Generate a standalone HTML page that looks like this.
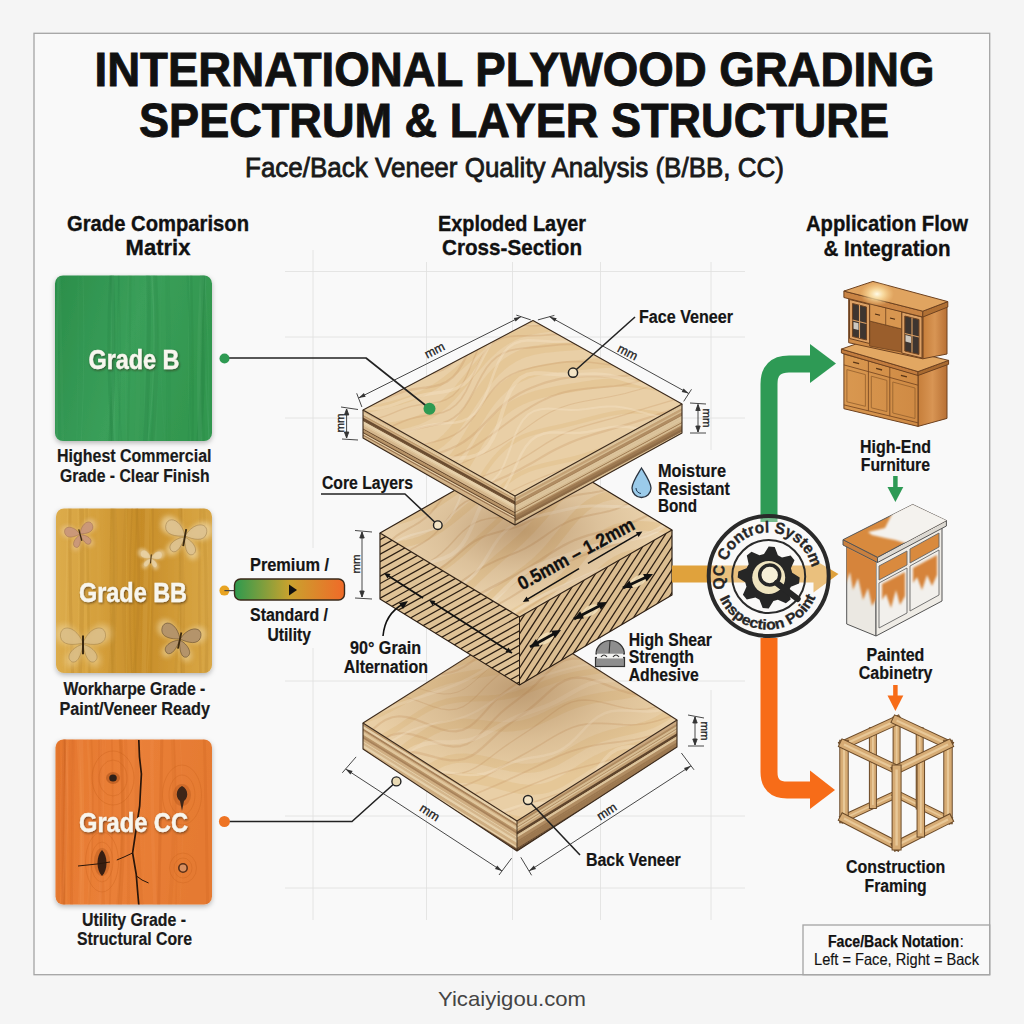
<!DOCTYPE html>
<html><head><meta charset="utf-8">
<style>
html,body{margin:0;padding:0;width:1024px;height:1024px;overflow:hidden;background:#f5f5f5;}
svg{position:absolute;left:0;top:0;}
text{font-family:"Liberation Sans",sans-serif;}
</style></head>
<body>
<svg width="1024" height="1024" viewBox="0 0 1024 1024">
<defs>
  <linearGradient id="gB" x1="0" y1="0" x2="1" y2="0.3">
    <stop offset="0" stop-color="#2b8e4a"/><stop offset="0.55" stop-color="#3a9f5a"/><stop offset="1" stop-color="#33974f"/>
  </linearGradient>
  <linearGradient id="gBB" x1="0" y1="0" x2="1" y2="0">
    <stop offset="0" stop-color="#dcac4c"/><stop offset="0.3" stop-color="#d49e3a"/><stop offset="0.55" stop-color="#c68c28"/><stop offset="0.78" stop-color="#d29c38"/><stop offset="1" stop-color="#d9a848"/>
  </linearGradient>
  <filter id="blur1" x="-20%" y="-20%" width="140%" height="140%"><feGaussianBlur stdDeviation="1"/></filter>
  <filter id="blur2"><feGaussianBlur stdDeviation="2"/></filter>
  <linearGradient id="gCC" x1="0" y1="0" x2="1" y2="0.2">
    <stop offset="0" stop-color="#e5772e"/><stop offset="0.5" stop-color="#ea8038"/><stop offset="1" stop-color="#e57a32"/>
  </linearGradient>
  <linearGradient id="gBar" x1="0" y1="0" x2="1" y2="0">
    <stop offset="0" stop-color="#2e9a4e"/><stop offset="0.5" stop-color="#c9a22e"/><stop offset="1" stop-color="#f06a28"/>
  </linearGradient>
  <radialGradient id="shadowB" gradientUnits="userSpaceOnUse" cx="520" cy="690" r="120" gradientTransform="translate(520 690) scale(1.3 0.75) translate(-520 -690)">
    <stop offset="0" stop-color="#8a5e34" stop-opacity="0.45"/><stop offset="0.55" stop-color="#8a5e34" stop-opacity="0.15"/><stop offset="1" stop-color="#8a5e34" stop-opacity="0"/>
  </radialGradient>
  <radialGradient id="shadowM" gradientUnits="userSpaceOnUse" cx="520" cy="530" r="110" gradientTransform="translate(520 530) scale(1.3 0.7) translate(-520 -530)">
    <stop offset="0" stop-color="#8a5e34" stop-opacity="0.45"/><stop offset="0.55" stop-color="#8a5e34" stop-opacity="0.15"/><stop offset="1" stop-color="#8a5e34" stop-opacity="0"/>
  </radialGradient>
  <filter id="sh" x="-20%" y="-20%" width="140%" height="140%"><feDropShadow dx="0" dy="2" stdDeviation="2.5" flood-color="#000" flood-opacity="0.28"/></filter>
  <filter id="tsh" x="-10%" y="-30%" width="120%" height="160%"><feDropShadow dx="0.8" dy="1.2" stdDeviation="1.2" flood-color="#2a1a0a" flood-opacity="0.6"/></filter>
</defs>
<!-- frame -->
<rect x="34" y="33.3" width="955.7" height="941.4" fill="#f9f9f9" stroke="#a4a4a4" stroke-width="1.3"/>

<rect x="55" y="275.5" width="157" height="165.5" rx="8" fill="url(#gB)" filter="url(#sh)"/>
<rect x="56" y="508.5" width="156" height="164.5" rx="8" fill="url(#gBB)" filter="url(#sh)"/>
<rect x="55.5" y="739.5" width="156.5" height="165" rx="8" fill="url(#gCC)" filter="url(#sh)"/>
<g stroke="#e0e0de" stroke-width="0.8" fill="none">
<line x1="313" y1="250" x2="313" y2="548"/><line x1="313" y1="648" x2="313" y2="920"/>
<line x1="711" y1="262" x2="711" y2="450"/><line x1="711" y1="690" x2="711" y2="920"/>
<line x1="426.5" y1="262" x2="426.5" y2="920"/>
<line x1="512.5" y1="262" x2="512.5" y2="920"/>
<line x1="600.5" y1="262" x2="600.5" y2="920"/>
<line x1="285" y1="271.5" x2="745" y2="271.5"/>
<line x1="285" y1="337" x2="745" y2="337"/>
<line x1="285" y1="418" x2="745" y2="418"/>
<line x1="285" y1="681" x2="745" y2="681"/>
<line x1="285" y1="816" x2="745" y2="816"/>
<line x1="285" y1="888" x2="745" y2="888"/>
</g>
<clipPath id="bbt"><polygon points="523.0,622.0 677.0,720.0 517.0,821.0 363.0,723.0"/></clipPath>
<clipPath id="bbl"><polygon points="363.0,723.0 517.0,821.0 517.0,851.0 363.0,749.0"/></clipPath>
<clipPath id="bbr"><polygon points="517.0,821.0 677.0,720.0 677.0,747.0 517.0,851.0"/></clipPath>
<polygon points="363.0,723.0 517.0,821.0 517.0,851.0 363.0,749.0" fill="#c9a87c"/>
<g clip-path="url(#bbl)" fill="none">
<path d="M361.0,723.9 Q440.0,772.8 519.0,821.9" stroke="#b89468" stroke-width="1.80"/>
<path d="M361.0,726.1 Q440.0,774.8 519.0,824.1" stroke="#e6d0aa" stroke-width="2.68"/>
<path d="M361.0,728.4 Q440.0,777.0 519.0,826.4" stroke="#a8825a" stroke-width="1.93"/>
<path d="M361.0,730.1 Q440.0,779.2 519.0,828.1" stroke="#cfae82" stroke-width="1.47"/>
<path d="M361.0,732.2 Q440.0,781.4 519.0,830.2" stroke="#e0c69c" stroke-width="2.76"/>
<path d="M361.0,734.5 Q440.0,783.6 519.0,832.5" stroke="#b89468" stroke-width="1.67"/>
<path d="M361.0,736.4 Q440.0,785.5 519.0,834.4" stroke="#a8825a" stroke-width="2.15"/>
<path d="M361.0,738.8 Q440.0,787.2 519.0,836.8" stroke="#cfae82" stroke-width="2.63"/>
<path d="M361.0,740.7 Q440.0,789.8 519.0,838.7" stroke="#e6d0aa" stroke-width="1.22"/>
<path d="M361.0,742.6 Q440.0,791.5 519.0,840.6" stroke="#d4b68c" stroke-width="2.51"/>
<path d="M361.0,745.1 Q440.0,794.3 519.0,843.1" stroke="#e6d0aa" stroke-width="2.65"/>
<path d="M361.0,747.4 Q440.0,796.4 519.0,845.4" stroke="#cfae82" stroke-width="1.90"/>
<path d="M361.0,749.1 Q440.0,798.3 519.0,847.1" stroke="#cfae82" stroke-width="1.41"/>
<path d="M361.0,750.5 Q440.0,799.5 519.0,848.5" stroke="#e6d0aa" stroke-width="1.49"/>
<path d="M361.0,751.7 Q440.0,800.6 519.0,849.7" stroke="#cfae82" stroke-width="0.87"/>
<path d="M361.0,753.5 Q440.0,801.9 519.0,851.5" stroke="#6a4c30" stroke-width="2.66"/>
<path d="M361.0,755.2 Q440.0,803.9 519.0,853.2" stroke="#e0c69c" stroke-width="0.84"/>
</g>
<polygon points="517.0,821.0 677.0,720.0 677.0,747.0 517.0,851.0" fill="#c2a074"/>
<g clip-path="url(#bbr)" fill="none">
<path d="M515.0,821.9 Q597.0,771.0 679.0,720.9" stroke="#caa880" stroke-width="1.84"/>
<path d="M515.0,823.3 Q597.0,772.7 679.0,722.3" stroke="#caa880" stroke-width="0.82"/>
<path d="M515.0,824.8 Q597.0,774.5 679.0,723.8" stroke="#b08c62" stroke-width="2.22"/>
<path d="M515.0,826.9 Q597.0,776.6 679.0,725.9" stroke="#d6bc92" stroke-width="2.12"/>
<path d="M515.0,828.6 Q597.0,777.9 679.0,727.6" stroke="#b08c62" stroke-width="1.12"/>
<path d="M515.0,829.9 Q597.0,778.9 679.0,728.9" stroke="#dcc49c" stroke-width="1.55"/>
<path d="M515.0,832.0 Q597.0,781.5 679.0,731.0" stroke="#c4a276" stroke-width="2.60"/>
<path d="M515.0,834.6 Q597.0,784.4 679.0,733.6" stroke="#5e442c" stroke-width="2.60"/>
<path d="M515.0,836.4 Q597.0,786.3 679.0,735.4" stroke="#d6bc92" stroke-width="0.99"/>
<path d="M515.0,838.0 Q597.0,787.0 679.0,737.0" stroke="#dcc49c" stroke-width="2.26"/>
<path d="M515.0,840.6 Q597.0,789.6 679.0,739.6" stroke="#b08c62" stroke-width="2.97"/>
<path d="M515.0,843.0 Q597.0,792.5 679.0,742.0" stroke="#9c7850" stroke-width="1.73"/>
<path d="M515.0,845.2 Q597.0,795.3 679.0,744.2" stroke="#9c7850" stroke-width="2.74"/>
<path d="M515.0,847.9 Q597.0,797.5 679.0,746.9" stroke="#9c7850" stroke-width="2.75"/>
<path d="M515.0,849.8 Q597.0,799.5 679.0,748.8" stroke="#5e442c" stroke-width="0.98"/>
<path d="M515.0,851.2 Q597.0,800.8 679.0,750.2" stroke="#5e442c" stroke-width="1.83"/>
<path d="M515.0,853.2 Q597.0,803.3 679.0,752.2" stroke="#c4a276" stroke-width="2.21"/>
</g>
<polygon points="523.0,622.0 677.0,720.0 517.0,821.0 363.0,723.0" fill="#e9cfa6"/>
<g clip-path="url(#bbt)" fill="none" stroke="#e2c392" stroke-opacity="0.7" stroke-linecap="round" stroke-linejoin="round">
<path d="M277.0,634.0 L283.7,632.1 L290.4,630.1 L297.2,628.2 L303.9,626.2 L310.6,624.2 L317.3,622.1 L323.9,620.0 L330.6,617.9 L337.3,615.8 L343.9,613.6 L350.6,611.5 L357.3,609.4 L364.0,607.4 L370.7,605.4 L377.4,603.4 L384.2,601.5 L390.9,599.6 L397.7,597.7 L404.4,595.8 L411.1,593.8 L417.8,591.8 L424.5,589.7 L431.1,587.5 L437.7,585.2 L444.3,582.8 L450.9,580.3 L457.4,577.8 L463.9,575.2 L470.4,572.5 L476.9,569.9 L483.5,567.3 L490.0,564.7 L496.5,562.2 L503.1,559.8 L509.7,557.5 L516.3,555.3 L523.0,553.1 L529.7,551.0 L536.4,549.0 L543.1,547.0 L549.8,545.0 L556.5,543.0 L563.2,541.0 L569.9,539.0 L576.6,536.9 L583.3,534.8 L590.0,532.6 L596.6,530.5 L603.3,528.3 L609.9,526.1 L616.6,524.0 L623.3,521.9 L630.0,519.9 L636.7,517.9 L643.4,515.9 L650.2,514.1 L656.9,512.2 L663.7,510.4" stroke-width="10.41"/>
<path d="M284.8,658.0 L291.5,656.0 L298.2,654.0 L304.9,651.9 L311.6,649.9 L318.2,647.8 L324.9,645.6 L331.6,643.5 L338.2,641.4 L344.9,639.2 L351.6,637.1 L358.2,635.0 L364.9,632.9 L371.6,630.8 L378.3,628.8 L385.0,626.7 L391.7,624.7 L398.4,622.7 L405.1,620.7 L411.8,618.6 L418.5,616.5 L425.2,614.4 L431.8,612.2 L438.4,609.9 L445.0,607.6 L451.6,605.1 L458.1,602.6 L464.7,600.1 L471.2,597.5 L477.7,594.9 L484.2,592.4 L490.8,589.8 L497.3,587.4 L503.9,585.0 L510.5,582.7 L517.2,580.5 L523.9,578.4 L530.6,576.3 L537.3,574.3 L544.0,572.4 L550.7,570.5 L557.5,568.5 L564.2,566.6 L570.9,564.6 L577.6,562.6 L584.3,560.5 L591.0,558.5 L597.7,556.3 L604.3,554.2 L611.0,552.1 L617.7,549.9 L624.3,547.8 L631.0,545.7 L637.7,543.6 L644.4,541.6 L651.1,539.6 L657.8,537.7 L664.6,535.7 L671.3,533.8" stroke-width="9.74"/>
<path d="M296.1,692.9 L302.7,690.5 L309.3,688.2 L315.9,685.9 L322.5,683.6 L329.2,681.4 L335.8,679.2 L342.4,677.0 L349.1,674.8 L355.7,672.6 L362.4,670.4 L369.0,668.1 L375.6,665.8 L382.2,663.5 L388.8,661.2 L395.4,658.8 L402.0,656.4 L408.6,654.0 L415.2,651.6 L421.8,649.2 L428.3,646.8 L434.9,644.5 L441.5,642.2 L448.2,639.9 L454.8,637.6 L461.4,635.2 L468.0,632.9 L474.6,630.6 L481.2,628.2 L487.8,625.8 L494.3,623.5 L501.0,621.1 L507.6,618.9 L514.2,616.7 L520.9,614.6 L527.6,612.6 L534.4,610.7 L541.1,608.9 L547.9,607.1 L554.7,605.4 L561.5,603.7 L568.3,602.0 L575.1,600.2 L581.9,598.4 L588.7,596.6 L595.4,594.7 L602.2,592.8 L608.9,590.9 L615.6,588.8 L622.3,586.7 L628.9,584.6 L635.6,582.4 L642.2,580.2 L648.8,577.8 L655.4,575.5 L662.0,573.0 L668.5,570.6 L675.1,568.1 L681.6,565.6" stroke-width="9.60"/>
<path d="M306.0,723.4 L312.4,720.5 L318.9,717.7 L325.4,715.1 L331.9,712.6 L338.5,710.2 L345.1,707.9 L351.8,705.7 L358.4,703.4 L365.0,701.1 L371.6,698.7 L378.1,696.2 L384.6,693.5 L391.1,690.7 L397.5,687.8 L403.9,684.9 L410.3,681.9 L416.7,679.0 L423.1,676.1 L429.6,673.4 L436.1,670.8 L442.7,668.4 L449.3,666.1 L456.0,664.0 L462.7,662.0 L469.4,660.0 L476.1,658.1 L482.9,656.0 L489.5,654.0 L496.2,651.8 L502.9,649.6 L509.5,647.4 L516.1,645.2 L522.8,643.1 L529.5,641.1 L536.3,639.2 L543.1,637.5 L549.9,635.9 L556.8,634.4 L563.7,633.0 L570.6,631.7 L577.6,630.4 L584.5,629.0 L591.4,627.6 L598.3,626.2 L605.1,624.7 L612.0,623.0 L618.8,621.3 L625.5,619.4 L632.2,617.4 L638.8,615.1 L645.4,612.7 L651.9,610.0 L658.3,607.1 L664.7,604.1 L671.0,600.9 L677.3,597.6 L683.6,594.3 L689.9,591.1" stroke-width="5.71"/>
<path d="M311.7,740.8 L317.9,737.4 L324.2,734.2 L330.7,731.3 L337.2,728.7 L343.7,726.3 L350.3,723.9 L356.9,721.6 L363.5,719.2 L370.1,716.7 L376.5,714.0 L382.9,711.0 L389.3,707.8 L395.5,704.4 L401.8,700.9 L407.9,697.3 L414.2,693.8 L420.4,690.4 L426.8,687.3 L433.2,684.4 L439.8,682.0 L446.4,679.9 L453.2,678.2 L460.1,676.7 L467.1,675.5 L474.1,674.4 L481.1,673.3 L488.1,672.1 L495.0,670.7 L501.8,669.1 L508.6,667.2 L515.3,665.2 L521.9,663.1 L528.6,660.9 L535.3,658.8 L541.9,656.7 L548.7,654.8 L555.5,653.0 L562.3,651.4 L569.2,650.0 L576.1,648.7 L583.1,647.5 L590.1,646.3 L597.1,645.2 L604.1,644.0 L611.0,642.7 L617.9,641.2 L624.7,639.6 L631.5,637.7 L638.1,635.5 L644.6,632.9 L651.0,630.0 L657.3,626.7 L663.5,623.0 L669.6,619.1 L675.6,614.9 L681.6,610.7 L687.6,606.5 L693.6,602.5" stroke-width="8.66"/>
<path d="M319.5,764.8 L325.6,761.0 L331.9,757.7 L338.3,754.7 L344.8,752.1 L351.3,749.6 L357.9,747.2 L364.5,744.8 L371.0,742.3 L377.5,739.4 L383.8,736.3 L390.0,732.8 L396.2,729.1 L402.2,725.1 L408.3,721.0 L414.3,716.9 L420.4,713.0 L426.6,709.4 L432.9,706.3 L439.5,703.7 L446.2,701.7 L453.1,700.3 L460.1,699.4 L467.3,698.9 L474.6,698.6 L481.9,698.4 L489.2,698.2 L496.4,697.7 L503.5,696.8 L510.4,695.5 L517.2,693.8 L523.9,691.6 L530.4,689.3 L537.0,686.7 L543.5,684.1 L550.1,681.7 L556.7,679.4 L563.4,677.3 L570.2,675.6 L577.0,674.1 L584.0,672.9 L591.0,671.8 L598.1,670.9 L605.2,670.0 L612.2,669.1 L619.2,668.0 L626.2,666.7 L633.0,665.1 L639.7,663.1 L646.2,660.5 L652.6,657.5 L658.8,653.9 L664.8,649.8 L670.7,645.2 L676.5,640.4 L682.2,635.3 L687.9,630.2 L693.7,625.4 L699.6,620.9" stroke-width="5.86"/>
<path d="M327.0,788.0 L333.1,784.2 L339.4,780.9 L345.8,778.0 L352.4,775.4 L358.9,773.0 L365.5,770.6 L372.0,768.0 L378.5,765.2 L384.8,762.1 L391.0,758.5 L397.1,754.6 L403.1,750.3 L409.0,745.9 L414.9,741.5 L420.9,737.2 L427.0,733.3 L433.2,729.8 L439.7,727.1 L446.4,725.1 L453.4,723.9 L460.6,723.4 L468.0,723.6 L475.6,724.2 L483.2,725.1 L490.9,726.0 L498.4,726.6 L505.9,726.9 L513.1,726.6 L520.2,725.6 L527.0,724.0 L533.7,721.8 L540.2,719.2 L546.6,716.2 L552.9,713.1 L559.3,710.0 L565.7,707.1 L572.2,704.5 L578.8,702.3 L585.6,700.4 L592.4,698.9 L599.4,697.6 L606.4,696.6 L613.5,695.6 L620.5,694.7 L627.5,693.5 L634.4,692.1 L641.2,690.2 L647.7,687.8 L654.1,684.8 L660.3,681.1 L666.2,676.8 L672.0,671.9 L677.7,666.6 L683.2,661.0 L688.7,655.4 L694.3,649.9 L700.0,644.7 L705.9,640.2" stroke-width="9.60"/>
<path d="M337.3,819.7 L343.5,816.1 L349.8,813.0 L356.3,810.3 L362.9,807.8 L369.5,805.4 L376.0,802.9 L382.5,800.2 L388.9,797.2 L395.1,793.7 L401.2,789.9 L407.2,785.6 L413.1,781.2 L419.0,776.6 L424.9,772.2 L430.9,768.1 L437.1,764.5 L443.5,761.6 L450.2,759.5 L457.2,758.3 L464.5,758.0 L472.0,758.6 L479.8,759.8 L487.7,761.5 L495.7,763.5 L503.6,765.3 L511.5,766.9 L519.2,768.0 L526.7,768.4 L533.9,767.9 L540.9,766.7 L547.6,764.6 L554.0,761.9 L560.3,758.6 L566.5,755.1 L572.7,751.4 L578.9,747.7 L585.1,744.3 L591.5,741.2 L598.0,738.5 L604.6,736.2 L611.3,734.3 L618.1,732.6 L625.0,731.1 L631.9,729.6 L638.7,727.9 L645.4,726.0 L652.0,723.6 L658.4,720.6 L664.6,717.0 L670.6,712.8 L676.3,707.9 L682.0,702.5 L687.5,696.8 L692.9,690.9 L698.4,685.1 L704.0,679.6 L709.7,674.7 L715.7,670.6" stroke-width="9.22"/>
<path d="M342.4,835.3 L348.7,832.1 L355.1,829.2 L361.7,826.7 L368.3,824.3 L374.8,822.0 L381.4,819.4 L387.8,816.6 L394.1,813.3 L400.3,809.7 L406.4,805.7 L412.4,801.5 L418.3,797.1 L424.2,792.8 L430.3,788.7 L436.4,785.0 L442.8,782.0 L449.4,779.7 L456.3,778.3 L463.5,777.8 L471.0,778.2 L478.7,779.3 L486.7,781.0 L494.7,783.0 L502.7,785.2 L510.7,787.1 L518.6,788.7 L526.3,789.6 L533.7,789.8 L540.8,789.1 L547.7,787.5 L554.2,785.1 L560.6,782.1 L566.8,778.5 L572.9,774.6 L579.0,770.7 L585.1,766.7 L591.2,763.1 L597.5,759.7 L603.9,756.8 L610.5,754.3 L617.1,752.1 L623.9,750.2 L630.7,748.5 L637.4,746.7 L644.1,744.7 L650.7,742.4 L657.2,739.6 L663.5,736.2 L669.5,732.2 L675.4,727.7 L681.1,722.6 L686.7,717.1 L692.2,711.5 L697.7,705.8 L703.3,700.4 L709.1,695.4 L715.1,691.1 L721.3,687.7" stroke-width="10.03"/>
<path d="M351.5,863.4 L357.9,860.6 L364.5,858.0 L371.1,855.7 L377.7,853.4 L384.3,851.0 L390.8,848.4 L397.2,845.5 L403.5,842.2 L409.7,838.7 L415.8,834.8 L421.9,830.9 L428.0,826.9 L434.1,823.0 L440.3,819.5 L446.6,816.4 L453.2,814.0 L460.0,812.3 L467.1,811.4 L474.4,811.3 L482.0,811.9 L489.7,813.0 L497.6,814.6 L505.5,816.3 L513.4,818.1 L521.3,819.6 L529.0,820.7 L536.5,821.1 L543.8,820.8 L550.8,819.8 L557.5,818.0 L564.1,815.4 L570.4,812.3 L576.6,808.7 L582.7,804.8 L588.8,800.8 L594.9,796.9 L601.0,793.2 L607.3,789.8 L613.7,786.8 L620.1,784.1 L626.7,781.7 L633.4,779.5 L640.0,777.4 L646.7,775.2 L653.3,772.8 L659.8,770.2 L666.1,767.1 L672.3,763.5 L678.4,759.4 L684.3,754.9 L690.0,750.1 L695.7,745.0 L701.4,739.8 L707.2,734.8 L713.0,730.1 L719.0,726.0 L725.3,722.5 L731.8,719.9" stroke-width="5.66"/>
<path d="M359.5,888.1 L366.1,885.6 L372.7,883.3 L379.3,881.0 L385.9,878.7 L392.5,876.3 L399.0,873.7 L405.5,870.9 L411.8,867.8 L418.1,864.5 L424.3,861.0 L430.6,857.6 L436.8,854.1 L443.1,850.9 L449.5,848.0 L456.1,845.5 L462.8,843.5 L469.7,842.2 L476.8,841.4 L484.1,841.1 L491.5,841.3 L499.1,841.9 L506.7,842.7 L514.3,843.5 L521.9,844.3 L529.4,844.7 L536.8,844.8 L544.0,844.3 L551.1,843.3 L557.9,841.7 L564.5,839.4 L571.0,836.7 L577.3,833.6 L583.6,830.2 L589.8,826.6 L596.0,823.0 L602.2,819.5 L608.5,816.2 L614.9,813.1 L621.3,810.3 L627.8,807.7 L634.4,805.4 L641.0,803.1 L647.7,800.9 L654.3,798.6 L660.8,796.0 L667.3,793.3 L673.6,790.2 L679.9,786.7 L686.0,782.9 L692.0,778.9 L698.0,774.6 L704.0,770.2 L709.9,765.9 L716.0,761.8 L722.1,758.1 L728.4,754.8 L734.9,752.1 L741.6,750.1" stroke-width="6.85"/>
<path d="M366.5,909.5 L373.1,907.2 L379.7,905.0 L386.4,902.7 L393.0,900.5 L399.6,898.1 L406.1,895.6 L412.6,893.0 L419.1,890.2 L425.5,887.3 L431.9,884.4 L438.3,881.4 L444.8,878.6 L451.3,875.9 L457.8,873.5 L464.5,871.4 L471.3,869.6 L478.2,868.2 L485.2,867.1 L492.3,866.3 L499.5,865.7 L506.7,865.3 L513.9,865.0 L521.2,864.6 L528.4,864.1 L535.5,863.4 L542.6,862.4 L549.5,861.1 L556.3,859.4 L563.0,857.3 L569.5,854.9 L576.0,852.2 L582.5,849.3 L588.8,846.3 L595.2,843.2 L601.6,840.2 L608.0,837.2 L614.4,834.4 L620.9,831.7 L627.5,829.2 L634.0,826.9 L640.7,824.6 L647.3,822.4 L653.9,820.1 L660.5,817.8 L667.1,815.3 L673.6,812.6 L680.0,809.8 L686.4,806.7 L692.7,803.4 L698.9,800.1 L705.2,796.6 L711.4,793.1 L717.7,789.8 L724.0,786.6 L730.4,783.7 L736.9,781.1 L743.6,778.9 L750.3,777.1" stroke-width="7.76"/>
</g>
<g clip-path="url(#bbt)" fill="none" stroke="#c49462" stroke-opacity="0.28" stroke-linecap="round" stroke-linejoin="round">
<path d="M278.6,639.0 L285.3,637.0 L292.0,635.0 L298.7,632.9 L305.4,630.8 L312.1,628.7 L318.7,626.6 L325.4,624.4 L332.0,622.3 L338.7,620.2 L345.4,618.1 L352.1,616.1 L358.8,614.1 L365.5,612.1 L372.2,610.1 L378.9,608.0 L385.6,605.8 L392.2,603.6 L398.8,601.3 L405.4,598.9 L412.0,596.5 L418.6,594.0 L425.1,591.6 L431.7,589.3 L438.3,587.0 L445.0,584.7 L451.6,582.5 L458.3,580.4 L464.9,578.2 L471.6,576.1 L478.3,573.9 L484.9,571.7 L491.5,569.5 L498.2,567.3 L504.8,565.2 L511.5,563.0 L518.2,561.0 L524.9,559.0 L531.6,557.0 L538.4,555.1 L545.1,553.2 L551.9,551.3 L558.6,549.3 L565.3,547.3 L572.0,545.2 L578.6,543.0 L585.2,540.7 L591.8,538.4 L598.4,536.0 L605.0,533.7 L611.6,531.4 L618.2,529.1 L624.9,526.8 L631.5,524.6 L638.2,522.5 L644.8,520.3 L651.5,518.1 L658.1,515.9 L664.8,513.7" stroke-width="1.23"/>
<path d="M281.8,649.0 L288.6,647.2 L295.4,645.3 L302.1,643.3 L308.8,641.3 L315.5,639.2 L322.1,637.1 L328.8,634.9 L335.5,632.9 L342.2,630.9 L348.9,628.9 L355.7,627.1 L362.4,625.2 L369.2,623.3 L375.9,621.4 L382.6,619.3 L389.2,617.1 L395.8,614.7 L402.4,612.2 L408.9,609.5 L415.3,606.8 L421.8,604.2 L428.3,601.5 L434.9,599.0 L441.5,596.7 L448.1,594.4 L454.8,592.2 L461.4,590.1 L468.1,588.0 L474.8,585.9 L481.4,583.7 L488.1,581.5 L494.7,579.3 L501.3,577.0 L508.0,574.9 L514.7,572.8 L521.4,570.9 L528.2,569.1 L535.0,567.4 L541.8,565.7 L548.7,564.1 L555.5,562.4 L562.2,560.6 L569.0,558.6 L575.6,556.5 L582.2,554.2 L588.8,551.7 L595.3,549.2 L601.9,546.6 L608.4,544.0 L614.9,541.6 L621.5,539.2 L628.1,536.9 L634.8,534.7 L641.5,532.5 L648.1,530.4 L654.8,528.2 L661.4,526.0 L668.0,523.7" stroke-width="1.17"/>
<path d="M287.0,664.9 L293.7,662.8 L300.4,660.7 L307.0,658.6 L313.7,656.5 L320.4,654.3 L327.0,652.2 L333.7,650.0 L340.4,647.9 L347.0,645.8 L353.7,643.7 L360.4,641.7 L367.1,639.6 L373.8,637.5 L380.5,635.4 L387.1,633.2 L393.8,631.0 L400.4,628.7 L407.0,626.4 L413.6,624.1 L420.2,621.7 L426.8,619.4 L433.4,617.0 L440.0,614.7 L446.6,612.4 L453.2,610.1 L459.8,607.8 L466.4,605.5 L473.0,603.2 L479.6,600.9 L486.2,598.5 L492.9,596.2 L499.5,593.9 L506.1,591.7 L512.8,589.5 L519.4,587.4 L526.1,585.4 L532.9,583.5 L539.6,581.6 L546.4,579.8 L553.2,578.0 L559.9,576.1 L566.7,574.2 L573.4,572.2 L580.1,570.1 L586.7,568.0 L593.4,565.8 L600.0,563.5 L606.6,561.3 L613.3,559.0 L619.9,556.8 L626.5,554.6 L633.2,552.4 L639.9,550.3 L646.5,548.1 L653.2,546.0 L659.8,543.8 L666.5,541.6 L673.1,539.4" stroke-width="2.02"/>
<path d="M292.1,680.6 L298.6,678.0 L305.2,675.5 L311.8,673.2 L318.4,670.9 L325.0,668.7 L331.7,666.4 L338.3,664.2 L344.9,661.8 L351.4,659.3 L358.0,656.8 L364.5,654.2 L371.0,651.6 L377.6,649.1 L384.2,646.8 L390.9,644.8 L397.6,642.9 L404.4,641.2 L411.3,639.7 L418.2,638.2 L425.1,636.7 L431.9,635.1 L438.6,633.2 L445.3,631.1 L451.9,628.8 L458.5,626.3 L464.9,623.6 L471.4,620.8 L477.9,618.1 L484.4,615.4 L490.9,612.8 L497.4,610.3 L504.0,608.0 L510.6,605.7 L517.3,603.4 L523.9,601.0 L530.4,598.6 L537.0,596.2 L543.6,593.8 L550.2,591.4 L556.8,589.0 L563.4,586.8 L570.1,584.8 L576.9,583.0 L583.7,581.4 L590.6,579.9 L597.5,578.5 L604.4,577.1 L611.3,575.6 L618.1,574.0 L624.9,572.2 L631.6,570.3 L638.3,568.2 L645.0,566.0 L651.6,563.8 L658.3,561.6 L664.9,559.5 L671.6,557.5 L678.4,555.5" stroke-width="1.73"/>
<path d="M297.6,697.5 L303.9,694.3 L310.3,691.4 L316.8,688.8 L323.4,686.4 L330.0,684.1 L336.6,681.7 L343.2,679.2 L349.6,676.4 L356.0,673.3 L362.3,670.0 L368.6,666.7 L374.9,663.6 L381.4,660.8 L388.0,658.5 L394.8,656.9 L401.8,655.8 L409.0,655.2 L416.3,655.0 L423.5,654.7 L430.8,654.3 L437.8,653.4 L444.7,652.0 L451.4,649.9 L457.9,647.3 L464.3,644.2 L470.5,640.8 L476.8,637.3 L483.0,634.0 L489.4,630.8 L495.8,627.9 L502.3,625.2 L508.8,622.7 L515.3,620.1 L521.8,617.5 L528.3,614.6 L534.6,611.6 L541.0,608.3 L547.3,605.1 L553.6,602.0 L560.1,599.1 L566.7,596.8 L573.4,595.0 L580.4,593.9 L587.6,593.2 L594.8,592.9 L602.1,592.8 L609.4,592.5 L616.6,592.1 L623.7,591.2 L630.6,589.8 L637.4,588.0 L644.1,585.9 L650.7,583.7 L657.3,581.4 L664.0,579.3 L670.7,577.3 L677.5,575.6 L684.4,574.0" stroke-width="1.38"/>
<path d="M303.2,714.8 L309.4,711.0 L315.7,707.8 L322.1,705.1 L328.7,702.6 L335.3,700.2 L341.8,697.6 L348.2,694.7 L354.4,691.2 L360.6,687.4 L366.6,683.4 L372.7,679.4 L378.9,675.9 L385.3,673.1 L392.1,671.2 L399.2,670.4 L406.6,670.5 L414.2,671.4 L422.0,672.5 L429.6,673.5 L437.2,674.0 L444.4,673.7 L451.3,672.3 L457.9,669.9 L464.2,666.6 L470.3,662.7 L476.3,658.4 L482.2,654.1 L488.3,650.1 L494.4,646.4 L500.7,643.1 L507.1,640.1 L513.5,637.2 L519.9,634.2 L526.2,630.9 L532.4,627.3 L538.5,623.4 L544.5,619.3 L550.6,615.2 L556.7,611.6 L563.2,608.7 L569.9,606.7 L576.9,605.7 L584.3,605.7 L591.9,606.5 L599.6,607.7 L607.4,609.0 L615.1,610.0 L622.6,610.4 L629.9,610.1 L636.9,609.0 L643.6,607.2 L650.3,605.0 L656.8,602.6 L663.5,600.2 L670.2,598.2 L677.0,596.5 L683.9,595.2 L690.8,593.8" stroke-width="2.17"/>
<path d="M308.5,730.9 L314.5,726.9 L320.8,723.5 L327.2,720.8 L333.8,718.3 L340.3,715.8 L346.8,712.9 L353.0,709.4 L359.0,705.3 L364.9,700.8 L370.8,696.1 L376.7,691.8 L382.9,688.2 L389.5,685.8 L396.5,684.7 L404.0,685.0 L411.8,686.5 L419.9,688.7 L428.0,691.0 L436.0,693.0 L443.7,694.0 L450.9,693.7 L457.8,692.0 L464.1,689.0 L470.1,684.8 L475.9,679.9 L481.6,674.8 L487.3,669.7 L493.1,665.1 L499.2,660.9 L505.3,657.2 L511.6,653.8 L517.8,650.4 L524.0,646.7 L530.0,642.7 L535.9,638.2 L541.8,633.4 L547.5,628.6 L553.5,624.2 L559.6,620.5 L566.2,618.0 L573.1,616.8 L580.6,617.0 L588.4,618.5 L596.5,620.8 L604.8,623.5 L613.0,626.1 L621.0,628.1 L628.7,629.1 L636.0,629.0 L643.0,627.8 L649.7,625.9 L656.3,623.4 L662.8,620.9 L669.4,618.6 L676.2,616.8 L683.1,615.4 L690.1,614.3 L697.1,613.2" stroke-width="0.98"/>
<path d="M312.2,742.5 L318.3,738.5 L324.6,735.3 L331.1,732.6 L337.6,730.1 L344.1,727.4 L350.4,724.1 L356.5,720.2 L362.3,715.6 L368.1,710.6 L373.8,705.6 L379.8,701.3 L386.1,698.1 L392.9,696.4 L400.3,696.3 L408.1,697.8 L416.3,700.4 L424.7,703.5 L433.0,706.6 L441.1,708.9 L448.8,709.8 L456.0,709.2 L462.6,706.9 L468.7,703.0 L474.4,698.1 L480.0,692.5 L485.5,686.7 L491.1,681.3 L496.8,676.3 L502.7,671.9 L508.8,667.9 L514.9,664.1 L521.0,660.2 L527.0,655.8 L532.7,651.0 L538.4,645.8 L544.0,640.4 L549.7,635.2 L555.6,630.7 L561.9,627.4 L568.6,625.6 L576.0,625.5 L583.8,627.0 L592.1,629.8 L600.6,633.4 L609.2,637.2 L617.7,640.5 L625.8,642.9 L633.5,643.9 L640.8,643.7 L647.7,642.2 L654.3,640.0 L660.8,637.3 L667.3,634.8 L674.0,632.6 L680.8,631.0 L687.8,629.9 L694.8,628.9 L701.8,627.7" stroke-width="1.17"/>
<path d="M318.2,760.9 L324.3,757.1 L330.7,754.1 L337.3,751.6 L343.8,749.1 L350.2,746.2 L356.4,742.6 L362.4,738.3 L368.2,733.4 L373.9,728.4 L379.7,723.6 L385.8,719.7 L392.3,717.2 L399.4,716.3 L407.0,717.1 L415.1,719.3 L423.5,722.5 L432.0,726.0 L440.3,729.0 L448.3,731.0 L455.8,731.4 L462.7,730.0 L469.1,726.8 L474.9,722.3 L480.5,716.7 L485.9,710.7 L491.3,704.7 L496.8,699.0 L502.5,693.9 L508.4,689.3 L514.3,685.0 L520.3,680.7 L526.2,676.2 L532.0,671.2 L537.6,665.9 L543.1,660.2 L548.6,654.6 L554.4,649.6 L560.5,645.7 L567.0,643.2 L574.2,642.6 L581.9,643.7 L590.1,646.4 L598.7,650.3 L607.5,654.6 L616.2,658.8 L624.7,662.2 L632.8,664.4 L640.4,665.1 L647.5,664.4 L654.3,662.6 L660.8,660.1 L667.3,657.3 L673.8,654.8 L680.5,652.8 L687.4,651.4 L694.5,650.4 L701.5,649.3 L708.4,647.9" stroke-width="2.13"/>
<path d="M322.6,774.4 L328.9,771.1 L335.3,768.4 L341.9,765.9 L348.4,763.3 L354.8,760.3 L361.0,756.6 L366.9,752.2 L372.7,747.5 L378.5,742.7 L384.5,738.5 L390.9,735.3 L397.6,733.6 L404.9,733.3 L412.7,734.6 L420.9,737.1 L429.2,740.1 L437.6,743.1 L445.7,745.5 L453.4,746.6 L460.6,746.1 L467.2,743.9 L473.4,740.1 L479.1,735.2 L484.7,729.6 L490.1,723.7 L495.6,717.9 L501.2,712.5 L507.0,707.6 L512.9,703.1 L518.8,698.7 L524.7,694.2 L530.5,689.3 L536.1,684.1 L541.7,678.6 L547.2,672.9 L552.9,667.7 L558.8,663.3 L565.1,660.1 L572.0,658.6 L579.4,658.8 L587.4,660.7 L595.8,663.9 L604.5,667.9 L613.2,672.1 L621.8,675.9 L630.0,678.6 L637.9,680.1 L645.2,680.1 L652.2,678.9 L658.8,676.7 L665.3,674.0 L671.8,671.3 L678.4,669.0 L685.2,667.1 L692.1,665.7 L699.1,664.6 L706.0,663.4 L712.8,661.5" stroke-width="2.15"/>
<path d="M327.1,788.4 L333.6,785.6 L340.1,783.1 L346.7,780.7 L353.2,778.1 L359.6,775.0 L365.8,771.4 L371.8,767.3 L377.8,763.0 L383.8,758.9 L390.0,755.5 L396.6,753.0 L403.5,751.7 L410.9,751.8 L418.7,753.0 L426.7,755.0 L434.8,757.2 L442.7,759.1 L450.5,760.3 L457.8,760.2 L464.7,758.8 L471.2,756.0 L477.2,752.0 L483.0,747.2 L488.7,741.9 L494.3,736.6 L500.0,731.4 L505.8,726.6 L511.7,722.1 L517.6,717.8 L523.6,713.5 L529.5,709.0 L535.3,704.2 L541.0,699.1 L546.7,693.8 L552.4,688.8 L558.3,684.2 L564.5,680.7 L571.1,678.4 L578.2,677.6 L585.8,678.3 L593.8,680.3 L602.1,683.2 L610.6,686.6 L619.0,689.9 L627.2,692.5 L635.1,694.2 L642.6,694.6 L649.7,693.9 L656.5,692.1 L663.1,689.7 L669.6,687.1 L676.1,684.5 L682.8,682.3 L689.5,680.5 L696.4,679.1 L703.3,677.7 L710.2,676.1 L716.8,673.8" stroke-width="2.33"/>
<path d="M332.2,804.0 L338.7,801.4 L345.3,799.1 L351.9,796.8 L358.5,794.2 L364.9,791.3 L371.1,787.9 L377.3,784.4 L383.5,780.8 L389.8,777.4 L396.3,774.7 L403.0,772.7 L410.0,771.6 L417.3,771.4 L424.8,772.0 L432.5,772.9 L440.2,773.8 L447.7,774.3 L455.0,774.2 L462.0,773.1 L468.7,771.0 L475.0,767.9 L481.2,764.1 L487.1,759.8 L493.0,755.3 L498.9,750.8 L504.9,746.4 L510.9,742.3 L516.9,738.3 L523.0,734.3 L529.1,730.3 L535.1,726.1 L541.0,721.7 L546.9,717.2 L552.8,712.7 L558.8,708.5 L565.0,704.9 L571.4,702.2 L578.3,700.5 L585.5,700.0 L593.0,700.6 L600.8,702.1 L608.8,704.0 L616.9,706.1 L624.8,707.9 L632.6,709.1 L640.0,709.4 L647.2,708.8 L654.1,707.4 L660.8,705.4 L667.4,702.9 L673.9,700.4 L680.5,698.0 L687.2,695.9 L693.9,694.1 L700.8,692.5 L707.6,690.8 L714.3,688.8 L720.8,686.2" stroke-width="1.33"/>
<path d="M337.4,820.1 L344.0,817.8 L350.7,815.5 L357.3,813.3 L363.9,810.8 L370.3,808.1 L376.8,805.3 L383.2,802.3 L389.6,799.4 L396.1,796.7 L402.7,794.4 L409.5,792.6 L416.4,791.3 L423.5,790.5 L430.7,789.9 L437.9,789.5 L445.1,789.0 L452.2,788.2 L459.1,786.9 L465.9,785.1 L472.5,782.6 L478.9,779.7 L485.2,776.4 L491.4,772.9 L497.5,769.2 L503.7,765.6 L509.9,762.0 L516.1,758.5 L522.4,755.1 L528.6,751.6 L534.8,748.0 L541.0,744.4 L547.1,740.6 L553.3,736.9 L559.5,733.4 L565.8,730.2 L572.3,727.5 L579.0,725.4 L585.9,724.1 L593.1,723.4 L600.4,723.3 L607.9,723.7 L615.4,724.2 L622.9,724.6 L630.3,724.8 L637.6,724.5 L644.7,723.7 L651.6,722.3 L658.4,720.5 L665.0,718.3 L671.6,716.0 L678.2,713.7 L684.9,711.4 L691.5,709.4 L698.3,707.4 L705.0,705.6 L711.7,703.6 L718.4,701.4 L724.9,698.8" stroke-width="1.66"/>
<path d="M342.4,835.3 L349.0,833.1 L355.7,830.9 L362.3,828.7 L368.9,826.4 L375.5,824.1 L382.1,821.7 L388.7,819.3 L395.3,816.9 L401.9,814.7 L408.6,812.5 L415.3,810.6 L422.1,808.7 L428.9,807.0 L435.7,805.4 L442.5,803.7 L449.3,802.0 L456.1,800.2 L462.8,798.2 L469.4,796.0 L476.0,793.6 L482.6,791.0 L489.0,788.3 L495.5,785.5 L501.9,782.6 L508.3,779.7 L514.7,776.8 L521.1,773.8 L527.5,770.7 L533.9,767.7 L540.2,764.6 L546.6,761.6 L553.0,758.6 L559.4,755.8 L565.9,753.2 L572.5,750.8 L579.2,748.8 L586.0,747.0 L592.9,745.6 L599.9,744.4 L606.9,743.4 L614.0,742.5 L621.1,741.6 L628.1,740.6 L635.1,739.5 L642.0,738.1 L648.8,736.4 L655.6,734.6 L662.3,732.6 L669.0,730.5 L675.6,728.3 L682.3,726.1 L688.9,724.0 L695.6,721.9 L702.3,719.8 L709.0,717.7 L715.7,715.6 L722.3,713.4 L728.9,711.0" stroke-width="1.77"/>
<path d="M346.7,848.6 L353.4,846.5 L360.0,844.3 L366.7,842.2 L373.4,840.1 L380.1,838.0 L386.8,836.0 L393.4,833.9 L400.1,831.8 L406.8,829.7 L413.4,827.5 L420.1,825.2 L426.6,822.8 L433.2,820.4 L439.8,818.0 L446.4,815.5 L452.9,813.1 L459.5,810.8 L466.1,808.5 L472.8,806.3 L479.4,804.1 L486.1,801.9 L492.7,799.7 L499.3,797.4 L505.9,795.0 L512.5,792.5 L519.0,789.9 L525.5,787.2 L532.0,784.5 L538.5,781.9 L545.0,779.2 L551.5,776.8 L558.1,774.4 L564.8,772.2 L571.5,770.2 L578.2,768.3 L585.0,766.5 L591.8,764.8 L598.6,763.1 L605.4,761.3 L612.2,759.5 L618.9,757.6 L625.6,755.7 L632.4,753.7 L639.1,751.8 L645.8,749.8 L652.5,747.8 L659.2,745.8 L665.9,743.8 L672.6,741.7 L679.3,739.7 L686.0,737.6 L692.7,735.5 L699.3,733.3 L706.0,731.1 L712.6,728.9 L719.3,726.8 L726.0,724.6 L732.6,722.6" stroke-width="1.48"/>
<path d="M351.7,864.0 L358.4,861.9 L365.0,859.8 L371.7,857.7 L378.4,855.7 L385.1,853.7 L391.9,851.7 L398.6,849.7 L405.3,847.7 L411.9,845.5 L418.5,843.2 L425.1,840.7 L431.6,838.1 L438.1,835.4 L444.6,832.8 L451.1,830.1 L457.6,827.6 L464.2,825.2 L470.8,822.9 L477.5,820.8 L484.2,818.8 L490.9,816.8 L497.6,814.8 L504.3,812.7 L511.0,810.5 L517.6,808.2 L524.2,805.9 L530.7,803.4 L537.3,801.0 L543.9,798.6 L550.5,796.3 L557.2,794.2 L563.9,792.1 L570.6,790.2 L577.4,788.4 L584.1,786.5 L590.9,784.7 L597.6,782.7 L604.3,780.7 L611.0,778.5 L617.6,776.2 L624.2,773.9 L630.8,771.5 L637.4,769.2 L644.0,766.9 L650.6,764.7 L657.3,762.6 L664.0,760.5 L670.7,758.5 L677.4,756.5 L684.1,754.5 L690.8,752.4 L697.5,750.2 L704.1,748.0 L710.8,745.8 L717.4,743.6 L724.1,741.5 L730.8,739.5 L737.5,737.6" stroke-width="1.41"/>
<path d="M355.7,876.4 L362.4,874.3 L369.1,872.1 L375.7,870.0 L382.4,867.9 L389.1,865.8 L395.7,863.7 L402.4,861.5 L409.1,859.4 L415.7,857.2 L422.4,855.0 L429.0,852.7 L435.6,850.4 L442.2,848.1 L448.8,845.8 L455.5,843.5 L462.1,841.3 L468.7,839.1 L475.4,836.9 L482.0,834.8 L488.7,832.6 L495.4,830.5 L502.0,828.3 L508.7,826.1 L515.3,823.9 L521.9,821.6 L528.6,819.4 L535.2,817.0 L541.8,814.7 L548.4,812.4 L555.0,810.1 L561.6,807.9 L568.3,805.7 L575.0,803.6 L581.6,801.5 L588.3,799.4 L595.0,797.3 L601.7,795.3 L608.4,793.2 L615.1,791.1 L621.7,789.0 L628.4,786.9 L635.1,784.8 L641.7,782.6 L648.4,780.5 L655.1,778.4 L661.8,776.3 L668.5,774.2 L675.1,772.1 L681.8,770.0 L688.5,767.9 L695.2,765.8 L701.8,763.6 L708.5,761.4 L715.1,759.3 L721.8,757.1 L728.4,755.0 L735.1,752.9 L741.8,750.8" stroke-width="2.14"/>
<path d="M362.0,895.7 L368.7,893.5 L375.3,891.3 L381.9,888.9 L388.4,886.5 L395.0,884.0 L401.6,881.6 L408.2,879.3 L414.9,877.2 L421.6,875.2 L428.4,873.5 L435.3,872.0 L442.2,870.6 L449.1,869.2 L456.0,867.8 L462.8,866.2 L469.6,864.4 L476.3,862.3 L482.9,860.1 L489.5,857.6 L496.0,855.0 L502.5,852.4 L509.0,849.8 L515.6,847.4 L522.2,845.0 L528.8,842.6 L535.4,840.4 L542.0,838.1 L548.6,835.7 L555.2,833.3 L561.7,830.7 L568.2,828.0 L574.7,825.3 L581.1,822.6 L587.7,820.1 L594.3,817.7 L600.9,815.5 L607.7,813.6 L614.5,812.0 L621.4,810.5 L628.3,809.2 L635.2,807.8 L642.1,806.4 L649.0,804.8 L655.7,803.0 L662.4,801.0 L669.1,798.8 L675.7,796.5 L682.3,794.2 L688.9,791.9 L695.5,789.6 L702.2,787.4 L708.9,785.3 L715.5,783.2 L722.2,781.1 L728.8,778.9 L735.4,776.5 L742.0,773.9 L748.4,771.2" stroke-width="2.38"/>
<path d="M366.2,908.5 L372.8,906.2 L379.3,903.7 L385.8,901.0 L392.2,898.1 L398.7,895.3 L405.1,892.6 L411.7,890.2 L418.5,888.4 L425.4,887.1 L432.6,886.3 L439.8,886.0 L447.1,885.9 L454.4,885.7 L461.7,885.3 L468.7,884.4 L475.6,882.9 L482.3,880.8 L488.7,878.1 L495.1,875.0 L501.4,871.7 L507.7,868.4 L514.0,865.2 L520.4,862.3 L527.0,859.7 L533.5,857.3 L540.1,855.0 L546.7,852.6 L553.2,850.0 L559.7,847.1 L566.0,843.9 L572.2,840.4 L578.4,836.9 L584.7,833.5 L591.0,830.5 L597.6,827.9 L604.3,826.1 L611.3,824.9 L618.5,824.2 L625.7,823.9 L633.1,823.8 L640.3,823.6 L647.5,823.1 L654.6,822.1 L661.4,820.5 L668.1,818.5 L674.7,816.0 L681.2,813.4 L687.7,810.7 L694.2,808.1 L700.8,805.8 L707.4,803.6 L714.2,801.6 L720.9,799.6 L727.5,797.4 L734.0,794.8 L740.4,791.9 L746.7,788.5 L752.8,784.8" stroke-width="1.76"/>
<path d="M370.6,922.2 L377.2,919.8 L383.6,917.0 L390.0,913.8 L396.2,910.5 L402.5,907.2 L409.0,904.4 L415.7,902.3 L422.6,901.1 L429.9,900.9 L437.5,901.4 L445.2,902.5 L453.0,903.8 L460.7,904.9 L468.1,905.2 L475.3,904.7 L482.2,903.1 L488.7,900.5 L494.9,897.1 L501.0,893.1 L507.0,889.0 L513.1,885.0 L519.3,881.3 L525.6,878.2 L532.1,875.4 L538.6,873.0 L545.2,870.6 L551.7,867.9 L558.1,864.9 L564.3,861.3 L570.3,857.2 L576.3,852.9 L582.2,848.6 L588.3,844.6 L594.6,841.4 L601.2,839.1 L608.2,838.0 L615.5,837.8 L623.1,838.5 L630.8,839.7 L638.6,840.9 L646.2,841.8 L653.7,841.9 L660.8,841.3 L667.7,839.7 L674.3,837.4 L680.7,834.5 L687.0,831.4 L693.4,828.4 L699.9,825.6 L706.5,823.2 L713.1,821.1 L719.9,819.2 L726.6,817.1 L733.1,814.7 L739.5,811.6 L745.6,807.9 L751.5,803.4 L757.3,798.4" stroke-width="1.15"/>
</g>
<g clip-path="url(#bbt)" fill="none" stroke="#f4e4c8" stroke-opacity="0.4" stroke-linecap="round" stroke-linejoin="round">
<path d="M281.4,647.5 L288.0,645.3 L294.7,643.2 L301.3,641.0 L308.0,638.9 L314.6,636.7 L321.3,634.6 L328.0,632.4 L334.6,630.2 L341.3,628.1 L347.9,625.9 L354.6,623.7 L361.2,621.4 L367.8,619.2 L374.5,617.0 L381.1,614.8 L387.8,612.6 L394.4,610.4 L401.1,608.2 L407.7,606.1 L414.4,604.0 L421.1,601.8 L427.7,599.7 L434.4,597.5 L441.0,595.3 L447.7,593.1 L454.3,590.9 L461.0,588.6 L467.6,586.4 L474.2,584.2 L480.9,581.9 L487.5,579.7 L494.2,577.6 L500.8,575.4 L507.5,573.3 L514.1,571.1 L520.8,569.0 L527.5,566.9 L534.2,564.8 L540.8,562.6 L547.5,560.5 L554.1,558.3 L560.8,556.2 L567.5,554.0 L574.1,551.9 L580.8,549.8 L587.5,547.6 L594.2,545.5 L600.8,543.4 L607.5,541.3 L614.2,539.1 L620.8,537.0 L627.5,534.8 L634.1,532.7 L640.8,530.5 L647.5,528.4 L654.1,526.2 L660.8,524.1 L667.5,522.0" stroke-width="2.53"/>
<path d="M287.5,666.5 L294.2,664.4 L300.8,662.2 L307.5,660.0 L314.1,657.7 L320.7,655.4 L327.3,653.1 L334.0,650.9 L340.7,648.8 L347.4,646.9 L354.2,645.1 L361.0,643.4 L367.8,641.7 L374.6,640.1 L381.4,638.4 L388.2,636.5 L394.9,634.5 L401.6,632.4 L408.2,630.0 L414.7,627.5 L421.2,625.0 L427.8,622.4 L434.3,619.9 L440.8,617.3 L447.4,614.9 L454.0,612.5 L460.6,610.1 L467.1,607.7 L473.7,605.2 L480.2,602.7 L486.8,600.1 L493.3,597.5 L499.8,594.9 L506.3,592.4 L512.9,590.0 L519.6,587.8 L526.3,585.8 L533.1,584.1 L539.9,582.5 L546.8,581.0 L553.7,579.6 L560.6,578.2 L567.5,576.7 L574.3,575.0 L581.1,573.2 L587.8,571.2 L594.4,569.0 L601.0,566.7 L607.6,564.4 L614.3,562.1 L620.9,559.8 L627.5,557.6 L634.2,555.4 L640.8,553.3 L647.5,551.1 L654.1,548.9 L660.7,546.5 L667.3,544.1 L673.8,541.6" stroke-width="3.78"/>
<path d="M299.4,703.0 L306.0,700.9 L312.7,698.7 L319.3,696.4 L326.0,694.2 L332.6,691.9 L339.2,689.7 L345.9,687.5 L352.6,685.5 L359.3,683.6 L366.1,681.7 L372.9,680.0 L379.7,678.2 L386.5,676.5 L393.2,674.7 L399.9,672.7 L406.6,670.6 L413.2,668.3 L419.8,665.9 L426.3,663.4 L432.9,660.7 L439.3,658.1 L445.8,655.3 L452.3,652.6 L458.8,649.8 L465.2,647.0 L471.6,644.1 L478.0,641.1 L484.4,638.0 L490.7,634.9 L497.0,631.7 L503.4,628.7 L509.8,625.7 L516.3,623.1 L522.9,620.7 L529.6,618.7 L536.4,617.1 L543.4,615.7 L550.4,614.7 L557.4,613.8 L564.5,612.9 L571.6,612.0 L578.6,610.9 L585.5,609.6 L592.4,608.1 L599.2,606.4 L605.9,604.5 L612.6,602.4 L619.3,600.3 L626.0,598.1 L632.6,595.9 L639.3,593.8 L645.9,591.6 L652.6,589.5 L659.2,587.3 L665.9,585.1 L672.5,582.7 L679.0,580.3 L685.6,577.8" stroke-width="2.62"/>
<path d="M309.7,734.9 L316.4,732.7 L323.1,730.5 L329.7,728.4 L336.4,726.3 L343.1,724.2 L349.8,722.1 L356.4,719.9 L363.0,717.6 L369.6,715.2 L376.2,712.8 L382.7,710.4 L389.3,707.9 L395.9,705.4 L402.4,703.1 L409.1,700.8 L415.7,698.5 L422.4,696.4 L429.0,694.2 L435.7,692.1 L442.3,689.8 L448.9,687.4 L455.4,684.9 L461.9,682.0 L468.2,678.9 L474.5,675.6 L480.7,672.0 L486.9,668.3 L493.0,664.6 L499.1,660.8 L505.3,657.2 L511.6,653.9 L518.0,650.8 L524.5,648.2 L531.1,645.9 L537.8,644.0 L544.7,642.5 L551.7,641.3 L558.7,640.3 L565.8,639.4 L572.9,638.6 L580.0,637.8 L587.1,637.0 L594.1,636.1 L601.1,635.0 L608.1,633.8 L615.0,632.5 L621.9,631.0 L628.7,629.3 L635.5,627.5 L642.2,625.6 L648.9,623.6 L655.6,621.5 L662.3,619.4 L669.0,617.3 L675.7,615.2 L682.4,613.2 L689.1,611.3 L695.8,609.3" stroke-width="2.87"/>
<path d="M320.7,768.5 L327.3,766.4 L334.1,764.4 L340.8,762.5 L347.6,760.7 L354.3,758.7 L360.9,756.5 L367.5,754.0 L373.9,751.0 L380.2,747.7 L386.3,744.1 L392.5,740.4 L398.7,736.8 L404.9,733.4 L411.3,730.4 L417.9,727.9 L424.6,725.9 L431.4,724.3 L438.3,722.9 L445.3,721.6 L452.2,720.2 L458.9,718.4 L465.6,716.2 L472.1,713.4 L478.4,710.2 L484.5,706.5 L490.6,702.6 L496.7,698.6 L502.8,694.7 L508.9,690.9 L515.1,687.5 L521.5,684.3 L527.9,681.5 L534.5,678.9 L541.1,676.6 L547.7,674.4 L554.4,672.4 L561.1,670.5 L567.9,668.7 L574.7,667.0 L581.6,665.5 L588.6,664.3 L595.6,663.4 L602.8,662.6 L609.9,662.1 L617.1,661.5 L624.3,660.9 L631.4,660.1 L638.4,659.1 L645.3,657.7 L652.1,655.9 L658.8,654.0 L665.5,652.0 L672.3,650.0 L679.0,648.2 L685.9,646.6 L692.8,645.4 L699.9,644.3 L706.9,643.4" stroke-width="2.12"/>
<path d="M328.6,792.8 L335.3,790.8 L342.1,789.0 L348.9,787.4 L355.7,785.8 L362.4,783.8 L369.0,781.3 L375.3,778.0 L381.3,774.0 L387.2,769.3 L392.9,764.2 L398.5,759.0 L404.3,754.1 L410.3,749.9 L416.6,746.7 L423.2,744.4 L430.2,743.0 L437.3,742.4 L444.6,742.3 L451.9,742.1 L459.2,741.7 L466.2,740.7 L473.0,739.0 L479.6,736.6 L485.9,733.5 L492.2,730.0 L498.4,726.4 L504.6,722.9 L510.9,719.6 L517.3,716.7 L523.8,714.1 L530.4,711.8 L537.0,709.5 L543.6,707.1 L550.1,704.4 L556.4,701.3 L562.7,697.9 L568.9,694.4 L575.1,690.8 L581.4,687.5 L587.8,684.6 L594.5,682.5 L601.4,681.1 L608.5,680.3 L615.8,680.1 L623.2,680.2 L630.6,680.2 L637.9,680.0 L645.0,679.4 L652.0,678.2 L658.8,676.6 L665.6,674.7 L672.3,672.8 L679.1,671.0 L686.0,669.7 L693.1,669.0 L700.4,668.8 L707.8,668.9 L715.3,669.2" stroke-width="4.23"/>
<path d="M339.8,827.5 L346.6,825.6 L353.5,824.1 L360.4,822.8 L367.2,821.2 L373.8,818.9 L380.2,815.7 L386.1,811.4 L391.7,806.0 L397.1,799.8 L402.3,793.2 L407.6,786.8 L413.1,781.1 L419.0,776.5 L425.3,773.4 L432.2,771.8 L439.4,771.6 L447.0,772.2 L454.7,773.4 L462.4,774.4 L470.0,775.0 L477.3,774.7 L484.2,773.5 L490.9,771.5 L497.4,768.9 L503.9,766.1 L510.4,763.3 L517.0,761.0 L523.7,759.2 L530.6,757.8 L537.6,756.7 L544.6,755.4 L551.4,753.8 L558.0,751.3 L564.2,747.8 L570.1,743.4 L575.7,738.1 L581.2,732.3 L586.7,726.4 L592.3,721.1 L598.2,716.6 L604.5,713.3 L611.2,711.3 L618.3,710.4 L625.6,710.4 L633.1,710.8 L640.7,711.3 L648.1,711.4 L655.3,710.9 L662.2,709.8 L669.1,708.1 L675.8,706.2 L682.6,704.4 L689.5,703.1 L696.7,702.5 L704.1,702.8 L711.8,703.7 L719.6,705.1 L727.4,706.3" stroke-width="2.50"/>
<path d="M352.5,866.4 L359.3,864.7 L366.2,863.5 L373.2,862.1 L379.9,860.3 L386.4,857.5 L392.4,853.4 L398.0,848.0 L403.2,841.3 L408.1,833.8 L413.0,826.2 L418.1,819.0 L423.5,813.1 L429.4,808.8 L436.0,806.4 L443.2,805.8 L450.9,806.7 L458.8,808.6 L466.9,810.8 L474.9,812.7 L482.6,813.8 L490.0,813.9 L497.0,813.0 L503.8,811.2 L510.5,809.1 L517.2,807.0 L524.0,805.3 L531.0,804.2 L538.2,803.8 L545.6,803.8 L553.0,803.9 L560.2,803.4 L567.1,802.0 L573.5,799.1 L579.4,794.6 L584.8,788.6 L589.8,781.5 L594.7,773.7 L599.6,766.1 L604.7,759.2 L610.2,753.6 L616.3,749.7 L623.0,747.5 L630.1,746.7 L637.5,746.9 L645.1,747.7 L652.7,748.3 L660.1,748.5 L667.3,747.9 L674.2,746.6 L681.0,744.9 L687.8,743.0 L694.6,741.5 L701.7,740.7 L709.2,741.0 L716.9,742.2 L724.9,744.1 L733.0,746.2 L740.9,748.0" stroke-width="3.51"/>
<path d="M359.4,887.8 L366.3,886.3 L373.3,885.0 L380.1,883.6 L386.8,881.3 L393.0,877.8 L398.7,872.9 L404.0,866.4 L408.9,858.9 L413.6,850.7 L418.4,842.7 L423.5,835.7 L429.0,830.2 L435.2,826.6 L442.1,825.2 L449.7,825.7 L457.6,827.6 L465.8,830.2 L474.1,832.9 L482.1,835.0 L489.8,836.1 L497.2,836.0 L504.1,834.8 L510.9,833.0 L517.6,831.0 L524.4,829.1 L531.4,828.0 L538.6,827.5 L546.0,827.7 L553.5,828.2 L561.0,828.5 L568.1,827.9 L574.8,825.9 L581.0,822.1 L586.5,816.6 L591.6,809.4 L596.3,801.2 L600.8,792.7 L605.6,784.5 L610.6,777.5 L616.2,772.1 L622.5,768.6 L629.3,767.0 L636.6,766.8 L644.2,767.6 L651.9,768.6 L659.5,769.3 L666.9,769.4 L674.0,768.7 L680.9,767.2 L687.7,765.4 L694.5,763.7 L701.5,762.6 L708.8,762.4 L716.4,763.3 L724.4,765.1 L732.5,767.6 L740.7,770.0 L748.6,771.7" stroke-width="3.29"/>
<path d="M371.8,925.8 L378.7,924.3 L385.6,922.9 L392.3,921.1 L398.8,918.3 L404.8,914.2 L410.4,908.7 L415.5,901.8 L420.3,894.0 L425.1,886.0 L430.0,878.5 L435.3,872.2 L441.2,867.6 L447.7,865.1 L454.9,864.6 L462.7,865.8 L470.8,868.1 L479.1,870.9 L487.2,873.4 L495.1,875.1 L502.7,875.7 L509.9,875.1 L516.8,873.7 L523.5,871.7 L530.2,869.8 L537.1,868.2 L544.2,867.4 L551.5,867.3 L559.0,867.7 L566.5,868.1 L573.8,868.1 L580.8,866.9 L587.3,864.2 L593.2,859.7 L598.5,853.4 L603.4,845.7 L608.0,837.3 L612.6,828.8 L617.4,821.0 L622.7,814.7 L628.6,810.1 L635.1,807.4 L642.1,806.4 L649.5,806.6 L657.2,807.5 L664.9,808.5 L672.4,809.0 L679.7,808.7 L686.7,807.7 L693.5,806.0 L700.3,804.2 L707.1,802.7 L714.2,801.8 L721.7,802.0 L729.4,803.3 L737.4,805.3 L745.6,807.7 L753.6,809.7 L761.3,810.8" stroke-width="2.25"/>
</g>
<polygon points="523.0,622.0 677.0,720.0 517.0,821.0 363.0,723.0" fill="none" stroke="#3b2a1c" stroke-width="1.1" stroke-linejoin="round"/>
<polyline points="363.0,723.0 363.0,749.0 517.0,851.0 677.0,747.0 677.0,720.0" fill="none" stroke="#3b2a1c" stroke-width="1.1" stroke-linejoin="round"/>
<line x1="517" y1="821" x2="517" y2="851" stroke="#3b2a1c" stroke-width="0.9"/>
<polygon points="523,622 677,720 517,821 363,723" fill="url(#shadowB)" />
<clipPath id="mbt"><polygon points="532.5,446.0 672.0,530.0 519.5,617.0 380.0,533.0"/></clipPath>
<clipPath id="mbl"><polygon points="380.0,533.0 519.5,617.0 519.5,685.0 380.0,599.0"/></clipPath>
<clipPath id="mbr"><polygon points="519.5,617.0 672.0,530.0 672.0,595.0 519.5,685.0"/></clipPath>
<polygon points="380.0,533.0 519.5,617.0 519.5,685.0 380.0,599.0" fill="#dfc296"/>
<g clip-path="url(#mbl)" stroke="#2a1d12" stroke-width="1.25">
<line x1="243.1" y1="549.7" x2="509.0" y2="402.4"/>
<line x1="246.2" y1="555.3" x2="512.1" y2="408.0"/>
<line x1="249.3" y1="560.9" x2="515.2" y2="413.6"/>
<line x1="252.4" y1="566.5" x2="518.3" y2="419.2"/>
<line x1="255.5" y1="572.1" x2="521.4" y2="424.8"/>
<line x1="258.6" y1="577.7" x2="524.5" y2="430.4"/>
<line x1="261.7" y1="583.3" x2="527.6" y2="436.0"/>
<line x1="264.8" y1="588.9" x2="530.7" y2="441.5"/>
<line x1="267.9" y1="594.5" x2="533.8" y2="447.1"/>
<line x1="271.0" y1="600.1" x2="536.9" y2="452.7"/>
<line x1="274.1" y1="605.7" x2="540.0" y2="458.3"/>
<line x1="277.2" y1="611.3" x2="543.1" y2="463.9"/>
<line x1="280.4" y1="616.9" x2="546.2" y2="469.5"/>
<line x1="283.5" y1="622.5" x2="549.3" y2="475.1"/>
<line x1="286.6" y1="628.1" x2="552.4" y2="480.7"/>
<line x1="289.7" y1="633.7" x2="555.5" y2="486.3"/>
<line x1="292.8" y1="639.3" x2="558.6" y2="491.9"/>
<line x1="295.9" y1="644.9" x2="561.7" y2="497.5"/>
<line x1="299.0" y1="650.5" x2="564.9" y2="503.1"/>
<line x1="302.1" y1="656.1" x2="568.0" y2="508.7"/>
<line x1="305.2" y1="661.7" x2="571.1" y2="514.3"/>
<line x1="308.3" y1="667.3" x2="574.2" y2="519.9"/>
<line x1="311.4" y1="672.9" x2="577.3" y2="525.5"/>
<line x1="314.5" y1="678.5" x2="580.4" y2="531.1"/>
<line x1="317.6" y1="684.1" x2="583.5" y2="536.7"/>
<line x1="320.7" y1="689.7" x2="586.6" y2="542.3"/>
<line x1="323.8" y1="695.3" x2="589.7" y2="547.9"/>
<line x1="326.9" y1="700.9" x2="592.8" y2="553.5"/>
<line x1="330.0" y1="706.5" x2="595.9" y2="559.1"/>
<line x1="333.1" y1="712.1" x2="599.0" y2="564.7"/>
<line x1="336.2" y1="717.7" x2="602.1" y2="570.3"/>
<line x1="339.3" y1="723.3" x2="605.2" y2="575.9"/>
<line x1="342.4" y1="728.9" x2="608.3" y2="581.5"/>
<line x1="345.5" y1="734.5" x2="611.4" y2="587.1"/>
<line x1="348.6" y1="740.1" x2="614.5" y2="592.7"/>
<line x1="351.7" y1="745.7" x2="617.6" y2="598.3"/>
<line x1="354.8" y1="751.3" x2="620.7" y2="603.9"/>
<line x1="357.9" y1="756.9" x2="623.8" y2="609.5"/>
<line x1="361.0" y1="762.5" x2="626.9" y2="615.1"/>
<line x1="364.1" y1="768.1" x2="630.0" y2="620.7"/>
<line x1="367.2" y1="773.7" x2="633.1" y2="626.3"/>
<line x1="370.3" y1="779.2" x2="636.2" y2="631.9"/>
<line x1="373.4" y1="784.8" x2="639.3" y2="637.5"/>
<line x1="376.5" y1="790.4" x2="642.4" y2="643.1"/>
<line x1="379.6" y1="796.0" x2="645.5" y2="648.7"/>
<line x1="382.7" y1="801.6" x2="648.6" y2="654.3"/>
<line x1="385.8" y1="807.2" x2="651.7" y2="659.9"/>
<line x1="388.9" y1="812.8" x2="654.8" y2="665.5"/>
</g>
<polygon points="519.5,617.0 672.0,530.0 672.0,595.0 519.5,685.0" fill="#dbbd90"/>
<g clip-path="url(#mbr)" stroke="#2a1d12" stroke-width="1.25">
<line x1="381.3" y1="653.1" x2="550.2" y2="393.1"/>
<line x1="386.5" y1="656.5" x2="555.4" y2="396.5"/>
<line x1="391.7" y1="659.8" x2="560.6" y2="399.8"/>
<line x1="396.9" y1="663.2" x2="565.8" y2="403.2"/>
<line x1="402.1" y1="666.6" x2="571.0" y2="406.6"/>
<line x1="407.3" y1="670.0" x2="576.2" y2="410.0"/>
<line x1="412.5" y1="673.3" x2="581.4" y2="413.3"/>
<line x1="417.7" y1="676.7" x2="586.6" y2="416.7"/>
<line x1="422.9" y1="680.1" x2="591.8" y2="420.1"/>
<line x1="428.1" y1="683.5" x2="597.0" y2="423.5"/>
<line x1="433.3" y1="686.8" x2="602.2" y2="426.9"/>
<line x1="438.5" y1="690.2" x2="607.4" y2="430.2"/>
<line x1="443.7" y1="693.6" x2="612.6" y2="433.6"/>
<line x1="448.9" y1="697.0" x2="617.8" y2="437.0"/>
<line x1="454.1" y1="700.3" x2="623.0" y2="440.4"/>
<line x1="459.3" y1="703.7" x2="628.2" y2="443.7"/>
<line x1="464.5" y1="707.1" x2="633.4" y2="447.1"/>
<line x1="469.7" y1="710.5" x2="638.6" y2="450.5"/>
<line x1="474.9" y1="713.9" x2="643.8" y2="453.9"/>
<line x1="480.1" y1="717.2" x2="649.0" y2="457.2"/>
<line x1="485.3" y1="720.6" x2="654.2" y2="460.6"/>
<line x1="490.5" y1="724.0" x2="659.4" y2="464.0"/>
<line x1="495.7" y1="727.4" x2="664.6" y2="467.4"/>
<line x1="500.9" y1="730.7" x2="669.8" y2="470.8"/>
<line x1="506.1" y1="734.1" x2="675.0" y2="474.1"/>
<line x1="511.3" y1="737.5" x2="680.2" y2="477.5"/>
<line x1="516.5" y1="740.9" x2="685.4" y2="480.9"/>
<line x1="521.7" y1="744.2" x2="690.6" y2="484.3"/>
<line x1="526.9" y1="747.6" x2="695.8" y2="487.6"/>
<line x1="532.1" y1="751.0" x2="701.0" y2="491.0"/>
<line x1="537.3" y1="754.4" x2="706.2" y2="494.4"/>
<line x1="542.5" y1="757.8" x2="711.4" y2="497.8"/>
<line x1="547.7" y1="761.1" x2="716.6" y2="501.1"/>
<line x1="552.9" y1="764.5" x2="721.8" y2="504.5"/>
<line x1="558.1" y1="767.9" x2="727.0" y2="507.9"/>
<line x1="563.3" y1="771.3" x2="732.2" y2="511.3"/>
<line x1="568.5" y1="774.6" x2="737.4" y2="514.7"/>
<line x1="573.7" y1="778.0" x2="742.6" y2="518.0"/>
<line x1="578.9" y1="781.4" x2="747.8" y2="521.4"/>
<line x1="584.1" y1="784.8" x2="753.0" y2="524.8"/>
<line x1="589.3" y1="788.1" x2="758.2" y2="528.2"/>
<line x1="594.5" y1="791.5" x2="763.4" y2="531.5"/>
<line x1="599.7" y1="794.9" x2="768.6" y2="534.9"/>
<line x1="604.9" y1="798.3" x2="773.8" y2="538.3"/>
<line x1="610.1" y1="801.7" x2="779.0" y2="541.7"/>
<line x1="615.3" y1="805.0" x2="784.2" y2="545.0"/>
<line x1="620.5" y1="808.4" x2="789.4" y2="548.4"/>
<line x1="625.7" y1="811.8" x2="794.6" y2="551.8"/>
<line x1="630.9" y1="815.2" x2="799.8" y2="555.2"/>
<line x1="636.1" y1="818.5" x2="805.0" y2="558.5"/>
<line x1="641.3" y1="821.9" x2="810.2" y2="561.9"/>
</g>
<polygon points="532.5,446.0 672.0,530.0 519.5,617.0 380.0,533.0" fill="#ebd3ad"/>
<g clip-path="url(#mbt)" fill="none" stroke="#e6c898" stroke-opacity="0.9" stroke-linecap="round" stroke-linejoin="round">
<path d="M297.4,490.4 L303.8,487.4 L310.1,484.5 L316.4,481.5 L322.8,478.6 L329.1,475.6 L335.5,472.6 L341.8,469.7 L348.2,466.7 L354.5,463.8 L360.8,460.8 L367.2,457.8 L373.5,454.9 L379.9,451.9 L386.2,449.0 L392.6,446.0 L398.9,443.0 L405.2,440.0 L411.6,437.1 L417.9,434.1 L424.2,431.1 L430.5,428.0 L436.8,425.0 L443.1,422.0 L449.4,418.9 L455.7,415.8 L462.0,412.8 L468.3,409.7 L474.6,406.6 L480.9,403.6 L487.2,400.6 L493.6,397.6 L499.9,394.6 L506.3,391.7 L512.6,388.8 L519.0,385.9 L525.4,383.1 L531.8,380.2 L538.2,377.4 L544.6,374.6 L551.0,371.7 L557.4,368.8 L563.8,365.9 L570.1,363.0 L576.5,360.1 L582.9,357.2 L589.2,354.3 L595.6,351.3 L601.9,348.4 L608.3,345.4 L614.6,342.5 L621.0,339.5 L627.3,336.5 L633.6,333.6 L640.0,330.6" stroke-width="9.69"/>
<path d="M309.6,516.5 L315.9,513.4 L322.3,510.5 L328.7,507.8 L335.3,505.3 L341.9,502.9 L348.5,500.7 L355.2,498.5 L362.0,496.3 L368.7,494.2 L375.4,492.0 L382.0,489.7 L388.6,487.3 L395.2,484.7 L401.6,482.0 L408.0,479.2 L414.4,476.2 L420.6,473.0 L426.8,469.8 L433.0,466.4 L439.1,463.0 L445.2,459.6 L451.3,456.1 L457.4,452.6 L463.5,449.2 L469.7,445.7 L475.8,442.3 L481.9,438.9 L488.1,435.5 L494.3,432.2 L500.5,428.9 L506.7,425.7 L512.9,422.5 L519.1,419.3 L525.4,416.1 L531.6,412.9 L537.9,409.8 L544.1,406.6 L550.3,403.4 L556.6,400.2 L562.9,397.1 L569.2,394.0 L575.5,391.1 L581.9,388.2 L588.3,385.5 L594.9,382.9 L601.4,380.4 L608.0,378.1 L614.7,375.8 L621.4,373.6 L628.1,371.3 L634.7,369.1 L641.4,366.7 L648.0,364.3 L654.5,361.8" stroke-width="4.47"/>
<path d="M320.5,539.9 L326.9,537.0 L333.4,534.5 L340.2,532.4 L347.1,530.7 L354.2,529.3 L361.3,528.1 L368.5,527.0 L375.8,525.9 L383.0,524.8 L390.1,523.5 L397.1,521.9 L403.9,520.0 L410.6,517.7 L417.1,515.1 L423.4,512.1 L429.6,508.9 L435.7,505.3 L441.6,501.5 L447.5,497.6 L453.4,493.6 L459.2,489.5 L465.0,485.3 L470.8,481.2 L476.6,477.1 L482.4,473.0 L488.2,468.9 L494.0,464.8 L499.9,460.8 L505.8,456.9 L511.7,453.0 L517.7,449.2 L523.6,445.5 L529.7,441.9 L535.7,438.3 L541.8,434.8 L547.9,431.3 L554.0,427.9 L560.2,424.6 L566.4,421.3 L572.7,418.3 L579.1,415.4 L585.6,412.7 L592.2,410.4 L599.0,408.3 L605.8,406.5 L612.8,404.9 L619.9,403.5 L627.0,402.2 L634.2,401.0 L641.3,399.7 L648.4,398.3 L655.4,396.7 L662.2,394.9 L669.0,392.8" stroke-width="5.81"/>
<path d="M325.8,551.4 L332.5,549.0 L339.4,547.2 L346.5,546.1 L354.0,545.4 L361.6,545.2 L369.3,545.1 L377.0,545.2 L384.8,545.2 L392.4,545.0 L399.8,544.3 L407.0,543.3 L414.0,541.6 L420.7,539.4 L427.1,536.6 L433.3,533.3 L439.3,529.6 L445.1,525.5 L450.8,521.2 L456.4,516.7 L462.0,512.1 L467.6,507.5 L473.2,502.9 L478.7,498.3 L484.3,493.8 L490.0,489.2 L495.6,484.7 L501.2,480.1 L506.8,475.6 L512.4,471.1 L518.0,466.6 L523.6,462.1 L529.3,457.7 L535.0,453.3 L540.8,449.1 L546.6,445.0 L552.4,441.0 L558.4,437.2 L564.4,433.6 L570.6,430.3 L577.0,427.3 L583.5,424.8 L590.2,422.7 L597.2,421.0 L604.3,419.8 L611.7,419.0 L619.2,418.5 L626.8,418.3 L634.4,418.1 L642.1,417.9 L649.6,417.6 L657.0,416.9 L664.3,415.9 L671.3,414.4 L678.2,412.5" stroke-width="6.87"/>
<path d="M337.2,575.8 L344.2,574.2 L351.5,573.3 L359.2,573.2 L367.1,573.7 L375.2,574.5 L383.4,575.5 L391.6,576.5 L399.7,577.2 L407.6,577.5 L415.1,577.2 L422.4,576.2 L429.3,574.5 L435.9,572.0 L442.1,568.8 L448.1,565.0 L453.8,560.7 L459.3,556.1 L464.8,551.2 L470.2,546.2 L475.6,541.2 L481.0,536.2 L486.4,531.2 L491.8,526.3 L497.2,521.4 L502.6,516.4 L508.0,511.3 L513.3,506.2 L518.6,501.0 L523.9,495.7 L529.1,490.4 L534.4,485.1 L539.7,479.9 L545.1,474.9 L550.5,470.1 L556.1,465.5 L561.9,461.3 L567.8,457.4 L573.9,453.9 L580.3,451.0 L586.8,448.6 L593.7,446.7 L600.9,445.5 L608.3,444.8 L616.0,444.7 L623.8,445.1 L631.9,445.7 L640.0,446.5 L648.0,447.3 L656.0,447.9 L663.9,448.1 L671.5,447.9 L678.9,447.1 L685.9,445.7 L692.8,443.8" stroke-width="4.98"/>
<path d="M348.7,600.3 L356.0,599.6 L363.8,599.6 L371.9,600.4 L380.2,601.7 L388.7,603.3 L397.1,604.9 L405.5,606.2 L413.7,607.2 L421.5,607.5 L429.1,607.1 L436.2,605.8 L442.9,603.6 L449.2,600.6 L455.2,596.9 L460.9,592.6 L466.5,587.9 L471.9,583.0 L477.2,577.9 L482.6,572.8 L488.0,567.8 L493.4,562.9 L498.9,558.1 L504.5,553.4 L510.0,548.7 L515.5,543.9 L520.9,539.0 L526.2,533.8 L531.4,528.4 L536.5,522.8 L541.6,517.1 L546.6,511.2 L551.6,505.4 L556.6,499.7 L561.8,494.2 L567.1,489.1 L572.7,484.4 L578.5,480.2 L584.5,476.7 L590.9,473.8 L597.7,471.7 L604.8,470.4 L612.2,469.8 L620.0,469.9 L628.0,470.6 L636.3,471.7 L644.6,473.1 L653.0,474.5 L661.3,475.7 L669.4,476.6 L677.4,477.0 L685.0,476.8 L692.3,475.9 L699.2,474.3 L705.9,472.0" stroke-width="9.44"/>
<path d="M359.9,624.3 L367.5,624.2 L375.6,624.8 L383.9,626.1 L392.3,627.7 L400.8,629.4 L409.3,631.0 L417.6,632.2 L425.6,632.8 L433.3,632.7 L440.5,631.7 L447.4,629.8 L453.8,627.1 L459.9,623.6 L465.7,619.4 L471.3,614.8 L476.7,609.9 L482.1,604.9 L487.5,599.9 L493.0,595.0 L498.5,590.4 L504.2,586.0 L509.9,581.7 L515.7,577.5 L521.4,573.3 L527.2,569.0 L532.8,564.4 L538.2,559.6 L543.5,554.4 L548.6,548.8 L553.6,543.0 L558.5,536.9 L563.4,530.8 L568.3,524.7 L573.3,518.8 L578.4,513.3 L583.8,508.3 L589.5,504.0 L595.6,500.4 L602.0,497.6 L608.8,495.7 L616.1,494.7 L623.7,494.5 L631.6,494.9 L639.8,496.0 L648.2,497.3 L656.6,498.8 L665.0,500.3 L673.3,501.4 L681.3,502.1 L689.1,502.1 L696.5,501.5 L703.6,500.2 L710.4,498.1 L716.9,495.5" stroke-width="9.21"/>
<path d="M373.8,654.1 L381.5,654.3 L389.6,655.0 L397.9,656.1 L406.2,657.4 L414.5,658.7 L422.7,659.6 L430.6,660.1 L438.3,660.0 L445.6,659.0 L452.5,657.3 L459.0,654.8 L465.2,651.5 L471.1,647.6 L476.8,643.3 L482.4,638.6 L487.9,633.8 L493.4,629.0 L498.9,624.4 L504.6,620.0 L510.4,615.9 L516.3,612.1 L522.4,608.4 L528.4,604.8 L534.4,601.2 L540.4,597.4 L546.2,593.4 L551.9,589.0 L557.4,584.2 L562.7,578.9 L567.8,573.3 L572.8,567.5 L577.7,561.4 L582.6,555.4 L587.6,549.5 L592.8,544.1 L598.2,539.1 L603.9,534.8 L610.0,531.3 L616.4,528.6 L623.3,526.8 L630.6,525.8 L638.2,525.6 L646.1,526.0 L654.2,526.8 L662.4,527.8 L670.6,528.9 L678.8,529.8 L686.7,530.3 L694.5,530.3 L701.9,529.6 L709.0,528.4 L715.9,526.4 L722.4,523.9 L728.7,521.0" stroke-width="9.40"/>
<path d="M385.0,678.2 L392.7,678.1 L400.5,678.4 L408.4,678.8 L416.4,679.3 L424.2,679.5 L431.9,679.5 L439.4,679.0 L446.6,677.8 L453.5,676.1 L460.1,673.6 L466.4,670.6 L472.5,667.0 L478.3,663.0 L484.0,658.7 L489.7,654.3 L495.3,649.8 L501.0,645.5 L506.8,641.3 L512.7,637.4 L518.7,633.7 L524.8,630.3 L531.0,626.9 L537.2,623.6 L543.3,620.3 L549.4,616.7 L555.4,612.9 L561.2,608.8 L566.8,604.3 L572.2,599.4 L577.5,594.2 L582.7,588.8 L587.9,583.3 L593.1,577.8 L598.3,572.6 L603.8,567.7 L609.4,563.3 L615.4,559.5 L621.7,556.4 L628.3,554.0 L635.2,552.3 L642.5,551.2 L650.0,550.8 L657.7,550.7 L665.5,550.9 L673.3,551.2 L681.1,551.4 L688.8,551.3 L696.4,550.9 L703.7,550.0 L710.7,548.6 L717.5,546.6 L724.1,544.2 L730.5,541.3 L736.7,538.1" stroke-width="6.46"/>
<path d="M400.4,711.3 L407.7,710.4 L415.2,709.8 L422.6,709.2 L430.0,708.5 L437.3,707.6 L444.5,706.4 L451.5,704.8 L458.2,702.8 L464.8,700.3 L471.2,697.4 L477.4,694.1 L483.4,690.5 L489.3,686.7 L495.2,682.7 L501.1,678.7 L506.9,674.7 L512.9,670.9 L518.9,667.2 L525.0,663.8 L531.2,660.4 L537.4,657.3 L543.7,654.2 L550.0,651.1 L556.2,647.9 L562.4,644.6 L568.5,641.0 L574.4,637.2 L580.2,633.2 L586.0,628.8 L591.6,624.3 L597.1,619.7 L602.7,615.0 L608.2,610.3 L613.9,605.9 L619.6,601.7 L625.6,597.9 L631.8,594.6 L638.2,591.8 L644.8,589.4 L651.7,587.5 L658.7,586.1 L665.9,585.0 L673.2,584.1 L680.6,583.3 L687.9,582.5 L695.2,581.6 L702.4,580.5 L709.5,579.0 L716.4,577.3 L723.1,575.1 L729.6,572.6 L736.0,569.7 L742.3,566.7 L748.5,563.4" stroke-width="4.86"/>
</g>
<g clip-path="url(#mbt)" fill="none" stroke="#c49462" stroke-opacity="0.32" stroke-linecap="round" stroke-linejoin="round">
<path d="M296.5,488.4 L303.1,486.0 L309.7,483.6 L316.3,481.1 L322.7,478.4 L329.1,475.6 L335.4,472.5 L341.7,469.4 L347.9,466.1 L354.0,462.8 L360.2,459.5 L366.4,456.2 L372.7,453.1 L379.0,450.0 L385.3,447.0 L391.6,444.0 L397.9,441.0 L404.2,437.8 L410.4,434.6 L416.6,431.3 L422.8,427.9 L428.9,424.5 L435.1,421.2 L441.3,418.0 L447.6,414.9 L454.0,412.0 L460.4,409.3 L467.0,406.8 L473.5,404.3 L480.1,401.9 L486.7,399.4 L493.2,396.8 L499.7,394.1 L506.1,391.3 L512.4,388.4 L518.8,385.4 L525.1,382.3 L531.4,379.3 L537.7,376.3 L544.1,373.4 L550.5,370.6 L556.9,367.7 L563.3,364.8 L569.6,361.9 L575.9,358.8 L582.1,355.6 L588.3,352.3 L594.4,348.8 L600.5,345.3 L606.6,341.9 L612.8,338.5 L619.0,335.4 L625.3,332.4 L631.8,329.6 L638.3,326.9" stroke-width="1.81"/>
<path d="M305.4,507.4 L312.5,506.2 L319.6,504.8 L326.4,502.9 L333.0,500.6 L339.4,497.6 L345.5,494.2 L351.5,490.4 L357.3,486.4 L363.2,482.3 L369.1,478.4 L375.1,474.8 L381.2,471.4 L387.5,468.2 L393.7,465.1 L400.0,462.0 L406.2,458.7 L412.3,455.1 L418.2,451.3 L424.0,447.2 L429.8,443.1 L435.6,439.0 L441.6,435.1 L447.7,431.7 L454.0,428.7 L460.6,426.3 L467.4,424.4 L474.4,422.8 L481.5,421.4 L488.5,419.9 L495.5,418.3 L502.3,416.3 L508.9,413.8 L515.3,411.1 L521.6,408.0 L527.8,404.7 L534.0,401.5 L540.2,398.3 L546.6,395.3 L553.0,392.5 L559.5,389.8 L565.9,387.2 L572.3,384.3 L578.6,381.2 L584.7,377.7 L590.6,373.8 L596.4,369.6 L602.0,365.2 L607.7,360.7 L613.4,356.4 L619.3,352.5 L625.5,349.2 L631.9,346.4 L638.6,344.2 L645.5,342.4" stroke-width="1.72"/>
<path d="M312.6,522.9 L320.2,522.8 L327.7,522.2 L334.7,520.7 L341.3,518.3 L347.5,515.0 L353.3,510.8 L358.8,506.1 L364.3,501.3 L369.8,496.5 L375.4,492.0 L381.3,488.0 L387.3,484.5 L393.5,481.2 L399.8,478.0 L405.9,474.7 L411.9,471.0 L417.7,466.8 L423.3,462.2 L428.7,457.3 L434.1,452.3 L439.6,447.6 L445.4,443.4 L451.6,440.0 L458.1,437.6 L465.1,436.0 L472.5,435.1 L480.0,434.7 L487.6,434.4 L495.1,433.9 L502.3,432.9 L509.3,431.2 L515.9,428.8 L522.2,425.8 L528.3,422.4 L534.4,418.9 L540.5,415.4 L546.7,412.1 L553.1,409.3 L559.6,406.6 L566.2,404.2 L572.7,401.6 L579.0,398.7 L585.1,395.2 L590.9,391.0 L596.4,386.2 L601.6,380.9 L606.8,375.4 L612.0,369.9 L617.4,365.0 L623.2,360.8 L629.4,357.7 L636.1,355.5 L643.3,354.2 L650.7,353.6" stroke-width="1.24"/>
<path d="M322.5,544.1 L330.5,544.8 L338.1,544.6 L345.2,543.1 L351.5,540.2 L357.4,536.1 L362.7,531.1 L367.9,525.5 L372.9,519.9 L378.2,514.5 L383.7,509.7 L389.4,505.6 L395.5,501.9 L401.7,498.6 L407.8,495.3 L413.9,491.7 L419.6,487.4 L425.1,482.6 L430.3,477.2 L435.3,471.4 L440.4,465.8 L445.7,460.7 L451.5,456.4 L457.8,453.4 L464.6,451.5 L472.0,450.8 L479.8,450.9 L487.8,451.4 L495.7,451.8 L503.4,451.8 L510.7,450.9 L517.6,449.1 L524.1,446.4 L530.2,443.1 L536.2,439.3 L542.2,435.6 L548.3,432.1 L554.6,429.1 L561.2,426.6 L567.9,424.4 L574.6,422.3 L581.2,419.9 L587.5,416.8 L593.4,412.9 L598.8,408.0 L603.8,402.2 L608.6,395.9 L613.4,389.5 L618.3,383.4 L623.6,378.2 L629.4,374.3 L636.0,371.7 L643.1,370.4 L650.8,370.3 L658.8,370.9" stroke-width="1.28"/>
<path d="M331.4,563.2 L339.5,564.2 L347.1,563.8 L353.9,561.8 L359.9,558.2 L365.3,553.3 L370.3,547.4 L375.1,541.2 L380.0,535.0 L385.1,529.4 L390.6,524.5 L396.4,520.4 L402.5,516.9 L408.6,513.6 L414.7,510.1 L420.6,506.0 L426.1,501.3 L431.2,495.8 L436.1,489.8 L441.0,483.5 L445.9,477.6 L451.3,472.5 L457.1,468.5 L463.7,466.0 L470.9,464.8 L478.6,464.8 L486.7,465.6 L494.8,466.5 L502.8,467.1 L510.4,466.9 L517.6,465.7 L524.3,463.4 L530.5,460.2 L536.4,456.4 L542.3,452.4 L548.3,448.7 L554.5,445.5 L561.0,442.9 L567.8,440.9 L574.7,439.1 L581.6,437.3 L588.2,434.9 L594.4,431.6 L600.0,427.2 L605.2,421.6 L609.9,415.1 L614.3,408.1 L618.9,401.3 L623.7,395.1 L629.2,390.2 L635.3,386.9 L642.2,385.2 L649.9,385.0 L658.0,385.9 L666.5,387.4" stroke-width="1.00"/>
<path d="M338.6,578.7 L346.6,579.2 L353.8,578.2 L360.2,575.4 L365.9,571.1 L371.0,565.4 L375.8,559.1 L380.5,552.6 L385.3,546.4 L390.5,540.9 L396.0,536.2 L401.9,532.3 L408.1,528.9 L414.2,525.5 L420.2,521.8 L425.9,517.5 L431.2,512.4 L436.2,506.5 L441.0,500.2 L445.8,493.9 L450.9,488.2 L456.4,483.4 L462.5,480.0 L469.3,478.1 L476.8,477.5 L484.7,477.9 L492.8,478.7 L500.8,479.5 L508.6,479.6 L516.0,478.8 L522.8,476.8 L529.1,473.8 L535.1,470.0 L540.9,465.9 L546.7,461.9 L552.8,458.3 L559.2,455.5 L565.9,453.4 L572.9,451.8 L580.0,450.4 L586.9,448.7 L593.5,446.3 L599.6,442.7 L605.0,437.8 L609.9,431.8 L614.5,425.1 L618.9,418.0 L623.5,411.3 L628.6,405.6 L634.4,401.4 L640.9,398.9 L648.3,398.1 L656.3,398.7 L664.7,400.2 L673.3,402.1" stroke-width="1.98"/>
<path d="M347.6,597.9 L355.1,597.6 L362.0,595.7 L368.0,592.2 L373.5,587.2 L378.4,581.3 L383.2,574.9 L388.0,568.6 L393.0,562.8 L398.3,557.8 L404.1,553.5 L410.1,549.9 L416.3,546.6 L422.4,543.1 L428.3,539.3 L433.9,534.7 L439.2,529.4 L444.2,523.6 L449.0,517.4 L454.0,511.5 L459.3,506.3 L465.0,502.0 L471.4,499.1 L478.3,497.5 L485.8,496.9 L493.5,496.9 L501.4,497.1 L509.0,497.0 L516.3,496.0 L523.1,494.1 L529.5,491.2 L535.5,487.4 L541.2,483.2 L547.0,479.0 L553.0,475.3 L559.3,472.2 L565.9,470.0 L573.0,468.5 L580.2,467.4 L587.4,466.3 L594.4,464.7 L600.9,462.2 L607.0,458.6 L612.4,453.7 L617.4,447.7 L622.0,441.2 L626.7,434.7 L631.7,428.7 L637.1,423.8 L643.3,420.5 L650.2,418.8 L657.8,418.6 L666.0,419.5 L674.4,421.1 L682.9,422.7" stroke-width="1.70"/>
<path d="M355.5,614.9 L362.6,613.5 L369.0,610.8 L374.8,606.8 L380.2,601.7 L385.2,595.9 L390.2,590.0 L395.3,584.3 L400.6,579.2 L406.3,574.8 L412.2,571.0 L418.4,567.6 L424.6,564.3 L430.7,560.9 L436.6,557.0 L442.2,552.5 L447.6,547.4 L452.7,541.9 L457.9,536.3 L463.1,531.1 L468.7,526.5 L474.8,522.9 L481.3,520.3 L488.2,518.6 L495.5,517.7 L502.9,517.0 L510.2,516.2 L517.3,514.8 L524.1,512.7 L530.4,509.7 L536.4,506.0 L542.2,501.8 L547.9,497.5 L553.7,493.5 L559.9,490.1 L566.4,487.5 L573.3,485.7 L580.4,484.5 L587.7,483.6 L595.0,482.5 L601.9,480.8 L608.4,478.3 L614.5,474.6 L620.0,470.0 L625.2,464.6 L630.2,458.8 L635.3,453.1 L640.7,448.2 L646.6,444.3 L653.2,441.7 L660.3,440.4 L668.0,440.3 L676.0,441.0 L684.2,442.0 L692.3,442.7" stroke-width="1.48"/>
<path d="M358.9,622.3 L365.6,620.0 L371.8,616.7 L377.6,612.6 L383.1,607.8 L388.4,602.7 L393.7,597.6 L399.2,592.8 L404.9,588.5 L410.9,584.6 L417.0,581.2 L423.2,578.0 L429.5,574.8 L435.6,571.4 L441.6,567.6 L447.3,563.4 L452.9,558.7 L458.3,553.9 L463.8,549.1 L469.5,544.7 L475.4,540.7 L481.6,537.5 L488.1,534.9 L494.9,532.9 L501.8,531.1 L508.7,529.3 L515.4,527.3 L522.0,524.7 L528.2,521.5 L534.2,517.8 L539.9,513.6 L545.7,509.3 L551.5,505.2 L557.5,501.6 L563.9,498.6 L570.6,496.4 L577.6,494.9 L584.8,493.8 L592.0,492.8 L599.2,491.5 L606.1,489.8 L612.6,487.2 L618.8,483.9 L624.6,479.8 L630.1,475.2 L635.6,470.4 L641.3,465.8 L647.1,461.9 L653.4,458.8 L660.1,456.6 L667.2,455.3 L674.7,454.8 L682.4,454.6 L690.0,454.5 L697.6,454.1" stroke-width="2.09"/>
<path d="M366.2,637.9 L372.6,635.1 L378.7,631.7 L384.7,627.8 L390.5,623.7 L396.2,619.4 L402.0,615.3 L407.9,611.3 L413.9,607.7 L420.1,604.3 L426.3,601.2 L432.6,598.1 L438.9,595.0 L445.1,591.7 L451.1,588.2 L457.1,584.4 L463.0,580.4 L468.8,576.4 L474.7,572.4 L480.6,568.6 L486.8,565.2 L493.0,562.1 L499.4,559.2 L505.9,556.6 L512.4,554.0 L518.9,551.3 L525.2,548.3 L531.4,544.9 L537.3,541.1 L543.2,537.1 L549.0,533.0 L554.9,529.0 L560.9,525.3 L567.1,522.1 L573.6,519.5 L580.3,517.4 L587.3,515.7 L594.3,514.3 L601.4,512.9 L608.4,511.3 L615.2,509.3 L621.7,506.8 L628.0,503.8 L634.2,500.3 L640.1,496.6 L646.1,492.8 L652.2,489.2 L658.4,486.0 L664.8,483.3 L671.5,481.1 L678.4,479.3 L685.5,477.9 L692.6,476.6 L699.7,475.3 L706.7,473.7" stroke-width="1.91"/>
<path d="M371.7,649.6 L378.0,646.6 L384.2,643.4 L390.4,640.1 L396.5,636.7 L402.7,633.3 L408.9,630.0 L415.1,626.8 L421.3,623.6 L427.6,620.5 L433.9,617.5 L440.3,614.5 L446.6,611.5 L452.8,608.4 L459.1,605.2 L465.3,601.9 L471.4,598.5 L477.6,595.1 L483.7,591.8 L489.9,588.4 L496.1,585.1 L502.3,581.9 L508.5,578.6 L514.7,575.3 L520.8,571.9 L526.9,568.4 L532.9,564.7 L538.8,560.9 L544.7,557.0 L550.7,553.2 L556.6,549.4 L562.7,545.9 L568.9,542.7 L575.3,539.8 L581.9,537.4 L588.6,535.2 L595.5,533.3 L602.3,531.5 L609.2,529.7 L616.1,527.8 L622.8,525.7 L629.4,523.3 L635.9,520.7 L642.3,517.9 L648.7,514.9 L655.0,511.9 L661.3,508.9 L667.7,506.1 L674.2,503.3 L680.7,500.7 L687.3,498.3 L693.9,495.9 L700.5,493.5 L707.1,491.1 L713.6,488.5" stroke-width="2.36"/>
<path d="M376.6,660.3 L383.0,657.4 L389.4,654.5 L395.8,651.7 L402.2,648.9 L408.6,646.1 L415.0,643.2 L421.4,640.4 L427.8,637.5 L434.1,634.5 L440.5,631.6 L446.8,628.6 L453.2,625.7 L459.5,622.8 L465.9,619.8 L472.3,616.9 L478.6,614.0 L484.9,611.0 L491.2,607.9 L497.5,604.7 L503.6,601.3 L509.7,597.8 L515.7,594.2 L521.7,590.4 L527.6,586.5 L533.5,582.5 L539.3,578.6 L545.3,574.7 L551.3,571.0 L557.3,567.4 L563.5,564.1 L569.8,561.0 L576.2,558.2 L582.7,555.5 L589.2,553.1 L595.9,550.8 L602.6,548.6 L609.3,546.5 L616.1,544.4 L622.8,542.3 L629.5,540.1 L636.2,537.9 L642.9,535.6 L649.5,533.2 L656.1,530.7 L662.6,528.1 L669.0,525.4 L675.4,522.5 L681.7,519.6 L688.0,516.5 L694.3,513.4 L700.6,510.3 L706.8,507.1 L713.1,504.0 L719.4,500.9" stroke-width="2.05"/>
<path d="M383.4,674.9 L389.9,672.1 L396.3,669.4 L402.9,666.8 L409.4,664.2 L415.9,661.6 L422.3,658.9 L428.8,656.1 L435.1,653.2 L441.5,650.3 L447.8,647.4 L454.2,644.4 L460.6,641.6 L467.0,638.7 L473.4,636.0 L479.9,633.2 L486.3,630.4 L492.6,627.5 L499.0,624.5 L505.2,621.3 L511.3,617.9 L517.4,614.3 L523.4,610.6 L529.3,606.7 L535.2,602.9 L541.2,599.1 L547.2,595.3 L553.2,591.8 L559.4,588.4 L565.6,585.2 L571.9,582.2 L578.3,579.3 L584.7,576.6 L591.2,573.9 L597.8,571.3 L604.3,568.8 L610.9,566.3 L617.5,563.9 L624.1,561.5 L630.7,559.1 L637.3,556.8 L644.0,554.6 L650.7,552.3 L657.3,549.9 L663.9,547.4 L670.4,544.8 L676.8,542.0 L683.1,539.0 L689.4,535.9 L695.5,532.6 L701.7,529.2 L707.8,525.8 L714.0,522.4 L720.2,519.1 L726.4,515.9" stroke-width="1.78"/>
<path d="M392.2,693.7 L398.6,690.8 L405.0,688.0 L411.4,685.2 L417.8,682.4 L424.2,679.5 L430.6,676.7 L437.0,673.7 L443.3,670.8 L449.7,667.9 L456.0,664.9 L462.4,662.0 L468.7,659.0 L475.1,656.1 L481.5,653.2 L487.9,650.4 L494.2,647.4 L500.6,644.5 L506.9,641.5 L513.2,638.4 L519.4,635.2 L525.6,632.0 L531.8,628.7 L538.0,625.4 L544.2,622.0 L550.3,618.7 L556.5,615.4 L562.8,612.2 L569.0,609.1 L575.3,606.0 L581.6,603.0 L588.0,600.1 L594.4,597.2 L600.8,594.4 L607.2,591.6 L613.6,588.8 L620.1,586.1 L626.5,583.4 L633.0,580.7 L639.5,578.0 L646.0,575.4 L652.5,572.7 L658.9,570.0 L665.4,567.3 L671.8,564.6 L678.2,561.7 L684.6,558.8 L690.9,555.8 L697.2,552.8 L703.5,549.7 L709.8,546.5 L716.0,543.4 L722.3,540.3 L728.6,537.2 L734.9,534.2" stroke-width="1.41"/>
<path d="M398.6,707.4 L404.8,704.0 L410.9,700.6 L417.0,697.1 L423.1,693.7 L429.3,690.4 L435.5,687.2 L441.8,684.1 L448.1,681.1 L454.5,678.1 L460.8,675.1 L467.1,672.1 L473.4,669.0 L479.6,665.8 L485.8,662.6 L492.0,659.3 L498.3,656.2 L504.6,653.2 L511.0,650.3 L517.5,647.6 L524.0,645.1 L530.6,642.6 L537.2,640.2 L543.8,637.8 L550.3,635.3 L556.8,632.5 L563.1,629.6 L569.4,626.5 L575.6,623.3 L581.8,619.9 L588.0,616.6 L594.1,613.3 L600.4,610.1 L606.7,607.0 L613.0,604.0 L619.4,601.1 L625.8,598.2 L632.1,595.3 L638.4,592.3 L644.7,589.2 L650.9,586.0 L657.1,582.7 L663.3,579.4 L669.5,576.1 L675.7,572.9 L682.1,569.9 L688.5,567.1 L695.0,564.5 L701.5,562.0 L708.2,559.6 L714.8,557.3 L721.4,554.9 L728.0,552.4 L734.5,549.8 L740.9,547.0" stroke-width="1.64"/>
<path d="M409.6,731.0 L415.4,726.8 L421.0,722.4 L426.7,718.0 L432.5,713.8 L438.4,710.0 L444.5,706.5 L450.8,703.3 L457.1,700.3 L463.4,697.3 L469.7,694.2 L475.9,690.9 L482.0,687.4 L488.0,683.8 L494.0,680.1 L500.1,676.5 L506.2,673.2 L512.6,670.3 L519.2,668.0 L526.1,666.1 L533.1,664.7 L540.3,663.5 L547.5,662.3 L554.6,661.0 L561.6,659.3 L568.3,657.1 L574.7,654.4 L580.9,651.1 L586.9,647.4 L592.8,643.5 L598.7,639.6 L604.6,635.8 L610.7,632.2 L616.9,628.9 L623.1,625.7 L629.4,622.7 L635.7,619.6 L641.9,616.4 L648.0,612.9 L654.0,609.0 L659.8,605.0 L665.5,600.8 L671.3,596.6 L677.2,592.7 L683.3,589.2 L689.7,586.3 L696.3,583.9 L703.2,582.1 L710.3,580.7 L717.4,579.5 L724.6,578.3 L731.6,576.9 L738.5,575.1 L745.2,572.8 L751.7,570.1" stroke-width="1.81"/>
</g>
<g clip-path="url(#mbt)" fill="none" stroke="#f6e8d0" stroke-opacity="0.5" stroke-linecap="round" stroke-linejoin="round">
<path d="M294.4,483.9 L302.4,484.4 L310.9,486.1 L319.6,488.3 L328.3,490.4 L336.7,491.7 L344.5,492.0 L351.7,490.9 L358.4,488.7 L364.7,485.7 L370.9,482.4 L377.1,479.1 L383.5,476.3 L390.2,474.1 L397.2,472.5 L404.3,471.1 L411.2,469.4 L417.8,467.1 L423.9,463.5 L429.2,458.4 L433.9,451.8 L437.9,443.8 L441.5,435.1 L445.1,426.2 L449.0,417.9 L453.4,410.8 L458.6,405.4 L464.6,401.8 L471.5,400.0 L479.1,399.7 L487.1,400.2 L495.1,401.0 L503.1,401.5 L510.8,401.3 L518.0,400.3 L524.9,398.6 L531.6,396.3 L538.2,394.0 L545.0,392.0 L552.1,390.7 L559.6,390.1 L567.4,390.3 L575.4,390.8 L583.3,391.2 L590.8,390.8 L597.7,389.1 L603.9,385.7 L609.2,380.5 L613.7,373.6 L617.6,365.4 L621.2,356.6 L624.9,347.9 L628.9,339.9 L633.5,333.3 L638.8,328.2" stroke-width="2.32"/>
<path d="M306.8,510.5 L315.1,511.8 L323.9,514.2 L332.9,516.7 L341.6,518.8 L349.8,519.9 L357.4,519.7 L364.4,518.2 L370.9,515.6 L377.1,512.3 L383.2,508.8 L389.5,505.6 L396.0,503.0 L402.8,501.0 L409.8,499.5 L416.8,498.0 L423.6,496.1 L430.0,493.1 L435.6,488.7 L440.5,482.6 L444.7,475.0 L448.3,466.2 L451.7,456.8 L455.1,447.6 L458.9,439.2 L463.4,432.3 L468.8,427.2 L475.1,424.2 L482.2,422.9 L489.9,422.9 L498.0,423.7 L506.1,424.5 L514.1,425.0 L521.7,424.7 L528.9,423.7 L535.9,422.0 L542.7,420.1 L549.5,418.2 L556.7,416.9 L564.1,416.4 L571.9,416.6 L580.0,417.4 L588.1,418.2 L596.0,418.6 L603.4,417.9 L610.1,415.5 L615.8,411.3 L620.7,405.2 L624.8,397.4 L628.4,388.6 L631.9,379.5 L635.5,370.7 L639.7,363.1 L644.5,357.0 L650.2,352.6" stroke-width="2.05"/>
<path d="M323.2,545.8 L331.7,547.4 L340.5,549.7 L349.2,551.8 L357.6,553.3 L365.5,553.6 L372.8,552.7 L379.5,550.6 L385.8,547.5 L392.0,544.1 L398.1,540.6 L404.4,537.6 L410.9,535.1 L417.8,533.2 L424.7,531.5 L431.6,529.7 L438.1,527.2 L444.2,523.5 L449.5,518.3 L454.0,511.5 L457.9,503.3 L461.4,494.2 L464.6,484.6 L468.1,475.4 L472.0,467.2 L476.6,460.5 L482.0,455.6 L488.3,452.5 L495.3,451.0 L502.8,450.6 L510.6,450.8 L518.5,451.0 L526.2,451.0 L533.7,450.5 L541.0,449.5 L548.1,448.3 L555.2,447.0 L562.5,446.1 L570.1,445.9 L578.1,446.3 L586.3,447.3 L594.6,448.5 L602.8,449.5 L610.6,449.7 L617.7,448.5 L624.1,445.6 L629.6,440.8 L634.2,434.2 L638.3,426.3 L641.9,417.6 L645.6,409.0 L649.6,401.0 L654.2,394.3 L659.5,389.1 L665.6,385.6" stroke-width="2.21"/>
<path d="M339.4,580.4 L347.7,581.6 L356.1,583.1 L364.3,584.2 L372.2,584.5 L379.6,583.9 L386.5,582.1 L393.0,579.5 L399.2,576.2 L405.3,572.7 L411.5,569.4 L417.9,566.5 L424.5,564.1 L431.2,562.0 L438.0,560.0 L444.7,557.7 L451.0,554.7 L456.7,550.5 L461.9,544.9 L466.4,538.0 L470.4,530.0 L474.0,521.4 L477.7,512.5 L481.5,504.2 L485.7,496.7 L490.6,490.6 L496.1,485.9 L502.3,482.6 L509.1,480.6 L516.2,479.3 L523.6,478.5 L531.0,477.9 L538.4,477.1 L545.6,476.1 L552.9,475.0 L560.1,474.0 L567.5,473.3 L575.1,473.0 L583.0,473.3 L591.1,474.2 L599.4,475.4 L607.6,476.6 L615.6,477.2 L623.2,476.8 L630.1,475.0 L636.2,471.6 L641.6,466.6 L646.3,460.2 L650.6,452.8 L654.8,445.1 L659.0,437.6 L663.6,430.9 L668.7,425.4 L674.5,421.3 L680.9,418.4" stroke-width="3.76"/>
<path d="M356.4,617.0 L364.2,617.1 L372.0,617.3 L379.7,617.1 L387.0,616.2 L393.9,614.5 L400.5,612.1 L406.8,609.1 L413.0,605.8 L419.2,602.4 L425.4,599.3 L431.8,596.4 L438.4,594.0 L445.0,591.7 L451.7,589.3 L458.1,586.5 L464.2,583.1 L470.0,578.9 L475.2,573.6 L480.1,567.4 L484.6,560.5 L489.0,553.3 L493.3,546.2 L497.9,539.4 L502.9,533.5 L508.2,528.4 L514.1,524.4 L520.4,521.3 L527.0,518.9 L533.8,517.1 L540.8,515.4 L547.8,513.8 L554.7,512.2 L561.7,510.6 L568.7,509.0 L575.8,507.6 L583.0,506.6 L590.5,506.1 L598.2,506.0 L606.0,506.2 L613.9,506.5 L621.7,506.7 L629.2,506.2 L636.3,504.9 L642.9,502.5 L648.9,498.8 L654.4,494.0 L659.4,488.3 L664.2,482.0 L669.0,475.7 L674.0,469.8 L679.2,464.5 L685.0,460.2 L691.1,456.8 L697.7,454.3" stroke-width="2.99"/>
<path d="M373.4,653.2 L380.5,652.1 L387.7,650.9 L394.7,649.3 L401.5,647.3 L408.1,644.9 L414.5,642.1 L420.8,639.0 L427.0,635.8 L433.2,632.6 L439.5,629.6 L445.9,626.7 L452.4,624.1 L458.9,621.5 L465.4,618.8 L471.7,615.8 L477.9,612.4 L483.8,608.4 L489.4,604.0 L494.9,599.1 L500.2,593.9 L505.4,588.6 L510.7,583.5 L516.2,578.7 L521.9,574.4 L527.9,570.6 L534.1,567.4 L540.6,564.6 L547.2,562.2 L553.8,559.9 L560.5,557.7 L567.2,555.4 L573.8,553.1 L580.4,550.7 L587.1,548.4 L593.8,546.3 L600.7,544.4 L607.6,542.8 L614.7,541.5 L621.9,540.4 L629.1,539.2 L636.2,537.8 L643.1,536.1 L649.8,533.8 L656.1,530.8 L662.1,527.2 L667.9,522.9 L673.4,518.2 L678.9,513.4 L684.4,508.6 L690.0,504.1 L695.8,500.1 L701.9,496.6 L708.3,493.7 L714.9,491.2" stroke-width="4.47"/>
<path d="M383.4,674.9 L390.0,672.5 L396.6,670.0 L403.2,667.5 L409.6,664.8 L416.0,661.9 L422.3,658.9 L428.7,655.9 L435.0,652.9 L441.3,649.8 L447.6,646.9 L454.0,644.0 L460.4,641.1 L466.8,638.3 L473.1,635.3 L479.4,632.3 L485.7,629.1 L491.8,625.7 L497.9,622.2 L503.9,618.5 L509.9,614.8 L515.9,611.0 L521.8,607.3 L527.9,603.7 L534.0,600.2 L540.2,596.9 L546.4,593.7 L552.7,590.7 L559.1,587.7 L565.4,584.8 L571.8,581.9 L578.2,579.1 L584.6,576.3 L591.1,573.6 L597.6,570.9 L604.1,568.4 L610.7,566.0 L617.4,563.7 L624.1,561.5 L630.8,559.3 L637.5,557.1 L644.1,554.8 L650.7,552.3 L657.1,549.5 L663.4,546.6 L669.7,543.3 L675.8,540.0 L681.9,536.5 L688.0,532.9 L694.1,529.4 L700.2,526.1 L706.4,522.8 L712.8,519.8 L719.1,516.9 L725.6,514.2" stroke-width="3.20"/>
<path d="M404.3,719.7 L410.6,716.5 L416.8,713.3 L423.1,710.2 L429.4,707.2 L435.7,704.2 L442.1,701.3 L448.4,698.4 L454.8,695.4 L461.2,692.5 L467.5,689.5 L473.8,686.5 L480.2,683.5 L486.5,680.5 L492.8,677.6 L499.2,674.7 L505.6,671.8 L512.0,669.0 L518.4,666.3 L524.9,663.5 L531.4,660.8 L537.8,658.0 L544.2,655.2 L550.5,652.3 L556.9,649.3 L563.1,646.1 L569.4,643.0 L575.6,639.7 L581.8,636.5 L588.1,633.3 L594.3,630.2 L600.6,627.1 L606.9,624.1 L613.3,621.2 L619.6,618.2 L626.0,615.3 L632.3,612.3 L638.7,609.4 L645.0,606.4 L651.3,603.3 L657.6,600.3 L663.9,597.3 L670.3,594.4 L676.7,591.5 L683.1,588.7 L689.5,585.9 L696.0,583.3 L702.5,580.6 L708.9,577.9 L715.4,575.2 L721.8,572.4 L728.2,569.5 L734.5,566.5 L740.9,563.5 L747.2,560.4" stroke-width="3.80"/>
</g>
<polygon points="532.5,446.0 672.0,530.0 519.5,617.0 380.0,533.0" fill="none" stroke="#2e2015" stroke-width="1.2" stroke-linejoin="round"/>
<polyline points="380.0,533.0 380.0,599.0 519.5,685.0 672.0,595.0 672.0,530.0" fill="none" stroke="#2e2015" stroke-width="1.2" stroke-linejoin="round"/>
<line x1="519.5" y1="617" x2="519.5" y2="685" stroke="#2e2015" stroke-width="1"/>
<polygon points="532.5,446 672,530 519.5,617 380,533" fill="url(#shadowM)" />
<clipPath id="tbt"><polygon points="533.0,320.5 682.0,404.0 515.0,496.0 363.0,410.0"/></clipPath>
<clipPath id="tbl"><polygon points="363.0,410.0 515.0,496.0 515.0,525.0 363.0,438.0"/></clipPath>
<clipPath id="tbr"><polygon points="515.0,496.0 682.0,404.0 682.0,433.0 515.0,525.0"/></clipPath>
<polygon points="363.0,410.0 515.0,496.0 515.0,525.0 363.0,438.0" fill="#c9a87c"/>
<g clip-path="url(#tbl)" fill="none">
<path d="M361.0,410.4 Q439.0,453.7 517.0,496.4" stroke="#cfae82" stroke-width="0.83"/>
<path d="M361.0,411.4 Q439.0,453.9 517.0,497.4" stroke="#e0c69c" stroke-width="1.11"/>
<path d="M361.0,412.5 Q439.0,455.7 517.0,498.5" stroke="#e6d0aa" stroke-width="1.05"/>
<path d="M361.0,413.5 Q439.0,456.7 517.0,499.5" stroke="#e0c69c" stroke-width="1.11"/>
<path d="M361.0,414.6 Q439.0,457.7 517.0,500.6" stroke="#b89468" stroke-width="1.10"/>
<path d="M361.0,415.8 Q439.0,458.4 517.0,501.8" stroke="#cfae82" stroke-width="1.25"/>
<path d="M361.0,417.7 Q439.0,460.5 517.0,503.7" stroke="#6a4c30" stroke-width="2.49"/>
<path d="M361.0,419.6 Q439.0,462.4 517.0,505.6" stroke="#6a4c30" stroke-width="1.25"/>
<path d="M361.0,421.6 Q439.0,464.9 517.0,507.6" stroke="#e6d0aa" stroke-width="2.90"/>
<path d="M361.0,423.9 Q439.0,467.5 517.0,509.9" stroke="#e0c69c" stroke-width="1.72"/>
<path d="M361.0,426.1 Q439.0,468.7 517.0,512.1" stroke="#d4b68c" stroke-width="2.65"/>
<path d="M361.0,428.0 Q439.0,470.5 517.0,514.0" stroke="#6a4c30" stroke-width="1.12"/>
<path d="M361.0,429.8 Q439.0,473.0 517.0,515.8" stroke="#b89468" stroke-width="2.42"/>
<path d="M361.0,431.6 Q439.0,474.9 517.0,517.6" stroke="#6a4c30" stroke-width="1.28"/>
<path d="M361.0,432.9 Q439.0,475.9 517.0,518.9" stroke="#e6d0aa" stroke-width="1.23"/>
<path d="M361.0,434.2 Q439.0,477.0 517.0,520.2" stroke="#9a7450" stroke-width="1.38"/>
<path d="M361.0,435.7 Q439.0,479.3 517.0,521.7" stroke="#d4b68c" stroke-width="1.67"/>
<path d="M361.0,438.0 Q439.0,481.4 517.0,524.0" stroke="#cfae82" stroke-width="2.95"/>
<path d="M361.0,440.2 Q439.0,483.3 517.0,526.2" stroke="#a8825a" stroke-width="1.47"/>
<path d="M361.0,442.4 Q439.0,484.9 517.0,528.4" stroke="#9a7450" stroke-width="2.86"/>
</g>
<polygon points="515.0,496.0 682.0,404.0 682.0,433.0 515.0,525.0" fill="#c2a074"/>
<g clip-path="url(#tbr)" fill="none">
<path d="M513.0,496.5 Q598.5,450.1 684.0,404.5" stroke="#dcc49c" stroke-width="0.97"/>
<path d="M513.0,498.1 Q598.5,452.1 684.0,406.1" stroke="#dcc49c" stroke-width="2.34"/>
<path d="M513.0,500.5 Q598.5,454.3 684.0,408.5" stroke="#c4a276" stroke-width="2.38"/>
<path d="M513.0,502.5 Q598.5,456.5 684.0,410.5" stroke="#d6bc92" stroke-width="1.53"/>
<path d="M513.0,504.7 Q598.5,458.5 684.0,412.7" stroke="#b08c62" stroke-width="2.88"/>
<path d="M513.0,506.5 Q598.5,460.5 684.0,414.5" stroke="#9c7850" stroke-width="0.80"/>
<path d="M513.0,507.8 Q598.5,462.2 684.0,415.8" stroke="#dcc49c" stroke-width="1.87"/>
<path d="M513.0,510.2 Q598.5,464.2 684.0,418.2" stroke="#dcc49c" stroke-width="2.90"/>
<path d="M513.0,512.4 Q598.5,467.0 684.0,420.4" stroke="#d6bc92" stroke-width="1.54"/>
<path d="M513.0,513.7 Q598.5,467.6 684.0,421.7" stroke="#9c7850" stroke-width="1.05"/>
<path d="M513.0,515.1 Q598.5,469.2 684.0,423.1" stroke="#d6bc92" stroke-width="1.75"/>
<path d="M513.0,516.6 Q598.5,470.4 684.0,424.6" stroke="#b08c62" stroke-width="1.30"/>
<path d="M513.0,518.7 Q598.5,472.8 684.0,426.7" stroke="#9c7850" stroke-width="2.84"/>
<path d="M513.0,521.4 Q598.5,475.5 684.0,429.4" stroke="#8c6a46" stroke-width="2.59"/>
<path d="M513.0,523.8 Q598.5,477.9 684.0,431.8" stroke="#d6bc92" stroke-width="2.07"/>
<path d="M513.0,525.4 Q598.5,478.9 684.0,433.4" stroke="#caa880" stroke-width="1.30"/>
<path d="M513.0,527.2 Q598.5,481.1 684.0,435.2" stroke="#8c6a46" stroke-width="2.26"/>
</g>
<polygon points="533.0,320.5 682.0,404.0 515.0,496.0 363.0,410.0" fill="#e9cfa6"/>
<g clip-path="url(#tbt)" fill="none" stroke="#e2c392" stroke-opacity="0.7" stroke-linecap="round" stroke-linejoin="round">
<path d="M281.6,365.6 L288.1,362.9 L294.5,360.2 L301.0,357.5 L307.5,354.9 L314.0,352.2 L320.4,349.5 L326.9,346.8 L333.3,344.1 L339.8,341.3 L346.2,338.5 L352.6,335.6 L358.9,332.7 L365.3,329.8 L371.7,326.9 L378.1,324.0 L384.5,321.2 L390.9,318.4 L397.4,315.7 L403.9,313.1 L410.4,310.5 L416.9,308.1 L423.5,305.7 L430.1,303.4 L436.7,301.1 L443.4,298.8 L450.0,296.4 L456.6,294.1 L463.2,291.7 L469.7,289.2 L476.2,286.7 L482.7,284.1 L489.2,281.5 L495.7,278.8 L502.2,276.1 L508.6,273.4 L515.1,270.7 L521.6,268.1 L528.1,265.5 L534.6,262.9 L541.1,260.4 L547.7,257.9 L554.2,255.4 L560.8,252.9 L567.3,250.5 L573.8,248.0 L580.4,245.4 L586.9,242.8 L593.3,240.2 L599.8,237.4 L606.2,234.6 L612.6,231.8 L619.0,228.8 L625.3,225.8 L631.6,222.8 L638.0,219.8 L644.3,216.8 L650.7,213.9 L657.1,211.0 L663.5,208.2" stroke-width="6.00"/>
<path d="M290.7,388.1 L297.2,385.4 L303.7,382.8 L310.2,380.1 L316.6,377.5 L323.1,374.9 L329.6,372.2 L336.1,369.5 L342.5,366.9 L349.0,364.1 L355.4,361.4 L361.9,358.7 L368.3,355.9 L374.8,353.2 L381.2,350.4 L387.6,347.7 L394.1,345.0 L400.6,342.3 L407.0,339.7 L413.5,337.0 L420.0,334.4 L426.5,331.8 L433.0,329.2 L439.5,326.6 L446.0,324.0 L452.5,321.3 L458.9,318.6 L465.3,315.8 L471.7,312.9 L478.1,310.0 L484.5,307.0 L490.8,304.1 L497.2,301.2 L503.6,298.4 L510.1,295.6 L516.5,293.0 L523.1,290.4 L529.6,288.0 L536.2,285.6 L542.8,283.4 L549.5,281.1 L556.1,278.9 L562.8,276.7 L569.4,274.4 L576.0,272.1 L582.6,269.7 L589.2,267.3 L595.7,264.8 L602.3,262.2 L608.7,259.6 L615.2,256.9 L621.7,254.2 L628.1,251.4 L634.5,248.7 L640.9,245.9 L647.4,243.1 L653.8,240.3 L660.2,237.6 L666.7,234.8 L673.2,232.2" stroke-width="7.77"/>
<path d="M298.3,407.0 L304.9,404.4 L311.4,401.8 L317.9,399.3 L324.4,396.7 L330.9,394.1 L337.4,391.6 L344.0,389.1 L350.6,386.7 L357.1,384.3 L363.8,382.0 L370.4,379.7 L377.0,377.4 L383.6,375.1 L390.2,372.7 L396.8,370.3 L403.3,367.8 L409.8,365.2 L416.3,362.5 L422.6,359.6 L429.0,356.6 L435.3,353.4 L441.5,350.1 L447.6,346.7 L453.8,343.2 L459.8,339.5 L465.9,335.8 L471.9,332.1 L478.0,328.4 L484.1,324.7 L490.2,321.2 L496.4,317.8 L502.6,314.6 L509.0,311.7 L515.4,309.0 L522.0,306.5 L528.6,304.3 L535.4,302.2 L542.2,300.3 L549.0,298.5 L555.8,296.7 L562.6,294.8 L569.4,292.9 L576.1,290.9 L582.8,288.9 L589.5,286.8 L596.2,284.6 L602.8,282.4 L609.5,280.1 L616.1,277.9 L622.8,275.7 L629.5,273.6 L636.2,271.4 L642.8,269.3 L649.5,267.1 L656.2,264.9 L662.8,262.6 L669.4,260.3 L676.0,257.8 L682.5,255.3" stroke-width="8.96"/>
<path d="M307.8,430.4 L314.4,427.9 L320.9,425.4 L327.4,422.9 L334.0,420.4 L340.6,418.1 L347.2,415.8 L353.9,413.7 L360.7,411.8 L367.5,410.0 L374.4,408.3 L381.3,406.6 L388.1,405.0 L395.0,403.2 L401.7,401.3 L408.4,399.1 L415.0,396.7 L421.4,393.9 L427.7,390.7 L433.8,387.2 L439.8,383.4 L445.7,379.2 L451.4,374.7 L457.0,370.0 L462.6,365.1 L468.2,360.1 L473.7,355.1 L479.2,350.1 L484.8,345.3 L490.5,340.7 L496.3,336.4 L502.3,332.5 L508.4,329.0 L514.8,326.0 L521.3,323.4 L528.0,321.3 L534.8,319.6 L541.8,318.1 L548.8,316.9 L555.9,315.7 L563.0,314.5 L570.0,313.3 L577.0,311.9 L584.0,310.4 L590.9,308.9 L597.8,307.2 L604.7,305.6 L611.6,304.0 L618.5,302.4 L625.5,301.0 L632.5,299.7 L639.5,298.4 L646.6,297.2 L653.7,296.0 L660.7,294.7 L667.6,293.2 L674.5,291.5 L681.2,289.5 L687.8,287.1 L694.3,284.5" stroke-width="5.93"/>
<path d="M314.2,446.1 L320.7,443.7 L327.3,441.3 L333.9,438.9 L340.5,436.6 L347.2,434.5 L354.1,432.7 L361.0,431.2 L368.0,429.9 L375.1,428.8 L382.3,427.8 L389.4,426.8 L396.5,425.8 L403.6,424.4 L410.4,422.7 L417.1,420.6 L423.6,417.9 L429.8,414.6 L435.8,410.7 L441.5,406.2 L447.0,401.2 L452.4,395.8 L457.6,390.0 L462.7,383.9 L467.7,377.8 L472.8,371.6 L477.9,365.6 L483.1,359.7 L488.4,354.3 L493.9,349.2 L499.6,344.6 L505.6,340.6 L511.7,337.1 L518.1,334.3 L524.8,332.1 L531.6,330.3 L538.6,329.0 L545.8,327.9 L553.0,327.1 L560.2,326.3 L567.4,325.5 L574.6,324.6 L581.8,323.6 L588.9,322.5 L596.0,321.4 L603.1,320.3 L610.2,319.3 L617.4,318.4 L624.7,317.8 L632.1,317.3 L639.5,317.0 L647.0,316.8 L654.4,316.6 L661.9,316.3 L669.2,315.8 L676.4,314.9 L683.4,313.5 L690.1,311.5 L696.6,309.0 L702.9,305.9" stroke-width="8.72"/>
<path d="M324.1,470.7 L330.7,468.3 L337.3,465.9 L343.9,463.7 L350.7,461.7 L357.6,460.1 L364.6,458.8 L371.8,457.9 L379.1,457.2 L386.4,456.8 L393.8,456.4 L401.2,456.0 L408.4,455.2 L415.5,454.0 L422.3,452.3 L428.9,449.8 L435.1,446.5 L441.0,442.4 L446.6,437.5 L451.9,431.9 L456.9,425.7 L461.7,419.0 L466.5,412.0 L471.1,404.8 L475.8,397.7 L480.5,390.7 L485.4,384.1 L490.4,377.8 L495.6,372.0 L501.1,366.9 L506.8,362.3 L512.8,358.4 L519.0,355.2 L525.5,352.7 L532.3,350.7 L539.3,349.3 L546.4,348.2 L553.6,347.5 L561.0,346.9 L568.3,346.3 L575.6,345.8 L582.9,345.2 L590.2,344.5 L597.5,343.9 L604.8,343.3 L612.2,342.8 L619.6,342.6 L627.2,342.6 L634.9,342.9 L642.6,343.5 L650.5,344.2 L658.3,344.9 L666.1,345.6 L673.8,345.9 L681.3,345.8 L688.6,345.1 L695.5,343.6 L702.2,341.4 L708.5,338.3 L714.5,334.4" stroke-width="8.93"/>
<path d="M332.2,490.7 L338.8,488.3 L345.4,486.1 L352.2,484.1 L359.1,482.5 L366.1,481.3 L373.3,480.5 L380.7,480.1 L388.2,479.9 L395.8,479.9 L403.3,479.9 L410.7,479.6 L418.0,478.8 L425.0,477.4 L431.6,475.2 L437.9,472.1 L443.8,468.0 L449.3,463.0 L454.5,457.2 L459.4,450.6 L464.1,443.4 L468.6,435.9 L473.0,428.2 L477.5,420.6 L482.1,413.2 L486.8,406.2 L491.7,399.7 L496.9,393.8 L502.3,388.5 L508.0,383.9 L513.9,380.0 L520.2,376.7 L526.6,374.0 L533.3,371.8 L540.2,370.2 L547.2,368.8 L554.3,367.8 L561.5,366.9 L568.8,366.2 L576.0,365.5 L583.3,364.7 L590.5,364.0 L597.8,363.4 L605.2,362.9 L612.6,362.6 L620.2,362.6 L627.9,363.0 L635.7,363.7 L643.7,364.7 L651.7,366.0 L659.8,367.4 L667.9,368.7 L675.9,369.7 L683.7,370.3 L691.1,370.1 L698.3,369.1 L705.1,367.2 L711.4,364.3 L717.4,360.4 L723.0,355.6" stroke-width="10.22"/>
<path d="M339.7,509.3 L346.3,507.0 L353.0,505.0 L359.9,503.2 L366.9,501.9 L374.1,501.0 L381.4,500.5 L388.9,500.4 L396.5,500.4 L404.1,500.5 L411.6,500.4 L418.9,499.9 L426.0,498.7 L432.8,496.8 L439.2,493.9 L445.2,490.1 L450.8,485.3 L456.0,479.5 L460.9,473.0 L465.6,465.8 L470.1,458.3 L474.5,450.5 L478.9,442.9 L483.5,435.4 L488.2,428.5 L493.2,422.1 L498.4,416.3 L503.9,411.3 L509.7,406.9 L515.8,403.2 L522.1,400.1 L528.6,397.5 L535.2,395.3 L542.1,393.5 L549.0,392.0 L556.0,390.6 L563.0,389.3 L570.1,388.1 L577.2,387.0 L584.2,385.8 L591.4,384.7 L598.5,383.8 L605.7,383.0 L613.1,382.5 L620.6,382.3 L628.2,382.6 L636.1,383.3 L644.1,384.4 L652.2,385.7 L660.3,387.3 L668.5,388.8 L676.6,390.2 L684.5,391.0 L692.1,391.2 L699.4,390.6 L706.3,389.0 L712.8,386.4 L718.9,382.7 L724.6,378.1 L729.9,372.5" stroke-width="8.75"/>
<path d="M350.3,535.6 L357.0,533.4 L363.7,531.4 L370.6,529.8 L377.7,528.6 L384.9,527.9 L392.3,527.4 L399.8,527.2 L407.3,527.1 L414.8,526.9 L422.1,526.4 L429.2,525.3 L436.0,523.5 L442.6,521.0 L448.7,517.5 L454.5,513.1 L459.9,507.8 L465.0,501.7 L469.8,495.0 L474.5,487.9 L479.1,480.6 L483.7,473.3 L488.4,466.3 L493.3,459.8 L498.5,453.9 L503.9,448.6 L509.6,444.1 L515.7,440.3 L521.9,437.1 L528.4,434.5 L535.1,432.4 L541.9,430.5 L548.8,428.9 L555.7,427.3 L562.6,425.8 L569.5,424.2 L576.4,422.5 L583.2,420.7 L590.0,418.9 L596.9,417.1 L603.7,415.4 L610.7,413.9 L617.7,412.7 L625.0,411.9 L632.4,411.5 L640.0,411.6 L647.7,412.2 L655.7,413.1 L663.7,414.3 L671.7,415.5 L679.7,416.6 L687.6,417.4 L695.3,417.7 L702.6,417.2 L709.6,415.8 L716.2,413.4 L722.4,410.1 L728.2,405.8 L733.7,400.6 L738.8,394.7" stroke-width="4.36"/>
<path d="M360.5,560.8 L367.2,558.6 L374.0,556.7 L380.9,555.1 L387.9,553.9 L395.1,553.0 L402.4,552.3 L409.7,551.7 L417.0,551.1 L424.2,550.3 L431.3,549.1 L438.1,547.4 L444.7,545.0 L451.0,541.9 L457.0,538.0 L462.6,533.3 L468.0,528.0 L473.2,522.1 L478.2,515.8 L483.1,509.3 L488.1,502.9 L493.1,496.6 L498.3,490.7 L503.7,485.3 L509.3,480.6 L515.2,476.5 L521.3,473.1 L527.8,470.2 L534.4,467.9 L541.1,466.0 L548.0,464.3 L555.0,462.8 L561.9,461.3 L568.8,459.7 L575.6,458.0 L582.4,456.1 L589.1,454.0 L595.8,451.7 L602.4,449.5 L609.0,447.2 L615.7,445.1 L622.5,443.2 L629.5,441.7 L636.6,440.6 L643.8,439.9 L651.3,439.6 L658.9,439.8 L666.6,440.2 L674.4,440.7 L682.1,441.2 L689.8,441.5 L697.3,441.4 L704.6,440.7 L711.6,439.3 L718.2,437.1 L724.6,434.1 L730.6,430.3 L736.3,425.7 L741.7,420.5 L747.0,414.8" stroke-width="4.52"/>
<path d="M367.2,577.5 L373.9,575.3 L380.7,573.3 L387.5,571.6 L394.5,570.1 L401.5,568.8 L408.6,567.6 L415.6,566.4 L422.7,565.1 L429.6,563.6 L436.4,561.8 L443.0,559.4 L449.4,556.6 L455.6,553.2 L461.5,549.3 L467.3,544.8 L472.9,539.9 L478.3,534.7 L483.7,529.4 L489.1,523.9 L494.5,518.6 L500.0,513.6 L505.6,508.9 L511.5,504.6 L517.5,500.9 L523.7,497.6 L530.1,494.8 L536.7,492.4 L543.4,490.4 L550.3,488.5 L557.1,486.8 L564.0,485.1 L570.8,483.3 L577.6,481.4 L584.3,479.4 L591.0,477.2 L597.6,474.8 L604.1,472.4 L610.7,469.9 L617.3,467.6 L623.9,465.3 L630.7,463.3 L637.5,461.6 L644.5,460.2 L651.6,459.1 L658.9,458.4 L666.2,457.8 L673.6,457.4 L681.0,457.0 L688.3,456.6 L695.6,455.8 L702.7,454.7 L709.6,453.2 L716.3,451.0 L722.7,448.3 L728.9,445.0 L734.9,441.1 L740.7,436.7 L746.3,431.9 L751.8,426.9" stroke-width="6.25"/>
<path d="M375.4,597.7 L382.0,595.4 L388.7,593.2 L395.4,591.2 L402.2,589.3 L409.0,587.4 L415.8,585.6 L422.6,583.8 L429.4,581.8 L436.1,579.7 L442.7,577.3 L449.2,574.7 L455.5,571.7 L461.7,568.4 L467.8,564.8 L473.8,561.0 L479.7,556.9 L485.6,552.7 L491.4,548.4 L497.3,544.2 L503.2,540.2 L509.1,536.3 L515.2,532.7 L521.4,529.3 L527.7,526.3 L534.2,523.5 L540.7,521.0 L547.3,518.7 L554.0,516.6 L560.8,514.6 L567.5,512.5 L574.2,510.5 L580.9,508.3 L587.5,506.1 L594.1,503.8 L600.7,501.3 L607.2,498.8 L613.8,496.3 L620.3,493.7 L626.8,491.2 L633.4,488.9 L640.1,486.7 L646.8,484.7 L653.6,482.8 L660.5,481.2 L667.5,479.7 L674.5,478.3 L681.5,477.0 L688.5,475.6 L695.4,474.1 L702.3,472.4 L709.1,470.5 L715.7,468.3 L722.2,465.7 L728.6,462.7 L734.8,459.5 L740.9,455.9 L746.9,452.1 L752.8,448.1 L758.7,444.0" stroke-width="5.23"/>
</g>
<g clip-path="url(#tbt)" fill="none" stroke="#c49462" stroke-opacity="0.28" stroke-linecap="round" stroke-linejoin="round">
<path d="M278.5,357.8 L285.1,355.4 L291.6,353.0 L298.2,350.5 L304.7,347.9 L311.2,345.3 L317.6,342.6 L324.1,339.8 L330.5,337.0 L336.9,334.2 L343.3,331.4 L349.8,328.7 L356.2,325.9 L362.7,323.3 L369.2,320.6 L375.6,318.0 L382.1,315.4 L388.6,312.7 L395.1,310.0 L401.5,307.3 L408.0,304.6 L414.4,301.8 L420.9,299.1 L427.3,296.4 L433.8,293.8 L440.3,291.2 L446.8,288.7 L453.4,286.2 L459.9,283.7 L466.5,281.2 L473.0,278.7 L479.5,276.2 L486.0,273.5 L492.5,270.9 L499.0,268.2 L505.4,265.4 L511.9,262.7 L518.3,260.0 L524.8,257.4 L531.3,254.8 L537.8,252.3 L544.4,249.7 L550.9,247.2 L557.4,244.6 L563.9,242.0 L570.4,239.3 L576.8,236.6 L583.2,233.9 L589.7,231.1 L596.1,228.3 L602.6,225.6 L609.0,223.0 L615.5,220.4 L622.1,217.9 L628.6,215.4 L635.2,213.0 L641.8,210.6 L648.4,208.2 L654.9,205.8 L661.5,203.3" stroke-width="1.90"/>
<path d="M284.9,373.8 L291.2,370.7 L297.6,367.6 L303.9,364.8 L310.4,362.1 L316.9,359.5 L323.5,357.2 L330.2,354.9 L336.8,352.8 L343.5,350.6 L350.2,348.3 L356.8,346.0 L363.3,343.5 L369.8,341.0 L376.3,338.4 L382.8,335.8 L389.3,333.2 L395.9,330.6 L402.4,328.2 L409.0,325.7 L415.5,323.3 L422.1,320.9 L428.6,318.3 L435.1,315.6 L441.4,312.6 L447.7,309.5 L454.0,306.3 L460.2,302.9 L466.3,299.5 L472.5,296.1 L478.7,292.9 L485.0,289.8 L491.4,286.9 L497.9,284.2 L504.5,281.8 L511.1,279.4 L517.7,277.2 L524.3,274.9 L531.0,272.7 L537.6,270.4 L544.2,268.0 L550.8,265.7 L557.4,263.3 L564.0,261.0 L570.6,258.7 L577.3,256.5 L584.0,254.3 L590.7,252.2 L597.3,250.0 L604.0,247.8 L610.5,245.3 L617.0,242.8 L623.5,240.0 L629.8,237.0 L636.1,233.9 L642.4,230.8 L648.7,227.6 L655.0,224.5 L661.3,221.5 L667.7,218.7" stroke-width="2.27"/>
<path d="M287.3,379.7 L293.3,375.7 L299.3,372.0 L305.6,368.9 L312.1,366.3 L318.8,364.3 L325.7,362.7 L332.8,361.4 L339.8,360.1 L346.8,358.8 L353.8,357.3 L360.5,355.4 L367.2,353.1 L373.8,350.7 L380.3,348.1 L386.8,345.5 L393.3,343.0 L399.9,340.8 L406.7,338.7 L413.4,336.7 L420.1,334.7 L426.8,332.5 L433.3,330.0 L439.7,327.0 L445.8,323.4 L451.7,319.4 L457.4,314.9 L463.1,310.2 L468.8,305.5 L474.5,301.1 L480.4,297.1 L486.6,293.6 L493.0,290.7 L499.6,288.3 L506.3,286.4 L513.2,284.7 L520.1,283.1 L527.0,281.4 L533.8,279.6 L540.5,277.5 L547.2,275.4 L553.8,273.2 L560.5,271.1 L567.3,269.2 L574.2,267.5 L581.1,266.0 L588.1,264.7 L595.2,263.4 L602.1,262.0 L609.0,260.2 L615.6,257.9 L622.0,255.1 L628.2,251.7 L634.2,247.8 L640.0,243.6 L645.8,239.3 L651.7,235.1 L657.6,231.1 L663.7,227.5 L670.0,224.4" stroke-width="1.90"/>
<path d="M292.2,391.7 L297.8,386.9 L303.7,382.9 L310.0,379.8 L316.7,377.7 L323.8,376.6 L331.2,376.1 L338.7,375.9 L346.1,375.8 L353.5,375.3 L360.6,374.3 L367.6,372.7 L374.3,370.6 L380.8,368.1 L387.3,365.5 L393.8,363.0 L400.5,360.7 L407.2,358.8 L414.1,357.2 L421.1,355.7 L428.0,354.1 L434.7,352.0 L441.1,349.1 L447.1,345.4 L452.8,340.7 L458.1,335.2 L463.2,329.1 L468.2,322.9 L473.3,316.8 L478.6,311.2 L484.3,306.5 L490.3,302.8 L496.8,300.1 L503.6,298.3 L510.6,297.0 L517.8,296.1 L525.0,295.2 L532.1,294.2 L539.1,292.8 L546.0,291.1 L552.8,289.3 L559.6,287.5 L566.5,286.0 L573.6,284.8 L580.8,284.0 L588.2,283.5 L595.7,283.3 L603.1,282.9 L610.3,282.2 L617.3,280.7 L623.8,278.2 L630.0,274.8 L635.7,270.4 L641.2,265.2 L646.5,259.7 L651.8,254.0 L657.2,248.7 L662.9,244.0 L668.8,240.1 L675.1,236.9" stroke-width="1.68"/>
<path d="M296.6,402.6 L302.0,397.4 L308.0,393.4 L314.5,390.8 L321.5,389.6 L329.1,389.6 L336.9,390.2 L344.8,391.2 L352.7,391.9 L360.3,392.0 L367.5,391.3 L374.5,389.8 L381.1,387.6 L387.6,385.0 L394.1,382.4 L400.7,380.0 L407.5,378.1 L414.4,376.6 L421.5,375.4 L428.6,374.2 L435.5,372.7 L442.1,370.3 L448.2,366.8 L453.8,362.0 L458.9,356.0 L463.6,348.9 L468.1,341.2 L472.5,333.5 L477.1,326.2 L482.1,319.9 L487.6,314.9 L493.7,311.2 L500.3,309.0 L507.4,307.7 L514.7,307.2 L522.2,307.0 L529.6,306.7 L537.0,306.2 L544.1,305.2 L551.1,303.9 L558.1,302.5 L565.2,301.3 L572.4,300.5 L579.8,300.2 L587.5,300.4 L595.3,301.1 L603.2,301.8 L610.8,302.2 L618.2,301.7 L625.1,300.1 L631.5,297.1 L637.2,292.7 L642.5,287.1 L647.4,280.6 L652.2,273.7 L657.1,267.1 L662.2,261.0 L667.7,256.0 L673.6,252.0 L680.0,249.1" stroke-width="1.72"/>
<path d="M298.9,408.3 L304.4,403.2 L310.5,399.7 L317.4,398.0 L324.8,397.8 L332.8,398.8 L341.0,400.4 L349.2,402.0 L357.2,403.2 L364.9,403.4 L372.1,402.7 L379.0,401.0 L385.6,398.6 L392.0,395.9 L398.5,393.3 L405.2,391.1 L412.1,389.5 L419.2,388.4 L426.4,387.5 L433.5,386.4 L440.3,384.6 L446.7,381.7 L452.5,377.4 L457.7,371.5 L462.2,364.2 L466.4,355.8 L470.4,347.0 L474.5,338.4 L478.9,330.7 L483.9,324.2 L489.5,319.4 L495.7,316.3 L502.6,314.6 L509.9,314.0 L517.5,314.1 L525.1,314.3 L532.7,314.3 L540.1,313.9 L547.3,313.1 L554.4,312.0 L561.5,311.0 L568.8,310.3 L576.3,310.1 L584.1,310.7 L592.1,311.8 L600.2,313.3 L608.3,314.6 L616.1,315.2 L623.4,314.6 L630.1,312.4 L636.1,308.6 L641.4,303.1 L646.2,296.3 L650.7,288.8 L655.2,281.1 L659.8,273.9 L664.8,267.6 L670.4,262.7 L676.5,259.1 L683.1,256.7" stroke-width="2.32"/>
<path d="M303.6,420.1 L309.4,415.6 L315.9,413.0 L323.1,412.1 L330.9,412.8 L339.1,414.4 L347.5,416.5 L355.8,418.3 L363.7,419.3 L371.3,419.3 L378.4,418.2 L385.1,416.2 L391.6,413.6 L398.1,410.9 L404.6,408.4 L411.3,406.4 L418.3,405.0 L425.5,404.0 L432.7,403.1 L439.7,401.8 L446.3,399.5 L452.4,395.9 L457.8,390.6 L462.6,383.7 L466.8,375.5 L470.7,366.3 L474.5,357.0 L478.4,348.2 L482.8,340.4 L487.9,334.2 L493.6,329.7 L500.1,327.0 L507.1,325.7 L514.5,325.4 L522.1,325.5 L529.8,325.8 L537.4,325.8 L544.8,325.5 L552.0,324.8 L559.3,324.1 L566.6,323.5 L574.2,323.5 L582.0,324.2 L590.1,325.5 L598.3,327.3 L606.7,329.2 L614.8,330.6 L622.5,331.0 L629.6,329.9 L636.0,327.0 L641.6,322.3 L646.6,316.0 L651.2,308.5 L655.5,300.5 L659.8,292.6 L664.5,285.5 L669.7,279.7 L675.5,275.3 L681.8,272.2 L688.6,270.3" stroke-width="1.39"/>
<path d="M308.0,430.8 L314.1,427.3 L320.9,425.5 L328.4,425.3 L336.4,426.3 L344.6,428.0 L352.9,429.8 L361.0,431.2 L368.7,431.7 L376.1,431.1 L383.0,429.5 L389.6,427.2 L396.0,424.4 L402.4,421.7 L409.0,419.3 L415.8,417.4 L422.8,416.1 L429.9,415.0 L437.0,413.8 L443.8,412.1 L450.2,409.2 L456.0,404.9 L461.2,399.0 L465.8,391.6 L469.9,383.1 L473.8,374.0 L477.7,365.0 L481.9,356.6 L486.5,349.5 L491.8,343.9 L497.8,340.0 L504.3,337.5 L511.4,336.3 L518.8,335.9 L526.3,335.8 L533.8,335.7 L541.2,335.5 L548.6,334.9 L555.9,334.3 L563.2,333.8 L570.7,333.6 L578.4,334.1 L586.4,335.2 L594.7,336.9 L603.0,338.8 L611.2,340.5 L619.2,341.6 L626.7,341.4 L633.5,339.6 L639.6,336.0 L645.0,330.7 L649.9,324.0 L654.4,316.4 L658.8,308.7 L663.3,301.3 L668.3,294.9 L673.8,289.9 L679.9,286.2 L686.4,283.7 L693.4,282.2" stroke-width="1.67"/>
<path d="M313.5,444.4 L319.9,441.7 L327.0,440.5 L334.5,440.4 L342.4,441.3 L350.4,442.5 L358.4,443.5 L366.2,444.0 L373.6,443.7 L380.6,442.4 L387.3,440.3 L393.8,437.7 L400.2,434.8 L406.7,432.1 L413.3,429.8 L420.1,428.0 L427.0,426.5 L434.0,425.2 L440.9,423.5 L447.5,421.2 L453.7,417.8 L459.4,413.1 L464.5,407.0 L469.1,399.8 L473.4,391.8 L477.6,383.4 L481.9,375.3 L486.4,367.9 L491.4,361.7 L497.0,356.7 L503.1,353.1 L509.6,350.7 L516.6,349.1 L523.7,348.2 L531.0,347.5 L538.3,346.8 L545.5,346.1 L552.8,345.3 L560.1,344.7 L567.5,344.3 L575.1,344.4 L582.9,345.1 L590.9,346.3 L599.1,347.9 L607.3,349.5 L615.3,350.7 L623.0,351.0 L630.2,350.1 L636.7,347.6 L642.7,343.6 L648.1,338.2 L653.0,331.8 L657.8,324.9 L662.6,318.0 L667.6,311.7 L673.0,306.4 L678.8,302.3 L685.2,299.3 L691.9,297.3 L698.9,295.8" stroke-width="1.83"/>
<path d="M322.2,466.0 L328.9,463.8 L336.0,462.7 L343.4,462.3 L350.9,462.4 L358.6,462.6 L366.1,462.5 L373.4,461.9 L380.4,460.7 L387.2,458.7 L393.8,456.3 L400.2,453.5 L406.6,450.8 L413.1,448.1 L419.8,445.8 L426.5,443.9 L433.3,442.1 L440.2,440.3 L446.8,438.1 L453.3,435.3 L459.3,431.7 L465.0,427.0 L470.2,421.3 L475.2,414.9 L479.9,407.9 L484.6,400.9 L489.4,394.1 L494.5,387.8 L499.8,382.4 L505.6,377.9 L511.7,374.4 L518.1,371.6 L524.8,369.5 L531.6,367.7 L538.6,366.2 L545.6,364.9 L552.6,363.7 L559.8,362.6 L567.0,361.9 L574.5,361.6 L582.1,361.7 L589.8,362.3 L597.8,363.3 L605.7,364.3 L613.6,365.2 L621.3,365.5 L628.7,365.0 L635.6,363.4 L642.0,360.6 L647.9,356.6 L653.5,351.7 L658.8,346.1 L664.0,340.4 L669.3,334.9 L674.9,329.9 L680.7,325.7 L687.0,322.4 L693.5,319.8 L700.3,317.9 L707.2,316.3" stroke-width="1.57"/>
<path d="M329.7,484.6 L336.4,482.6 L343.4,481.1 L350.5,479.9 L357.6,479.0 L364.8,478.0 L371.8,476.7 L378.7,475.1 L385.5,473.1 L392.1,470.8 L398.6,468.1 L405.0,465.4 L411.4,462.7 L418.0,460.1 L424.5,457.7 L431.2,455.5 L437.9,453.3 L444.5,451.1 L451.0,448.5 L457.4,445.5 L463.5,442.0 L469.3,437.8 L475.0,433.0 L480.4,427.8 L485.7,422.2 L491.0,416.7 L496.4,411.2 L501.8,406.1 L507.5,401.4 L513.4,397.3 L519.4,393.6 L525.7,390.3 L532.1,387.5 L538.6,385.0 L545.2,382.7 L552.0,380.8 L558.9,379.1 L565.9,377.8 L573.1,376.9 L580.4,376.3 L587.9,376.1 L595.5,376.2 L603.1,376.4 L610.7,376.6 L618.2,376.5 L625.5,375.9 L632.6,374.6 L639.3,372.6 L645.7,369.8 L651.8,366.3 L657.8,362.2 L663.6,357.9 L669.3,353.5 L675.2,349.4 L681.2,345.6 L687.5,342.3 L693.9,339.5 L700.5,337.1 L707.2,335.1 L713.9,333.1" stroke-width="2.30"/>
<path d="M336.0,500.2 L342.6,497.9 L349.3,495.7 L356.0,493.7 L362.8,491.7 L369.5,489.6 L376.2,487.4 L382.8,485.1 L389.3,482.6 L395.8,480.0 L402.3,477.4 L408.8,474.7 L415.2,472.1 L421.7,469.5 L428.3,467.0 L434.8,464.5 L441.4,462.0 L447.9,459.4 L454.3,456.7 L460.7,453.7 L466.9,450.5 L473.1,447.1 L479.1,443.3 L485.1,439.3 L490.9,435.2 L496.8,430.9 L502.5,426.5 L508.3,422.2 L514.2,417.9 L520.1,413.8 L526.0,409.8 L532.0,406.1 L538.2,402.6 L544.5,399.5 L550.9,396.7 L557.5,394.3 L564.2,392.3 L571.1,390.8 L578.2,389.6 L585.4,388.7 L592.7,388.0 L600.0,387.4 L607.3,386.8 L614.5,386.1 L621.7,385.1 L628.7,383.7 L635.6,382.0 L642.3,379.9 L648.8,377.4 L655.2,374.6 L661.5,371.6 L667.8,368.4 L674.1,365.3 L680.4,362.2 L686.8,359.2 L693.2,356.5 L699.7,353.9 L706.2,351.4 L712.8,349.0 L719.4,346.7" stroke-width="1.94"/>
<path d="M341.3,513.3 L347.8,510.6 L354.2,507.8 L360.6,505.0 L367.0,502.3 L373.5,499.5 L379.9,496.8 L386.4,494.1 L392.9,491.4 L399.4,488.8 L405.9,486.2 L412.4,483.6 L418.8,481.0 L425.3,478.3 L431.8,475.7 L438.3,473.0 L444.7,470.3 L451.2,467.6 L457.6,464.9 L464.1,462.2 L470.5,459.4 L477.0,456.6 L483.3,453.8 L489.7,450.7 L495.9,447.5 L502.1,444.0 L508.1,440.3 L514.1,436.4 L520.0,432.3 L525.8,428.1 L531.7,423.9 L537.6,419.8 L543.6,416.0 L549.7,412.5 L556.1,409.5 L562.6,406.9 L569.2,404.7 L576.1,403.0 L583.0,401.5 L590.0,400.2 L597.1,399.0 L604.2,397.8 L611.2,396.4 L618.2,395.0 L625.1,393.4 L631.9,391.6 L638.7,389.8 L645.4,387.8 L652.1,385.7 L658.8,383.5 L665.4,381.2 L672.1,378.9 L678.6,376.5 L685.2,374.1 L691.7,371.6 L698.2,369.0 L704.7,366.3 L711.2,363.7 L717.7,361.0 L724.1,358.3" stroke-width="1.04"/>
<path d="M349.2,532.9 L355.6,529.9 L361.9,526.9 L368.2,523.8 L374.5,520.7 L380.9,517.8 L387.3,514.9 L393.7,512.2 L400.2,509.5 L406.7,506.9 L413.2,504.3 L419.7,501.8 L426.2,499.1 L432.6,496.4 L439.1,493.7 L445.5,491.0 L452.0,488.2 L458.4,485.6 L464.9,483.0 L471.5,480.5 L478.1,478.1 L484.6,475.7 L491.2,473.2 L497.7,470.7 L504.2,468.0 L510.5,465.0 L516.8,461.8 L522.9,458.2 L528.9,454.5 L534.9,450.6 L540.9,446.7 L546.9,442.9 L553.0,439.3 L559.2,435.9 L565.5,432.9 L572.0,430.3 L578.6,427.9 L585.3,425.8 L592.1,423.9 L598.9,422.0 L605.7,420.2 L612.5,418.3 L619.2,416.3 L625.9,414.3 L632.7,412.2 L639.4,410.1 L646.1,408.1 L652.8,406.1 L659.6,404.1 L666.3,402.1 L673.1,400.2 L679.8,398.1 L686.5,395.9 L693.1,393.6 L699.6,391.1 L706.1,388.5 L712.6,385.8 L719.0,383.0 L725.4,380.2 L731.8,377.4" stroke-width="1.37"/>
<path d="M352.1,540.0 L358.5,537.2 L364.9,534.4 L371.3,531.5 L377.7,528.7 L384.2,526.0 L390.6,523.3 L397.1,520.6 L403.6,518.0 L410.1,515.4 L416.6,512.8 L423.1,510.2 L429.6,507.6 L436.1,504.9 L442.5,502.2 L449.0,499.6 L455.5,496.9 L462.0,494.3 L468.5,491.7 L475.0,489.1 L481.5,486.5 L488.0,483.9 L494.5,481.3 L500.9,478.6 L507.3,475.7 L513.6,472.7 L519.9,469.5 L526.1,466.1 L532.2,462.7 L538.4,459.1 L544.5,455.6 L550.6,452.1 L556.9,448.8 L563.2,445.7 L569.5,442.9 L576.0,440.3 L582.6,437.9 L589.3,435.7 L596.0,433.6 L602.8,431.6 L609.5,429.7 L616.3,427.7 L623.0,425.7 L629.7,423.7 L636.4,421.6 L643.1,419.4 L649.8,417.2 L656.4,415.0 L663.1,412.8 L669.7,410.6 L676.4,408.3 L683.0,405.9 L689.5,403.5 L696.1,401.0 L702.6,398.4 L709.1,395.8 L715.5,393.1 L722.0,390.4 L728.4,387.7 L734.9,385.0" stroke-width="2.25"/>
<path d="M357.9,554.5 L364.6,552.4 L371.4,550.3 L378.1,548.2 L384.7,546.0 L391.3,543.7 L397.9,541.2 L404.4,538.7 L410.9,536.0 L417.3,533.3 L423.8,530.6 L430.3,528.0 L436.8,525.4 L443.3,522.9 L449.9,520.4 L456.4,517.8 L462.9,515.2 L469.3,512.5 L475.7,509.6 L482.0,506.5 L488.3,503.3 L494.5,500.0 L500.7,496.7 L506.9,493.4 L513.2,490.2 L519.5,487.2 L525.9,484.2 L532.3,481.4 L538.7,478.7 L545.2,476.1 L551.7,473.5 L558.2,470.9 L564.7,468.2 L571.2,465.6 L577.6,462.9 L584.2,460.4 L590.7,457.9 L597.3,455.6 L604.0,453.5 L610.8,451.4 L617.5,449.5 L624.3,447.6 L631.1,445.7 L637.8,443.6 L644.4,441.4 L651.0,438.9 L657.5,436.2 L663.8,433.3 L670.1,430.2 L676.4,427.1 L682.7,423.9 L689.0,420.9 L695.4,417.9 L701.8,415.2 L708.3,412.5 L714.8,410.1 L721.4,407.7 L728.0,405.3 L734.6,402.9 L741.2,400.5" stroke-width="1.14"/>
<path d="M361.2,562.6 L368.4,561.7 L375.6,560.7 L382.6,559.6 L389.6,558.1 L396.4,556.2 L403.0,553.9 L409.5,551.2 L415.9,548.4 L422.3,545.5 L428.7,542.7 L435.2,540.1 L441.7,537.7 L448.4,535.3 L455.0,533.0 L461.5,530.6 L468.0,527.8 L474.3,524.7 L480.3,521.1 L486.3,517.1 L492.1,512.8 L497.9,508.4 L503.7,504.0 L509.6,500.0 L515.7,496.5 L522.1,493.5 L528.6,491.0 L535.3,489.0 L542.2,487.3 L549.1,485.7 L556.0,484.1 L562.8,482.2 L569.5,480.1 L576.1,477.8 L582.7,475.3 L589.2,472.8 L595.8,470.4 L602.4,468.2 L609.2,466.3 L616.1,464.6 L623.0,463.1 L630.0,461.6 L636.9,460.0 L643.6,458.0 L650.2,455.5 L656.5,452.5 L662.6,448.9 L668.5,444.8 L674.3,440.5 L680.1,436.1 L685.9,431.9 L691.9,428.0 L698.1,424.7 L704.5,421.8 L711.1,419.4 L717.8,417.4 L724.6,415.5 L731.4,413.7 L738.1,411.7 L744.8,409.5" stroke-width="1.31"/>
<path d="M365.9,574.1 L373.6,574.5 L381.2,574.7 L388.6,574.4 L395.8,573.4 L402.7,571.7 L409.3,569.4 L415.7,566.5 L422.0,563.4 L428.3,560.3 L434.7,557.5 L441.2,555.0 L447.8,552.7 L454.5,550.6 L461.2,548.5 L467.7,545.9 L474.0,542.8 L480.0,538.9 L485.7,534.2 L491.1,529.0 L496.4,523.4 L501.7,517.8 L507.1,512.6 L512.8,508.1 L518.9,504.5 L525.5,501.9 L532.3,500.3 L539.5,499.3 L546.8,498.8 L554.2,498.4 L561.5,497.7 L568.6,496.5 L575.5,494.9 L582.2,492.8 L588.7,490.4 L595.3,487.9 L601.9,485.6 L608.6,483.6 L615.6,482.0 L622.6,480.9 L629.8,479.9 L636.9,478.8 L643.9,477.3 L650.5,475.1 L656.8,472.1 L662.8,468.1 L668.3,463.2 L673.7,457.7 L678.9,451.9 L684.2,446.3 L689.6,441.1 L695.4,436.6 L701.5,433.1 L708.0,430.5 L714.8,428.6 L721.8,427.3 L728.8,426.1 L735.9,424.8 L742.8,423.2 L749.5,421.2" stroke-width="0.97"/>
<path d="M371.9,589.0 L380.1,590.5 L388.0,591.6 L395.7,591.8 L402.9,591.1 L409.7,589.3 L416.2,586.6 L422.5,583.4 L428.7,580.0 L434.9,576.8 L441.3,574.0 L447.9,571.7 L454.7,569.6 L461.4,567.7 L468.1,565.4 L474.5,562.6 L480.5,558.8 L486.1,553.9 L491.3,548.1 L496.2,541.6 L501.0,534.9 L506.0,528.4 L511.2,522.7 L516.9,518.1 L523.1,514.9 L530.0,513.1 L537.3,512.5 L544.9,512.7 L552.7,513.3 L560.4,513.8 L568.0,513.8 L575.2,513.0 L582.2,511.6 L588.9,509.5 L595.5,507.0 L602.0,504.6 L608.7,502.5 L615.6,500.9 L622.7,499.8 L630.0,499.1 L637.3,498.5 L644.5,497.6 L651.4,496.0 L657.9,493.3 L663.8,489.4 L669.3,484.2 L674.3,477.9 L679.1,471.0 L683.8,464.0 L688.7,457.4 L693.9,451.7 L699.6,447.1 L705.8,443.9 L712.6,441.8 L719.6,440.6 L726.9,439.9 L734.2,439.4 L741.4,438.5 L748.4,437.2 L755.2,435.3" stroke-width="1.40"/>
<path d="M377.5,602.9 L385.9,605.0 L394.0,606.4 L401.7,606.7 L408.8,605.7 L415.5,603.5 L421.8,600.5 L428.0,597.0 L434.1,593.4 L440.3,590.2 L446.8,587.5 L453.5,585.3 L460.2,583.4 L467.0,581.4 L473.5,578.9 L479.7,575.5 L485.4,570.9 L490.6,565.2 L495.4,558.4 L500.0,551.0 L504.5,543.5 L509.3,536.7 L514.5,531.0 L520.4,526.8 L527.0,524.3 L534.2,523.5 L541.9,523.9 L549.9,525.0 L558.0,526.4 L565.9,527.3 L573.6,527.6 L580.8,526.9 L587.8,525.3 L594.4,523.1 L601.0,520.7 L607.6,518.3 L614.4,516.4 L621.4,515.2 L628.7,514.5 L636.1,514.2 L643.5,513.8 L650.6,512.8 L657.4,510.7 L663.5,507.3 L669.1,502.4 L674.1,496.0 L678.6,488.6 L683.0,480.7 L687.4,473.0 L692.1,466.0 L697.4,460.3 L703.2,456.1 L709.7,453.4 L716.7,452.0 L724.0,451.6 L731.6,451.4 L739.0,451.2 L746.3,450.6 L753.3,449.2 L760.1,447.3" stroke-width="1.23"/>
</g>
<g clip-path="url(#tbt)" fill="none" stroke="#f4e4c8" stroke-opacity="0.4" stroke-linecap="round" stroke-linejoin="round">
<path d="M282.4,367.4 L288.9,364.8 L295.4,362.2 L301.9,359.6 L308.3,357.0 L314.8,354.3 L321.3,351.7 L327.8,349.1 L334.3,346.5 L340.8,343.9 L347.3,341.2 L353.8,338.6 L360.3,336.0 L366.8,333.4 L373.2,330.7 L379.7,328.1 L386.2,325.5 L392.7,322.9 L399.2,320.2 L405.7,317.6 L412.2,314.9 L418.6,312.3 L425.1,309.6 L431.6,306.9 L438.0,304.2 L444.5,301.5 L450.9,298.7 L457.3,296.0 L463.8,293.2 L470.2,290.4 L476.6,287.6 L483.1,284.9 L489.5,282.1 L496.0,279.4 L502.4,276.8 L508.9,274.2 L515.4,271.6 L522.0,269.1 L528.5,266.6 L535.1,264.1 L541.6,261.6 L548.2,259.2 L554.7,256.7 L561.3,254.2 L567.8,251.7 L574.3,249.2 L580.9,246.6 L587.4,244.1 L593.9,241.5 L600.4,238.9 L606.9,236.3 L613.4,233.7 L619.9,231.1 L626.4,228.4 L632.8,225.8 L639.3,223.2 L645.8,220.6 L652.3,218.0 L658.8,215.4 L665.3,212.7" stroke-width="4.18"/>
<path d="M289.9,385.9 L295.9,382.3 L302.0,378.7 L308.2,375.3 L314.5,372.2 L321.0,369.5 L327.6,367.2 L334.3,365.1 L341.1,363.2 L347.9,361.4 L354.7,359.5 L361.4,357.5 L368.1,355.4 L374.7,353.0 L381.2,350.5 L387.7,347.9 L394.3,345.4 L400.8,342.9 L407.4,340.5 L414.1,338.3 L420.7,336.1 L427.4,334.0 L434.0,331.7 L440.5,329.1 L446.9,326.2 L453.1,322.9 L459.2,319.3 L465.2,315.4 L471.1,311.3 L477.0,307.2 L482.9,303.2 L489.0,299.5 L495.2,296.2 L501.5,293.2 L508.1,290.7 L514.7,288.4 L521.4,286.4 L528.2,284.5 L535.0,282.6 L541.7,280.6 L548.4,278.5 L555.1,276.3 L561.7,274.0 L568.4,271.9 L575.1,269.8 L581.9,267.8 L588.7,266.0 L595.6,264.3 L602.4,262.7 L609.3,260.9 L616.0,258.9 L622.7,256.7 L629.1,254.0 L635.5,251.0 L641.7,247.7 L647.8,244.2 L653.9,240.5 L660.0,236.9 L666.1,233.4 L672.3,230.2" stroke-width="4.36"/>
<path d="M299.9,410.7 L305.4,405.7 L311.1,401.1 L317.0,397.0 L323.2,393.8 L329.8,391.3 L336.7,389.7 L343.8,388.6 L351.0,387.8 L358.3,387.1 L365.4,386.2 L372.5,384.8 L379.3,383.1 L386.0,380.9 L392.5,378.4 L399.0,375.9 L405.6,373.5 L412.3,371.3 L419.1,369.4 L426.0,367.8 L432.9,366.2 L439.7,364.5 L446.4,362.3 L452.8,359.5 L458.9,355.9 L464.6,351.4 L470.0,346.1 L475.2,340.2 L480.3,334.1 L485.4,328.0 L490.7,322.4 L496.3,317.5 L502.2,313.6 L508.5,310.5 L515.2,308.3 L522.1,306.8 L529.2,305.6 L536.3,304.6 L543.5,303.6 L550.5,302.4 L557.5,300.9 L564.4,299.3 L571.3,297.8 L578.3,296.3 L585.4,295.2 L592.6,294.4 L599.9,293.8 L607.3,293.5 L614.7,293.0 L621.9,292.2 L628.9,290.8 L635.6,288.6 L641.9,285.6 L647.9,281.7 L653.6,277.2 L659.1,272.2 L664.7,267.2 L670.3,262.4 L676.0,258.0 L682.0,254.1" stroke-width="2.63"/>
<path d="M307.3,429.0 L312.3,422.8 L317.7,417.4 L323.5,413.1 L329.8,410.1 L336.7,408.4 L344.0,407.8 L351.6,407.9 L359.3,408.4 L367.0,408.7 L374.5,408.6 L381.7,407.8 L388.6,406.2 L395.3,404.1 L401.9,401.6 L408.4,399.2 L415.1,397.0 L421.9,395.2 L429.0,393.9 L436.1,392.9 L443.2,391.9 L450.2,390.4 L456.8,388.1 L463.0,384.7 L468.6,379.8 L473.6,373.7 L478.2,366.4 L482.5,358.3 L486.8,350.1 L491.1,342.2 L495.9,335.3 L501.1,329.5 L506.9,325.3 L513.4,322.5 L520.3,320.9 L527.5,320.2 L535.0,320.0 L542.5,319.9 L550.0,319.7 L557.3,319.1 L564.5,318.3 L571.7,317.4 L578.9,316.7 L586.3,316.2 L593.9,316.3 L601.7,316.8 L609.6,317.7 L617.5,318.7 L625.3,319.3 L632.8,319.2 L639.9,318.0 L646.4,315.4 L652.4,311.5 L657.8,306.4 L662.9,300.3 L667.9,293.9 L672.8,287.5 L678.0,281.6 L683.5,276.5 L689.4,272.4" stroke-width="3.18"/>
<path d="M316.3,451.5 L321.1,444.6 L326.4,439.0 L332.3,434.9 L338.9,432.6 L346.2,432.0 L354.0,432.6 L362.1,434.0 L370.3,435.5 L378.2,436.5 L385.9,436.8 L393.2,436.2 L400.1,434.6 L406.8,432.4 L413.3,429.9 L419.9,427.6 L426.7,425.7 L433.7,424.4 L441.0,423.6 L448.3,423.1 L455.6,422.4 L462.5,420.9 L468.9,418.1 L474.7,413.6 L479.7,407.3 L484.0,399.4 L487.8,390.1 L491.4,380.2 L495.0,370.4 L498.8,361.3 L503.2,353.5 L508.4,347.5 L514.3,343.5 L520.9,341.2 L528.1,340.3 L535.7,340.4 L543.4,340.9 L551.2,341.5 L558.9,341.8 L566.4,341.8 L573.9,341.5 L581.4,341.3 L589.0,341.4 L596.8,342.1 L604.8,343.4 L613.1,345.2 L621.6,347.4 L629.9,349.4 L638.0,350.7 L645.6,350.8 L652.5,349.2 L658.7,345.9 L664.2,340.8 L669.1,334.2 L673.6,326.8 L678.1,319.0 L682.6,311.7 L687.6,305.2 L693.0,299.9 L698.9,296.0" stroke-width="2.54"/>
<path d="M327.6,479.4 L332.4,472.5 L337.8,467.3 L344.0,464.0 L351.1,462.7 L358.8,463.1 L367.0,464.7 L375.4,466.9 L383.8,468.9 L391.9,470.3 L399.5,470.5 L406.7,469.7 L413.6,467.9 L420.2,465.5 L426.7,463.0 L433.4,460.9 L440.3,459.3 L447.5,458.5 L454.9,458.2 L462.4,457.9 L469.6,457.2 L476.4,455.3 L482.6,451.9 L488.0,446.5 L492.5,439.1 L496.4,430.1 L499.9,419.9 L503.2,409.4 L506.6,399.3 L510.6,390.3 L515.2,383.1 L520.6,377.9 L526.9,374.7 L533.9,373.3 L541.4,373.2 L549.1,373.7 L557.0,374.4 L564.8,374.9 L572.4,375.1 L579.8,374.8 L587.2,374.5 L594.7,374.3 L602.4,374.7 L610.4,375.8 L618.7,377.8 L627.3,380.3 L635.9,382.9 L644.4,385.2 L652.4,386.4 L659.8,386.0 L666.4,383.6 L672.2,379.2 L677.2,372.9 L681.6,365.1 L685.7,356.7 L689.9,348.3 L694.3,340.6 L699.3,334.2 L704.8,329.2 L711.0,325.7" stroke-width="3.90"/>
<path d="M337.8,504.7 L342.9,498.4 L348.6,494.1 L355.3,491.8 L362.7,491.4 L370.7,492.6 L379.1,494.7 L387.6,497.1 L395.9,499.0 L403.9,500.0 L411.4,499.9 L418.4,498.6 L425.1,496.5 L431.7,494.0 L438.2,491.6 L445.0,489.6 L452.0,488.3 L459.3,487.7 L466.8,487.5 L474.2,487.2 L481.3,486.2 L487.9,483.8 L493.8,479.7 L499.0,473.8 L503.4,466.0 L507.2,456.8 L510.8,446.9 L514.3,437.0 L518.2,428.0 L522.7,420.4 L528.0,414.7 L534.0,411.0 L540.8,409.2 L548.2,408.6 L555.8,409.0 L563.6,409.5 L571.3,409.9 L578.8,409.7 L586.1,409.1 L593.2,408.1 L600.4,407.1 L607.7,406.4 L615.3,406.5 L623.2,407.5 L631.5,409.3 L640.0,411.7 L648.5,414.0 L656.7,415.7 L664.4,416.1 L671.4,414.7 L677.6,411.3 L682.9,405.8 L687.6,398.6 L691.8,390.3 L695.8,381.6 L700.0,373.3 L704.6,366.0 L709.8,360.2 L715.6,355.9 L722.0,353.0" stroke-width="2.03"/>
<path d="M344.6,521.4 L350.1,516.3 L356.3,512.9 L363.2,511.5 L370.9,511.7 L379.0,513.1 L387.3,515.0 L395.6,516.9 L403.7,518.1 L411.3,518.4 L418.5,517.6 L425.4,515.8 L432.0,513.4 L438.5,510.9 L445.1,508.5 L451.9,506.7 L459.0,505.5 L466.2,504.9 L473.6,504.4 L480.8,503.6 L487.7,502.0 L494.1,499.0 L499.8,494.4 L504.8,488.1 L509.2,480.4 L513.3,471.7 L517.2,462.7 L521.2,454.1 L525.7,446.6 L530.9,440.6 L536.7,436.3 L543.2,433.8 L550.3,432.6 L557.8,432.5 L565.4,432.7 L573.1,432.9 L580.5,432.7 L587.7,431.9 L594.8,430.5 L601.7,429.0 L608.7,427.6 L615.9,426.7 L623.4,426.6 L631.2,427.4 L639.3,428.8 L647.6,430.5 L655.8,432.0 L663.6,432.7 L670.9,432.1 L677.5,429.7 L683.3,425.4 L688.4,419.3 L693.0,412.0 L697.2,403.9 L701.5,395.8 L706.0,388.3 L711.0,382.0 L716.6,377.1 L722.7,373.6 L729.4,371.3" stroke-width="2.49"/>
<path d="M358.6,556.1 L364.5,552.1 L371.1,549.6 L378.2,548.6 L385.9,548.8 L393.8,549.7 L401.8,550.9 L409.7,551.7 L417.3,552.0 L424.6,551.3 L431.5,549.8 L438.2,547.6 L444.7,545.0 L451.2,542.4 L457.8,540.1 L464.6,538.3 L471.7,537.0 L478.8,536.0 L486.0,535.0 L493.0,533.6 L499.6,531.4 L505.8,528.0 L511.4,523.3 L516.6,517.4 L521.4,510.5 L525.9,503.1 L530.5,495.8 L535.4,489.0 L540.6,483.4 L546.4,479.1 L552.8,476.2 L559.7,474.6 L567.0,473.9 L574.4,473.7 L581.9,473.5 L589.2,472.9 L596.4,471.9 L603.3,470.3 L610.0,468.3 L616.7,466.1 L623.5,464.2 L630.5,462.8 L637.7,462.1 L645.3,462.1 L653.0,462.6 L660.8,463.2 L668.5,463.4 L675.8,462.9 L682.6,461.1 L688.8,457.9 L694.5,453.1 L699.6,447.2 L704.4,440.4 L709.1,433.3 L713.9,426.4 L718.9,420.2 L724.4,415.1 L730.4,411.2 L736.8,408.3 L743.5,406.3" stroke-width="4.06"/>
<path d="M372.1,589.6 L378.4,586.5 L385.2,584.5 L392.3,583.4 L399.7,583.0 L407.2,583.0 L414.7,582.9 L422.1,582.5 L429.3,581.6 L436.2,580.0 L442.9,577.9 L449.5,575.4 L455.9,572.8 L462.4,570.2 L469.1,567.9 L475.8,565.9 L482.7,564.3 L489.6,562.8 L496.5,561.1 L503.3,559.1 L509.7,556.4 L515.8,552.9 L521.6,548.5 L527.1,543.3 L532.3,537.7 L537.5,531.8 L542.8,526.3 L548.4,521.3 L554.2,517.1 L560.5,513.9 L567.1,511.7 L574.1,510.1 L581.2,509.1 L588.4,508.3 L595.6,507.3 L602.6,505.9 L609.4,504.2 L616.1,502.1 L622.7,499.7 L629.3,497.4 L636.0,495.3 L642.9,493.5 L649.9,492.3 L657.1,491.5 L664.5,491.0 L671.8,490.4 L678.9,489.4 L685.8,487.8 L692.4,485.2 L698.5,481.7 L704.2,477.2 L709.7,472.0 L714.9,466.4 L720.2,460.7 L725.6,455.3 L731.2,450.6 L737.2,446.6 L743.4,443.5 L750.0,441.0 L756.7,439.0" stroke-width="4.32"/>
</g>
<polygon points="533.0,320.5 682.0,404.0 515.0,496.0 363.0,410.0" fill="none" stroke="#3b2a1c" stroke-width="1.1" stroke-linejoin="round"/>
<polyline points="363.0,410.0 363.0,438.0 515.0,525.0 682.0,433.0 682.0,404.0" fill="none" stroke="#3b2a1c" stroke-width="1.1" stroke-linejoin="round"/>
<line x1="515" y1="496" x2="515" y2="525" stroke="#3b2a1c" stroke-width="0.9"/><g fill="none" stroke="#222" stroke-width="1.6" stroke-linejoin="round">
<polyline points="224.5,358 366,358 429.5,408.5"/>
<polyline points="224.5,821.5 352,821.5 396.5,781.5"/>
<polyline points="321,494 405,494 437.8,525"/>
<line x1="573" y1="372.5" x2="635" y2="317"/>
<line x1="528" y1="800" x2="580" y2="855"/>
</g>
<circle cx="224.5" cy="358.5" r="5" fill="#2e9a52"/>
<circle cx="429.5" cy="408.7" r="6" fill="#2e9a52"/>
<circle cx="224.4" cy="590.6" r="5" fill="#e8a422"/>
<circle cx="224.4" cy="821.5" r="5.5" fill="#ee7424"/>
<circle cx="396.4" cy="781.4" r="4.5" fill="#eadbb5" stroke="#222" stroke-width="1.4"/>
<circle cx="437.8" cy="525.2" r="4.3" fill="#f3e4c6" stroke="#222" stroke-width="1.4"/>
<circle cx="573" cy="372.7" r="4.6" fill="#f3e4c6" stroke="#222" stroke-width="1.5"/>
<circle cx="528" cy="800" r="4.5" fill="#f3e4c6" stroke="#222" stroke-width="1.4"/>
<line x1="224.4" y1="590.6" x2="236" y2="590.6" stroke="#444" stroke-width="1.2"/>
<rect x="234.5" y="579" width="110" height="21" rx="6" fill="url(#gBar)" stroke="#3a2a1a" stroke-width="1.4"/>
<polygon points="289,584.5 297,590 289,595.5" fill="#111"/>
<g fill="none" stroke="#333" stroke-width="0.9">
<line x1="358.5" y1="398.0" x2="521.0" y2="316.7"/><polygon points="365.7,396.7 358.5,398.0 363.9,393.1" fill="#333" stroke="none"/><line x1="361.9" y1="407.0" x2="356.7" y2="393.3"/><polygon points="515.6,321.6 521.0,316.7 513.8,318.0" fill="#333" stroke="none"/><line x1="530.8" y1="319.9" x2="516.3" y2="315.1"/>
<line x1="549.6" y1="316.7" x2="688.8" y2="393.5"/><polygon points="554.8,321.8 549.6,316.7 556.7,318.3" fill="#333" stroke="none"/><line x1="537.9" y1="319.9" x2="554.4" y2="315.4"/><polygon points="681.7,391.9 688.8,393.5 683.6,388.4" fill="#333" stroke="none"/><line x1="683.7" y1="401.4" x2="691.5" y2="389.3"/>
<line x1="346.6" y1="409" x2="346.6" y2="438"/><polygon points="346.6,409 344.40000000000003,415 348.8,415" fill="#333"/><polygon points="346.6,438 344.40000000000003,432 348.8,432" fill="#333"/><line x1="341" y1="407" x2="358" y2="409.5"/><line x1="342" y1="439" x2="358" y2="440"/>
<line x1="698" y1="404.5" x2="698" y2="432"/><polygon points="698,404.5 695.8,410.5 700.2,410.5" fill="#333"/><polygon points="698,432 695.8,426 700.2,426" fill="#333"/><line x1="690" y1="403" x2="706" y2="404"/><line x1="690" y1="433" x2="706" y2="433"/>
<line x1="362" y1="532" x2="362" y2="597"/><polygon points="362,532 359.8,538 364.2,538" fill="#333"/><polygon points="362,597 359.8,591 364.2,591" fill="#333"/><line x1="355" y1="530.5" x2="372" y2="532"/><line x1="355" y1="598" x2="372" y2="599"/>
<line x1="345.6" y1="769.0" x2="502.0" y2="871.0"/><polygon points="350.4,774.5 345.6,769.0 352.6,771.1" fill="#333" stroke="none"/><line x1="356.1" y1="756.9" x2="342.3" y2="772.8"/><polygon points="495.0,868.9 502.0,871.0 497.2,865.5" fill="#333" stroke="none"/><line x1="511.6" y1="858.2" x2="499.0" y2="875.0"/>
<line x1="529.0" y1="871.0" x2="691.0" y2="765.8"/><polygon points="536.0,868.9 529.0,871.0 533.8,865.5" fill="#333" stroke="none"/><line x1="520.8" y1="857.3" x2="531.6" y2="875.3"/><polygon points="686.2,771.3 691.0,765.8 684.0,767.9" fill="#333" stroke="none"/><line x1="681.4" y1="753.0" x2="694.0" y2="769.8"/>
<line x1="695" y1="717" x2="695" y2="745"/><polygon points="695,717 692.8,723 697.2,723" fill="#333"/><polygon points="695,745 692.8,739 697.2,739" fill="#333"/><line x1="688" y1="715" x2="704" y2="718"/><line x1="688" y1="746" x2="704" y2="746"/>
</g>
<text x="436.5" y="354" font-size="12.5" fill="#222" stroke="#222" stroke-width="0.3" text-anchor="middle" transform="rotate(-27 436.5 354)">mm</text>
<text x="625.7" y="356" font-size="12.5" fill="#222" stroke="#222" stroke-width="0.3" text-anchor="middle" transform="rotate(27 625.7 356)">mm</text>
<text x="427.6" y="816" font-size="12.5" fill="#222" stroke="#222" stroke-width="0.3" text-anchor="middle" transform="rotate(33 427.6 816)">mm</text>
<text x="609" y="815" font-size="12.5" fill="#222" stroke="#222" stroke-width="0.3" text-anchor="middle" transform="rotate(-33 609 815)">mm</text>
<text x="343.5" y="423" font-size="11.5" fill="#222" stroke="#222" stroke-width="0.3" text-anchor="middle" transform="rotate(-90 343.5 423)">mm</text>
<text x="703" y="418" font-size="11.5" fill="#222" stroke="#222" stroke-width="0.3" text-anchor="middle" transform="rotate(90 703 418)">mm</text>
<text x="359.5" y="564" font-size="11.5" fill="#222" stroke="#222" stroke-width="0.3" text-anchor="middle" transform="rotate(-90 359.5 564)">mm</text>
<text x="701" y="731" font-size="11.5" fill="#222" stroke="#222" stroke-width="0.3" text-anchor="middle" transform="rotate(90 701 731)">mm</text>
<line x1="423.0" y1="598.0" x2="387.0" y2="574.9" stroke="#111" stroke-width="1.8"/><polygon points="384.0,573.0 390.5,574.0 387.6,578.5" fill="#111"/>
<line x1="512.0" y1="653.0" x2="432.0" y2="601.9" stroke="#111" stroke-width="1.8"/><polygon points="429.0,600.0 435.5,601.0 432.6,605.5" fill="#111"/><polygon points="512.0,653.0 508.4,647.5 505.5,652.0" fill="#111"/>
<ellipse cx="545.5" cy="638.5" rx="9" ry="5" fill="#f2dfb8" opacity="0.9" transform="rotate(-30 545.5 638.5)"/>
<line x1="530.0" y1="647.0" x2="556.3" y2="632.6" stroke="#111" stroke-width="2.8"/><polygon points="561.0,630.0 555.1,637.9 551.2,630.8" fill="#111"/><polygon points="530.0,647.0 539.8,646.2 535.9,639.1" fill="#111"/>
<ellipse cx="590.5" cy="610.5" rx="9" ry="5" fill="#f2dfb8" opacity="0.9" transform="rotate(-30 590.5 610.5)"/>
<line x1="574.0" y1="619.0" x2="602.2" y2="604.5" stroke="#111" stroke-width="2.8"/><polygon points="607.0,602.0 600.9,609.7 597.1,602.5" fill="#111"/><polygon points="574.0,619.0 583.9,618.5 580.1,611.3" fill="#111"/>
<ellipse cx="638.0" cy="581.0" rx="9" ry="5" fill="#f2dfb8" opacity="0.9" transform="rotate(-30 638.0 581.0)"/>
<line x1="623.0" y1="588.0" x2="648.1" y2="576.3" stroke="#111" stroke-width="2.8"/><polygon points="653.0,574.0 646.6,581.5 643.1,574.1" fill="#111"/><polygon points="623.0,588.0 632.9,587.9 629.4,580.5" fill="#111"/>
<line x1="579.0" y1="568.6" x2="525.9" y2="600.2" stroke="#111" stroke-width="1.5"/><polygon points="522.8,602.0 526.6,596.6 529.3,601.3" fill="#111"/>
<line x1="588.0" y1="563.3" x2="639.3" y2="533.4" stroke="#111" stroke-width="1.5"/><polygon points="642.4,531.6 638.6,537.0 635.9,532.3" fill="#111"/>
<text x="579" y="559.5" font-size="19" font-weight="bold" fill="#111" stroke="#111" stroke-width="0.3" text-anchor="middle" transform="rotate(-28.5 579 559.5)" textLength="130" lengthAdjust="spacingAndGlyphs">0.5mm – 1.2mm</text>
<path d="M383,636 Q385,614 403,604" fill="none" stroke="#111" stroke-width="1.6"/><polygon points="408,601 399,603 403,609" fill="#111"/>
<path d="M641.5,468 C636,477 632,483 632,488 A9.5,9.5 0 0 0 651,488 C651,483 647,477 641.5,468 Z" fill="#9bcbea" stroke="#2b3440" stroke-width="1.3"/>
<path d="M636,488 A5.5,5.5 0 0 0 641,493.5" fill="none" stroke="#1f3a55" stroke-width="1"/>
<path d="M596,654 A14.2,13.5 0 0 1 624.4,654 Z" fill="#8e8e8e" stroke="#333" stroke-width="1.2"/>
<line x1="610" y1="641" x2="609" y2="654" stroke="#333" stroke-width="1.1"/>
<rect x="595.5" y="657.5" width="29" height="9" fill="#8e8e8e" stroke="#333" stroke-width="1.2"/>
<rect x="597" y="653.5" width="26" height="5" fill="#f2f2f0"/>
<path d="M601,657 q3,-4 6,0 M613,657 q3,-4 6,0" fill="none" stroke="#333" stroke-width="1.2"/>
<path d="M769,522 V384 Q769,364 789,364 H812" fill="none" stroke="#2e9a55" stroke-width="17"/>
<polygon points="810,344 836,363.5 810,383" fill="#2e9a55"/>
<path d="M769,638 V772 Q769,790 787,790 H812" fill="none" stroke="#f76c18" stroke-width="17"/>
<polygon points="810,770.5 835,790 810,809" fill="#f76c18"/>
<rect x="672" y="565.5" width="145" height="17" fill="#e0a23c"/>
<polygon points="813.5,559.5 838.5,574 813.5,592.5" fill="#e0a23c"/>
<line x1="895.4" y1="476" x2="895.4" y2="490" stroke="#2e9a55" stroke-width="4.5"/><polygon points="887.5,487 903.3,487 895.4,502" fill="#2e9a55"/>
<line x1="895.4" y1="685" x2="895.4" y2="698" stroke="#f76c18" stroke-width="4.5"/><polygon points="887.5,695.5 903.3,695.5 895.4,711" fill="#f76c18"/>
<circle cx="768.7" cy="576" r="60" fill="#fbfaf6" fill-opacity="0.35" stroke="#2a2a2a" stroke-width="4"/>
<circle cx="768.7" cy="576.5" r="36.5" fill="none" stroke="#2a2a2a" stroke-width="2"/>
<polygon points="768.7,546.5 774.7,547.1 777.9,555.3 782.0,557.5 790.6,555.6 794.5,560.3 790.9,568.3 792.2,572.8 799.7,577.5 799.1,583.5 790.9,586.7 788.7,590.8 790.6,599.4 785.9,603.3 777.9,599.7 773.4,601.0 768.7,608.5 762.7,607.9 759.5,599.7 755.4,597.5 746.8,599.4 742.9,594.7 746.5,586.7 745.2,582.2 737.7,577.5 738.3,571.5 746.5,568.3 748.7,564.2 746.8,555.6 751.5,551.7 759.5,555.3 764.0,554.0" fill="#262626"/>
<circle cx="768.7" cy="577.5" r="16.5" fill="#efe4bf"/>
<circle cx="769.7" cy="575" r="10" fill="#f6efd8" stroke="#262626" stroke-width="3.5"/>
<line x1="776.7" y1="583" x2="797.7" y2="599" stroke="#262626" stroke-width="6" stroke-linecap="round"/>
<path id="arcTop" d="M725.7,590 A44,44 0 1 1 810.7,564" fill="none"/>
<path id="arcBot" d="M718.7,596 A52,52 0 0 0 816.7,594" fill="none"/>
<text font-size="16" font-weight="bold" fill="#262626" stroke="#262626" stroke-width="0.3"><textPath href="#arcTop" startOffset="1%" textLength="142" lengthAdjust="spacingAndGlyphs">QC Control System</textPath></text>
<text font-size="14.5" font-weight="bold" fill="#262626" stroke="#262626" stroke-width="0.3"><textPath href="#arcBot" startOffset="2%" textLength="122" lengthAdjust="spacingAndGlyphs">Inspection Point</textPath></text><linearGradient id="hfront" x1="0" y1="0" x2="1" y2="0"><stop offset="0" stop-color="#d99850"/><stop offset="1" stop-color="#cf8a44"/></linearGradient>
<linearGradient id="hside" x1="0" y1="0" x2="1" y2="0"><stop offset="0" stop-color="#c67e3a"/><stop offset="0.5" stop-color="#d89554"/><stop offset="1" stop-color="#b87034"/></linearGradient>
<g stroke="#6e4220" stroke-width="1" stroke-linejoin="round">
<polygon points="918.0,374.9 947.0,364.4 947.0,418.4 918.0,426.4" fill="url(#hside)"/>
<polygon points="843.9,354.0 918.0,374.9 918.0,426.4 843.9,408.7" fill="url(#hfront)"/>
</g>
<g fill="none" stroke="#7a4a22" stroke-width="0.9">
<line x1="868.4" y1="360.9" x2="868.4" y2="410.8"/>
<line x1="889.8" y1="367.0" x2="889.8" y2="416.0"/>
<polyline points="843.9,364.9 918.0,385.2"/>
<polyline points="843.9,404.9 918.0,422.8"/>
<polygon points="846.9,369.6 865.4,374.6 865.4,406.3 846.9,401.8" stroke="#9a6430"/>
<polygon points="871.3,376.2 886.9,380.4 886.9,411.6 871.3,407.8" stroke="#9a6430"/>
<polygon points="892.8,382.0 915.0,388.0 915.0,418.5 892.8,413.0" stroke="#9a6430"/>
</g>
<g stroke="#5a3616" stroke-width="1.3">
<line x1="853.1" y1="362.1" x2="859.1" y2="363.7"/>
<line x1="876.1" y1="368.4" x2="882.1" y2="370.0"/>
<line x1="900.9" y1="375.3" x2="906.9" y2="376.9"/>
</g>
<g stroke="#6e4220" stroke-width="1" stroke-linejoin="round">
<polygon points="841.4,349.1 918.0,371.6 918.0,375.5 841.4,353.0" fill="#c27c3e"/>
<polygon points="918.0,371.6 948.6,360.4 948.6,364.3 918.0,375.5" fill="#a86a30"/>
<polygon points="841.4,349.1 866.0,340.5 948.6,360.4 918.0,371.6" fill="#e2a762"/>
<polygon points="922.8,315.3 947.0,306.4 947.0,354.0 922.8,358.8" fill="url(#hside)"/>
<polygon points="848.7,297.5 922.8,315.3 922.8,358.8 848.7,342.7" fill="#cf8c48"/>
</g>
<polygon points="869.6,321.0 901.8,329.0 901.8,352.0 869.6,346.0" fill="#9a5e2c" stroke="#6e4220" stroke-width="0.8"/>
<polygon points="869.6,303.6 901.8,311.5 901.8,329.0 869.6,321.0" fill="#d89650" stroke="#6e4220" stroke-width="0.8"/>
<line x1="885.7" y1="307.5" x2="885.7" y2="325" stroke="#6e4220" stroke-width="0.8"/>
<g stroke="#4a2a10" stroke-width="1.1"><line x1="875" y1="314" x2="880" y2="315.3"/><line x1="890" y1="318" x2="895" y2="319.3"/></g>
<g stroke="#6e4220" stroke-width="1">
<polygon points="849.5,299.5 869.6,304.5 869.6,343.5 849.5,338.5" fill="#dca064"/>
<polygon points="852.5,303.5 866.5,307.0 866.5,340.0 852.5,336.5" fill="#3e3530"/>
<polygon points="901.8,312.0 922.0,317.0 922.0,358.0 901.8,353.0" fill="#dca064"/>
<polygon points="904.8,316.0 919.0,319.5 919.0,354.5 904.8,351.0" fill="#3e3530"/>
</g>
<g stroke="#dca064" stroke-width="1.1"><line x1="859.5" y1="305" x2="859.5" y2="338"/><line x1="852.5" y1="320" x2="866.5" y2="323.5"/><line x1="912" y1="317.5" x2="912" y2="352.5"/><line x1="904.8" y1="333.5" x2="919" y2="337"/></g>
<g fill="#e8e2d8" opacity="0.85"><polygon points="853.5,322 858.5,323.3 858.5,330 853.5,328.7"/><polygon points="905.5,335 911,336.4 911,343 905.5,341.6"/></g>
<g stroke="#6e4220" stroke-width="1" stroke-linejoin="round">
<polygon points="843.9,291.1 922.8,311.2 922.8,317.0 843.9,297.5" fill="#c98444"/>
<polygon points="922.8,311.2 947.8,301.6 947.8,307.0 922.8,317.0" fill="#b07034"/>
<polygon points="843.9,291.1 872.9,281.4 947.8,301.6 922.8,311.2" fill="#e0a460"/>
</g>
<radialGradient id="glow"><stop offset="0" stop-color="#fffbe8" stop-opacity="1"/><stop offset="0.4" stop-color="#ffe9b0" stop-opacity="0.75"/><stop offset="1" stop-color="#ffd890" stop-opacity="0"/></radialGradient>
<ellipse cx="877" cy="294" rx="17" ry="12" fill="url(#glow)"/>
<g stroke="#555" stroke-width="1" stroke-linejoin="round">
<polygon points="846.7,545.0 876.0,561.0 876.0,636.0 846.7,624.0" fill="#ebe8e2"/>
<polygon points="876.0,561.0 942.0,526.0 942.0,601.0 876.0,636.0" fill="#efece6"/>
</g>
<clipPath id="pcl"><polygon points="846.7,545 876,561 876,636 846.7,624"/></clipPath>
<g clip-path="url(#pcl)"><path d="M845,545 L877,561 L877,598 L872,606 L868,588 L863,600 L858,578 L853,590 L850,572 L845,585 Z" fill="#d6843a" filter="url(#blur1)"/></g>
<g stroke="#666" stroke-width="0.9">
<polygon points="879.0,566.0 907.0,551.0 907.0,565.0 879.0,580.0" fill="#d98a3e"/>
<polygon points="910.0,549.0 939.0,533.0 939.0,547.0 910.0,563.0" fill="#d98a3e"/>
<polygon points="879.0,583.0 907.0,568.0 907.0,613.0 879.0,628.0" fill="#f2f0ec"/>
<polygon points="910.0,566.0 939.0,550.0 939.0,595.0 910.0,611.0" fill="#f2f0ec"/>
</g>
<path d="M882,584 L905,572 L905,596 L900,605 L896,590 L891,608 L886,594 L882,600 Z" fill="#d6843a" filter="url(#blur1)"/>
<path d="M913,568 L937,555 L937,575 L932,586 L927,575 L922,590 L917,577 L913,583 Z" fill="#d6843a" filter="url(#blur1)"/>
<g stroke="#555" stroke-width="1" stroke-linejoin="round">
<polygon points="843.0,539.7 877.5,557.3 877.5,562.5 843.0,545.0" fill="#c9803f"/>
<polygon points="877.5,557.3 946.4,520.6 946.4,526.0 877.5,562.5" fill="#ddd9d2"/>
<polygon points="843.0,539.7 912.7,504.5 946.4,520.6 877.5,557.3" fill="#d88a3e"/>
</g>
<clipPath id="pct"><polygon points="843,539.7 912.7,504.5 946.4,520.6 877.5,557.3"/></clipPath>
<g clip-path="url(#pct)"><path d="M893,512 L912.7,503 L950,520 L908,544 L895,540 L885,538 L872,535 L868,532 L885,528 Z" fill="#f4f2ee" filter="url(#blur1)"/></g>
<line x1="844.0" y1="818.5" x2="896.6" y2="794.0" stroke="#6b4a28" stroke-width="8" stroke-linecap="square"/><line x1="844.0" y1="818.5" x2="896.6" y2="794.0" stroke="#d6ab74" stroke-width="6" stroke-linecap="square"/><line x1="844.0" y1="818.5" x2="896.6" y2="794.0" stroke="#e8c898" stroke-width="1.8" stroke-linecap="butt"/>
<line x1="896.6" y1="794.0" x2="948.0" y2="819.5" stroke="#6b4a28" stroke-width="8" stroke-linecap="square"/><line x1="896.6" y1="794.0" x2="948.0" y2="819.5" stroke="#d6ab74" stroke-width="6" stroke-linecap="square"/><line x1="896.6" y1="794.0" x2="948.0" y2="819.5" stroke="#e8c898" stroke-width="1.8" stroke-linecap="butt"/>
<line x1="896.6" y1="720.5" x2="896.6" y2="794.0" stroke="#6b4a28" stroke-width="8" stroke-linecap="square"/><line x1="896.6" y1="720.5" x2="896.6" y2="794.0" stroke="#d6ab74" stroke-width="6" stroke-linecap="square"/><line x1="896.6" y1="720.5" x2="896.6" y2="794.0" stroke="#e8c898" stroke-width="1.8" stroke-linecap="butt"/>
<line x1="872.9" y1="731.3" x2="872.9" y2="805.0" stroke="#6b4a28" stroke-width="8" stroke-linecap="square"/><line x1="872.9" y1="731.3" x2="872.9" y2="805.0" stroke="#d6ab74" stroke-width="6" stroke-linecap="square"/><line x1="872.9" y1="731.3" x2="872.9" y2="805.0" stroke="#e8c898" stroke-width="1.8" stroke-linecap="butt"/>
<line x1="919.7" y1="731.3" x2="919.7" y2="805.5" stroke="#6b4a28" stroke-width="8" stroke-linecap="square"/><line x1="919.7" y1="731.3" x2="919.7" y2="805.5" stroke="#d6ab74" stroke-width="6" stroke-linecap="square"/><line x1="919.7" y1="731.3" x2="919.7" y2="805.5" stroke="#e8c898" stroke-width="1.8" stroke-linecap="butt"/>
<line x1="896.6" y1="720.5" x2="844.0" y2="744.5" stroke="#6b4a28" stroke-width="9.5" stroke-linecap="square"/><line x1="896.6" y1="720.5" x2="844.0" y2="744.5" stroke="#d6ab74" stroke-width="7.5" stroke-linecap="square"/><line x1="896.6" y1="720.5" x2="844.0" y2="744.5" stroke="#e8c898" stroke-width="2.2" stroke-linecap="butt"/>
<line x1="896.6" y1="720.5" x2="948.0" y2="744.5" stroke="#6b4a28" stroke-width="9.5" stroke-linecap="square"/><line x1="896.6" y1="720.5" x2="948.0" y2="744.5" stroke="#d6ab74" stroke-width="7.5" stroke-linecap="square"/><line x1="896.6" y1="720.5" x2="948.0" y2="744.5" stroke="#e8c898" stroke-width="2.2" stroke-linecap="butt"/>
<line x1="844.0" y1="744.5" x2="844.0" y2="818.5" stroke="#6b4a28" stroke-width="9.5" stroke-linecap="square"/><line x1="844.0" y1="744.5" x2="844.0" y2="818.5" stroke="#d6ab74" stroke-width="7.5" stroke-linecap="square"/><line x1="844.0" y1="744.5" x2="844.0" y2="818.5" stroke="#e8c898" stroke-width="2.2" stroke-linecap="butt"/>
<line x1="948.0" y1="744.5" x2="948.0" y2="819.5" stroke="#6b4a28" stroke-width="9.5" stroke-linecap="square"/><line x1="948.0" y1="744.5" x2="948.0" y2="819.5" stroke="#d6ab74" stroke-width="7.5" stroke-linecap="square"/><line x1="948.0" y1="744.5" x2="948.0" y2="819.5" stroke="#e8c898" stroke-width="2.2" stroke-linecap="butt"/>
<line x1="844.0" y1="818.5" x2="896.6" y2="845.5" stroke="#6b4a28" stroke-width="9.5" stroke-linecap="square"/><line x1="844.0" y1="818.5" x2="896.6" y2="845.5" stroke="#d6ab74" stroke-width="7.5" stroke-linecap="square"/><line x1="844.0" y1="818.5" x2="896.6" y2="845.5" stroke="#e8c898" stroke-width="2.2" stroke-linecap="butt"/>
<line x1="896.6" y1="845.5" x2="948.0" y2="819.5" stroke="#6b4a28" stroke-width="9.5" stroke-linecap="square"/><line x1="896.6" y1="845.5" x2="948.0" y2="819.5" stroke="#d6ab74" stroke-width="7.5" stroke-linecap="square"/><line x1="896.6" y1="845.5" x2="948.0" y2="819.5" stroke="#e8c898" stroke-width="2.2" stroke-linecap="butt"/>
<line x1="920.8" y1="757.8" x2="920.8" y2="833.3" stroke="#6b4a28" stroke-width="8.5" stroke-linecap="square"/><line x1="920.8" y1="757.8" x2="920.8" y2="833.3" stroke="#d6ab74" stroke-width="6.5" stroke-linecap="square"/><line x1="920.8" y1="757.8" x2="920.8" y2="833.3" stroke="#e8c898" stroke-width="1.9" stroke-linecap="butt"/>
<line x1="844.0" y1="744.5" x2="896.6" y2="769.5" stroke="#6b4a28" stroke-width="9.5" stroke-linecap="square"/><line x1="844.0" y1="744.5" x2="896.6" y2="769.5" stroke="#d6ab74" stroke-width="7.5" stroke-linecap="square"/><line x1="844.0" y1="744.5" x2="896.6" y2="769.5" stroke="#e8c898" stroke-width="2.2" stroke-linecap="butt"/>
<line x1="896.6" y1="769.5" x2="948.0" y2="744.5" stroke="#6b4a28" stroke-width="9.5" stroke-linecap="square"/><line x1="896.6" y1="769.5" x2="948.0" y2="744.5" stroke="#d6ab74" stroke-width="7.5" stroke-linecap="square"/><line x1="896.6" y1="769.5" x2="948.0" y2="744.5" stroke="#e8c898" stroke-width="2.2" stroke-linecap="butt"/>
<line x1="896.6" y1="769.5" x2="896.6" y2="845.5" stroke="#6b4a28" stroke-width="10" stroke-linecap="square"/><line x1="896.6" y1="769.5" x2="896.6" y2="845.5" stroke="#d6ab74" stroke-width="8" stroke-linecap="square"/><line x1="896.6" y1="769.5" x2="896.6" y2="845.5" stroke="#e8c898" stroke-width="2.4" stroke-linecap="butt"/>
<clipPath id="cB"><rect x="55" y="275.5" width="157" height="165.5" rx="8"/></clipPath>
<clipPath id="cBB"><rect x="56" y="508.5" width="156" height="164.5" rx="8"/></clipPath>
<clipPath id="cCC"><rect x="55.5" y="739.5" width="156.5" height="165" rx="8"/></clipPath>
<g clip-path="url(#cB)" fill="none">
<path d="M152.8,275 Q158.1,358.0 154.7,441" stroke="#48a566" stroke-width="3.8" stroke-opacity="0.22"/>
<path d="M59.6,275 Q61.3,358.0 62.8,441" stroke="#5fb57a" stroke-width="2.7" stroke-opacity="0.10"/>
<path d="M128.6,275 Q123.9,358.0 126.6,441" stroke="#48a566" stroke-width="1.8" stroke-opacity="0.19"/>
<path d="M119.1,275 Q115.0,358.0 121.5,441" stroke="#1f7a3d" stroke-width="1.5" stroke-opacity="0.10"/>
<path d="M151.9,275 Q157.6,358.0 148.0,441" stroke="#5fb57a" stroke-width="1.3" stroke-opacity="0.20"/>
<path d="M205.7,275 Q203.2,358.0 209.4,441" stroke="#5fb57a" stroke-width="1.5" stroke-opacity="0.16"/>
<path d="M161.4,275 Q157.8,358.0 165.1,441" stroke="#48a566" stroke-width="1.6" stroke-opacity="0.14"/>
<path d="M58.4,275 Q55.6,358.0 57.0,441" stroke="#5fb57a" stroke-width="2.5" stroke-opacity="0.20"/>
<path d="M147.0,275 Q145.1,358.0 145.5,441" stroke="#48a566" stroke-width="3.2" stroke-opacity="0.20"/>
<path d="M130.5,275 Q130.1,358.0 127.9,441" stroke="#1f7a3d" stroke-width="2.1" stroke-opacity="0.12"/>
<path d="M202.4,275 Q206.6,358.0 198.6,441" stroke="#1f7a3d" stroke-width="4.6" stroke-opacity="0.20"/>
<path d="M112.5,275 Q111.9,358.0 114.2,441" stroke="#5fb57a" stroke-width="3.1" stroke-opacity="0.17"/>
<path d="M204.8,275 Q210.0,358.0 208.4,441" stroke="#5fb57a" stroke-width="1.3" stroke-opacity="0.13"/>
<path d="M110.7,275 Q106.0,358.0 112.7,441" stroke="#1f7a3d" stroke-width="2.9" stroke-opacity="0.20"/>
<path d="M190.0,275 Q186.5,358.0 190.1,441" stroke="#5fb57a" stroke-width="0.9" stroke-opacity="0.13"/>
<path d="M78.3,275 Q78.8,358.0 76.8,441" stroke="#48a566" stroke-width="1.9" stroke-opacity="0.13"/>
<path d="M82.9,275 Q85.5,358.0 81.3,441" stroke="#5fb57a" stroke-width="1.1" stroke-opacity="0.15"/>
<path d="M168.1,275 Q168.5,358.0 167.3,441" stroke="#48a566" stroke-width="1.1" stroke-opacity="0.12"/>
<path d="M148.3,275 Q150.1,358.0 145.4,441" stroke="#1f7a3d" stroke-width="4.1" stroke-opacity="0.23"/>
<path d="M155.2,275 Q159.3,358.0 152.3,441" stroke="#1f7a3d" stroke-width="4.0" stroke-opacity="0.19"/>
<path d="M204.1,275 Q199.4,358.0 203.6,441" stroke="#1f7a3d" stroke-width="3.3" stroke-opacity="0.10"/>
<path d="M187.6,275 Q192.7,358.0 188.6,441" stroke="#1f7a3d" stroke-width="2.0" stroke-opacity="0.11"/>
<path d="M137.0,275 Q139.7,358.0 136.8,441" stroke="#48a566" stroke-width="4.6" stroke-opacity="0.12"/>
<path d="M118.4,275 Q122.3,358.0 118.6,441" stroke="#1f7a3d" stroke-width="1.4" stroke-opacity="0.11"/>
<path d="M202.1,275 Q197.2,358.0 200.3,441" stroke="#5fb57a" stroke-width="4.3" stroke-opacity="0.20"/>
<path d="M191.2,275 Q193.5,358.0 192.5,441" stroke="#1f7a3d" stroke-width="2.2" stroke-opacity="0.19"/>
<path d="M112.1,275 Q116.1,358.0 110.2,441" stroke="#1f7a3d" stroke-width="3.6" stroke-opacity="0.23"/>
<path d="M167.4,275 Q169.2,358.0 168.1,441" stroke="#1f7a3d" stroke-width="4.6" stroke-opacity="0.08"/>
</g>
<g clip-path="url(#cBB)" fill="none">
<path d="M179.8,508 Q182.9,590.5 176.1,673" stroke="#a87420" stroke-width="4.1" stroke-opacity="0.10"/>
<path d="M147.5,508 Q145.3,590.5 143.7,673" stroke="#f0c870" stroke-width="4.7" stroke-opacity="0.15"/>
<path d="M86.9,508 Q83.2,590.5 87.3,673" stroke="#e8bb5a" stroke-width="4.3" stroke-opacity="0.20"/>
<path d="M97.4,508 Q101.6,590.5 96.1,673" stroke="#e8bb5a" stroke-width="4.0" stroke-opacity="0.09"/>
<path d="M180.8,508 Q183.2,590.5 182.9,673" stroke="#a87420" stroke-width="4.0" stroke-opacity="0.19"/>
<path d="M180.2,508 Q181.3,590.5 177.8,673" stroke="#e8bb5a" stroke-width="1.2" stroke-opacity="0.18"/>
<path d="M112.2,508 Q112.4,590.5 113.4,673" stroke="#b07e22" stroke-width="4.5" stroke-opacity="0.18"/>
<path d="M181.7,508 Q183.3,590.5 179.6,673" stroke="#e8bb5a" stroke-width="4.7" stroke-opacity="0.14"/>
<path d="M111.8,508 Q107.2,590.5 113.1,673" stroke="#b07e22" stroke-width="1.3" stroke-opacity="0.13"/>
<path d="M86.6,508 Q87.8,590.5 89.3,673" stroke="#b07e22" stroke-width="2.7" stroke-opacity="0.21"/>
<path d="M137.5,508 Q131.7,590.5 136.1,673" stroke="#b07e22" stroke-width="1.6" stroke-opacity="0.22"/>
<path d="M152.8,508 Q153.1,590.5 151.1,673" stroke="#a87420" stroke-width="2.0" stroke-opacity="0.18"/>
<path d="M132.2,508 Q127.4,590.5 131.8,673" stroke="#a87420" stroke-width="1.5" stroke-opacity="0.20"/>
<path d="M69.9,508 Q69.3,590.5 72.5,673" stroke="#a87420" stroke-width="3.2" stroke-opacity="0.20"/>
<path d="M136.6,508 Q141.9,590.5 134.1,673" stroke="#a87420" stroke-width="2.7" stroke-opacity="0.18"/>
<path d="M126.4,508 Q120.6,590.5 126.7,673" stroke="#b07e22" stroke-width="3.7" stroke-opacity="0.12"/>
<path d="M181.1,508 Q179.0,590.5 181.2,673" stroke="#a87420" stroke-width="1.6" stroke-opacity="0.23"/>
<path d="M200.6,508 Q197.8,590.5 200.4,673" stroke="#a87420" stroke-width="2.5" stroke-opacity="0.15"/>
<path d="M78.2,508 Q79.8,590.5 77.9,673" stroke="#f0c870" stroke-width="2.3" stroke-opacity="0.13"/>
<path d="M81.4,508 Q83.8,590.5 79.6,673" stroke="#a87420" stroke-width="4.5" stroke-opacity="0.18"/>
<path d="M208.1,508 Q213.3,590.5 206.4,673" stroke="#b07e22" stroke-width="3.7" stroke-opacity="0.08"/>
<path d="M126.1,508 Q127.4,590.5 126.7,673" stroke="#e8bb5a" stroke-width="1.0" stroke-opacity="0.18"/>
<path d="M113.9,508 Q118.1,590.5 110.4,673" stroke="#a87420" stroke-width="4.7" stroke-opacity="0.11"/>
<path d="M203.8,508 Q207.5,590.5 206.2,673" stroke="#a87420" stroke-width="3.3" stroke-opacity="0.16"/>
<path d="M67.8,508 Q66.2,590.5 65.0,673" stroke="#f0c870" stroke-width="1.7" stroke-opacity="0.17"/>
<path d="M150.6,508 Q153.2,590.5 147.0,673" stroke="#e8bb5a" stroke-width="1.4" stroke-opacity="0.15"/>
</g>
<g clip-path="url(#cCC)" fill="none">
<path d="M105.8,739 Q100.7,822.0 106.1,905" stroke="#f09050" stroke-width="1.4" stroke-opacity="0.13"/>
<path d="M64.1,739 Q59.1,822.0 63.5,905" stroke="#f09050" stroke-width="2.8" stroke-opacity="0.12"/>
<path d="M141.5,739 Q146.9,822.0 142.6,905" stroke="#f09050" stroke-width="1.0" stroke-opacity="0.17"/>
<path d="M64.7,739 Q70.4,822.0 61.1,905" stroke="#f09050" stroke-width="3.1" stroke-opacity="0.21"/>
<path d="M100.5,739 Q101.3,822.0 101.0,905" stroke="#f09050" stroke-width="1.4" stroke-opacity="0.18"/>
<path d="M71.2,739 Q69.6,822.0 71.6,905" stroke="#c45a18" stroke-width="3.1" stroke-opacity="0.09"/>
<path d="M64.4,739 Q67.7,822.0 64.1,905" stroke="#b85010" stroke-width="1.6" stroke-opacity="0.22"/>
<path d="M111.8,739 Q114.2,822.0 109.7,905" stroke="#c45a18" stroke-width="1.8" stroke-opacity="0.17"/>
<path d="M137.5,739 Q134.9,822.0 141.3,905" stroke="#b85010" stroke-width="4.3" stroke-opacity="0.10"/>
<path d="M120.6,739 Q125.8,822.0 120.0,905" stroke="#c45a18" stroke-width="3.8" stroke-opacity="0.22"/>
<path d="M67.2,739 Q65.3,822.0 66.0,905" stroke="#f6a060" stroke-width="3.0" stroke-opacity="0.15"/>
<path d="M180.1,739 Q185.4,822.0 179.9,905" stroke="#f09050" stroke-width="1.1" stroke-opacity="0.18"/>
<path d="M64.5,739 Q61.9,822.0 63.6,905" stroke="#b85010" stroke-width="3.6" stroke-opacity="0.18"/>
<path d="M58.5,739 Q59.9,822.0 58.5,905" stroke="#c45a18" stroke-width="2.6" stroke-opacity="0.11"/>
<path d="M100.1,739 Q98.8,822.0 103.1,905" stroke="#b85010" stroke-width="3.8" stroke-opacity="0.09"/>
<path d="M125.5,739 Q129.4,822.0 128.4,905" stroke="#c45a18" stroke-width="3.0" stroke-opacity="0.12"/>
<path d="M120.2,739 Q125.7,822.0 117.4,905" stroke="#b85010" stroke-width="2.2" stroke-opacity="0.11"/>
<path d="M91.4,739 Q95.4,822.0 88.9,905" stroke="#b85010" stroke-width="1.7" stroke-opacity="0.12"/>
<path d="M77.9,739 Q83.3,822.0 79.4,905" stroke="#f6a060" stroke-width="2.9" stroke-opacity="0.16"/>
<path d="M152.0,739 Q151.4,822.0 154.9,905" stroke="#f09050" stroke-width="3.5" stroke-opacity="0.22"/>
<path d="M161.9,739 Q160.6,822.0 158.7,905" stroke="#b85010" stroke-width="3.0" stroke-opacity="0.18"/>
<path d="M64.8,739 Q64.1,822.0 61.7,905" stroke="#c45a18" stroke-width="1.1" stroke-opacity="0.17"/>
<path d="M71.1,739 Q76.5,822.0 72.0,905" stroke="#f09050" stroke-width="3.1" stroke-opacity="0.09"/>
<path d="M87.6,739 Q93.1,822.0 88.5,905" stroke="#f6a060" stroke-width="2.3" stroke-opacity="0.15"/>
<path d="M73.1,739 Q72.9,822.0 71.6,905" stroke="#b85010" stroke-width="2.8" stroke-opacity="0.10"/>
<path d="M172.7,739 Q176.6,822.0 170.0,905" stroke="#b85010" stroke-width="3.8" stroke-opacity="0.08"/>
<path d="M204.3,739 Q206.6,822.0 207.6,905" stroke="#c45a18" stroke-width="2.9" stroke-opacity="0.19"/>
<path d="M101.8,739 Q104.2,822.0 99.9,905" stroke="#f09050" stroke-width="3.4" stroke-opacity="0.14"/>
<path d="M81.2,739 Q82.9,822.0 82.1,905" stroke="#f6a060" stroke-width="3.9" stroke-opacity="0.20"/>
<path d="M174.1,739 Q177.9,822.0 176.0,905" stroke="#c45a18" stroke-width="1.6" stroke-opacity="0.11"/>
</g>
<g clip-path="url(#cBB)">
<g transform="translate(80 534) rotate(-15) scale(0.8)"><g fill="#e8c48e" opacity="0.7200000000000001" filter="url(#blur2)" transform="scale(1.25)"><path d="M0,0 C-6,-15 -19,-15 -18,-5 C-17,2 -8,2 0,0 Z"/><path d="M0,0 C6,-15 19,-15 18,-5 C17,2 8,2 0,0 Z"/><path d="M0,1 C-8,3 -15,11 -9,15 C-4,17 -1,8 0,1 Z"/><path d="M0,1 C8,3 15,11 9,15 C4,17 1,8 0,1 Z"/></g><g fill="#c8957a" opacity="0.9" stroke="#7a4a3a" stroke-opacity="0.5" stroke-width="0.8"><path d="M0,0 C-6,-15 -19,-15 -18,-5 C-17,2 -8,2 0,0 Z"/><path d="M0,0 C6,-15 19,-15 18,-5 C17,2 8,2 0,0 Z"/><path d="M0,1 C-8,3 -15,11 -9,15 C-4,17 -1,8 0,1 Z"/><path d="M0,1 C8,3 15,11 9,15 C4,17 1,8 0,1 Z"/></g><line x1="0" y1="-6" x2="0" y2="9" stroke="#3a2810" stroke-width="1.6"/></g>
<g transform="translate(185 536) rotate(10) scale(1.15)"><g fill="#f0dcae" opacity="0.68" filter="url(#blur2)" transform="scale(1.25)"><path d="M0,0 C-6,-15 -19,-15 -18,-5 C-17,2 -8,2 0,0 Z"/><path d="M0,0 C6,-15 19,-15 18,-5 C17,2 8,2 0,0 Z"/><path d="M0,1 C-8,3 -15,11 -9,15 C-4,17 -1,8 0,1 Z"/><path d="M0,1 C8,3 15,11 9,15 C4,17 1,8 0,1 Z"/></g><g fill="#dcc190" opacity="0.85" stroke="#8a6a3a" stroke-opacity="0.5" stroke-width="0.8"><path d="M0,0 C-6,-15 -19,-15 -18,-5 C-17,2 -8,2 0,0 Z"/><path d="M0,0 C6,-15 19,-15 18,-5 C17,2 8,2 0,0 Z"/><path d="M0,1 C-8,3 -15,11 -9,15 C-4,17 -1,8 0,1 Z"/><path d="M0,1 C8,3 15,11 9,15 C4,17 1,8 0,1 Z"/></g><line x1="0" y1="-6" x2="0" y2="9" stroke="#3a2810" stroke-width="1.6"/></g>
<g transform="translate(151 558) rotate(5) scale(0.6)"><g fill="#f2e2c0" opacity="0.5599999999999999" filter="url(#blur2)" transform="scale(1.25)"><path d="M0,0 C-6,-15 -19,-15 -18,-5 C-17,2 -8,2 0,0 Z"/><path d="M0,0 C6,-15 19,-15 18,-5 C17,2 8,2 0,0 Z"/><path d="M0,1 C-8,3 -15,11 -9,15 C-4,17 -1,8 0,1 Z"/><path d="M0,1 C8,3 15,11 9,15 C4,17 1,8 0,1 Z"/></g><g fill="#ecd8b0" opacity="0.7" stroke="#c0a070" stroke-opacity="0.5" stroke-width="0.8"><path d="M0,0 C-6,-15 -19,-15 -18,-5 C-17,2 -8,2 0,0 Z"/><path d="M0,0 C6,-15 19,-15 18,-5 C17,2 8,2 0,0 Z"/><path d="M0,1 C-8,3 -15,11 -9,15 C-4,17 -1,8 0,1 Z"/><path d="M0,1 C8,3 15,11 9,15 C4,17 1,8 0,1 Z"/></g><line x1="0" y1="-6" x2="0" y2="9" stroke="#3a2810" stroke-width="1.6"/></g>
<g transform="translate(83 643) rotate(0) scale(1.25)"><g fill="#ecd49e" opacity="0.6000000000000001" filter="url(#blur2)" transform="scale(1.25)"><path d="M0,0 C-6,-15 -19,-15 -18,-5 C-17,2 -8,2 0,0 Z"/><path d="M0,0 C6,-15 19,-15 18,-5 C17,2 8,2 0,0 Z"/><path d="M0,1 C-8,3 -15,11 -9,15 C-4,17 -1,8 0,1 Z"/><path d="M0,1 C8,3 15,11 9,15 C4,17 1,8 0,1 Z"/></g><g fill="#d8bd88" opacity="0.75" stroke="#8a6a3a" stroke-opacity="0.5" stroke-width="0.8"><path d="M0,0 C-6,-15 -19,-15 -18,-5 C-17,2 -8,2 0,0 Z"/><path d="M0,0 C6,-15 19,-15 18,-5 C17,2 8,2 0,0 Z"/><path d="M0,1 C-8,3 -15,11 -9,15 C-4,17 -1,8 0,1 Z"/><path d="M0,1 C8,3 15,11 9,15 C4,17 1,8 0,1 Z"/></g><line x1="0" y1="-6" x2="0" y2="9" stroke="#3a2810" stroke-width="1.6"/></g>
<g transform="translate(180 639) rotate(12) scale(1.1)"><g fill="#e8cc90" opacity="0.7200000000000001" filter="url(#blur2)" transform="scale(1.25)"><path d="M0,0 C-6,-15 -19,-15 -18,-5 C-17,2 -8,2 0,0 Z"/><path d="M0,0 C6,-15 19,-15 18,-5 C17,2 8,2 0,0 Z"/><path d="M0,1 C-8,3 -15,11 -9,15 C-4,17 -1,8 0,1 Z"/><path d="M0,1 C8,3 15,11 9,15 C4,17 1,8 0,1 Z"/></g><g fill="#b0906a" opacity="0.9" stroke="#3a2818" stroke-opacity="0.5" stroke-width="0.8"><path d="M0,0 C-6,-15 -19,-15 -18,-5 C-17,2 -8,2 0,0 Z"/><path d="M0,0 C6,-15 19,-15 18,-5 C17,2 8,2 0,0 Z"/><path d="M0,1 C-8,3 -15,11 -9,15 C-4,17 -1,8 0,1 Z"/><path d="M0,1 C8,3 15,11 9,15 C4,17 1,8 0,1 Z"/></g><line x1="0" y1="-6" x2="0" y2="9" stroke="#3a2810" stroke-width="1.6"/></g>
</g>
<g clip-path="url(#cCC)">
<ellipse cx="113" cy="778" rx="14.0" ry="18.0" fill="none" stroke="#c9601c" stroke-opacity="0.35" stroke-width="1"/>
<ellipse cx="113" cy="778" rx="21.0" ry="27.0" fill="none" stroke="#c9601c" stroke-opacity="0.35" stroke-width="1"/>
<ellipse cx="182" cy="795" rx="13.0" ry="20.0" fill="none" stroke="#c9601c" stroke-opacity="0.35" stroke-width="1"/>
<ellipse cx="182" cy="795" rx="19.5" ry="30.0" fill="none" stroke="#c9601c" stroke-opacity="0.35" stroke-width="1"/>
<ellipse cx="102" cy="862" rx="11.0" ry="20.0" fill="none" stroke="#c9601c" stroke-opacity="0.35" stroke-width="1"/>
<ellipse cx="102" cy="862" rx="16.5" ry="30.0" fill="none" stroke="#c9601c" stroke-opacity="0.35" stroke-width="1"/>
<ellipse cx="183" cy="868" rx="9.0" ry="10.0" fill="none" stroke="#c9601c" stroke-opacity="0.35" stroke-width="1"/>
<ellipse cx="183" cy="868" rx="13.5" ry="15.0" fill="none" stroke="#c9601c" stroke-opacity="0.35" stroke-width="1"/>
<ellipse cx="113" cy="778" rx="7" ry="6" fill="#a8501a" opacity="0.55"/><ellipse cx="113" cy="778" rx="3.8" ry="3.5" fill="#2e2018"/>
<ellipse cx="182" cy="795" rx="9" ry="11" fill="#a8501a" opacity="0.35"/><path d="M182,786 C175,789 175,800 182,802 C189,800 189,789 182,786 Z M180,801 L182,811 L184,801 Z" fill="#2e1e16" opacity="0.9"/>
<ellipse cx="102" cy="862" rx="8" ry="14" fill="#a8501a" opacity="0.35"/><path d="M102,850 C96,856 96,870 102,876 C108,870 108,856 102,850 Z" fill="#2a1810" opacity="0.92"/>
<circle cx="183" cy="868" r="4.2" fill="#d89060" stroke="#5a3018" stroke-width="1.6"/>
<path d="M138.8,740 L139.5,757 L141.4,774 L140.5,790 L139.7,806 L136,830 L132.6,853 L136.2,874 L137.5,890 L138.8,905" fill="none" stroke="#2a160a" stroke-width="1.7"/>
<path d="M132.6,853 L124,857 L116.8,860 M110,862 L97,864 L78,866 M136.5,876 L142,880 L148.6,883" fill="none" stroke="#2a160a" stroke-width="1"/>
</g><!-- title -->
<text x="94.5" y="86" font-size="48" font-weight="bold" fill="#111" stroke="#111" stroke-width="0.9" textLength="840" lengthAdjust="spacingAndGlyphs">INTERNATIONAL PLYWOOD GRADING</text>
<text x="139" y="137" font-size="48" font-weight="bold" fill="#111" stroke="#111" stroke-width="0.9" textLength="750" lengthAdjust="spacingAndGlyphs">SPECTRUM &amp; LAYER STRUCTURE</text>
<text x="245" y="177" font-size="27.5" fill="#1a1a1a" stroke="#1a1a1a" stroke-width="0.8" textLength="539" lengthAdjust="spacingAndGlyphs">Face/Back Veneer Quality Analysis (B/BB, CC)</text>

<!-- section headings -->
<g font-size="22" font-weight="bold" fill="#111" stroke="#111" stroke-width="0.35">
<text x="67" y="231" textLength="182" lengthAdjust="spacingAndGlyphs">Grade Comparison</text>
<text x="158" y="255" text-anchor="middle">Matrix</text>
<text x="438" y="231" textLength="148" lengthAdjust="spacingAndGlyphs">Exploded Layer</text>
<text x="442" y="255" textLength="140" lengthAdjust="spacingAndGlyphs">Cross-Section</text>
<text x="806" y="231" textLength="162" lengthAdjust="spacingAndGlyphs">Application Flow</text>
<text x="823.5" y="256" textLength="127" lengthAdjust="spacingAndGlyphs">&amp; Integration</text>
</g>

<!-- grade cards -->
<g font-size="27.5" font-weight="bold" fill="#f8f6ee" stroke="#f8f6ee" stroke-width="0.4" filter="url(#tsh)">
<text x="88.5" y="369" textLength="91" lengthAdjust="spacingAndGlyphs">Grade B</text>
<text x="79" y="602" textLength="108" lengthAdjust="spacingAndGlyphs">Grade BB</text>
<text x="79" y="832" textLength="109" lengthAdjust="spacingAndGlyphs">Grade CC</text>
</g>

<!-- captions -->
<g font-size="18" font-weight="bold" fill="#1a1a1a" stroke="#1a1a1a" stroke-width="0.2">
<text x="57" y="462" textLength="154.5" lengthAdjust="spacingAndGlyphs">Highest Commercial</text>
<text x="60" y="481.5" textLength="149.5" lengthAdjust="spacingAndGlyphs">Grade - Clear Finish</text>
<text x="63.4" y="695" textLength="142" lengthAdjust="spacingAndGlyphs">Workharpe Grade -</text>
<text x="59.4" y="714.5" textLength="150.6" lengthAdjust="spacingAndGlyphs">Paint/Veneer Ready</text>
<text x="82" y="926" textLength="104" lengthAdjust="spacingAndGlyphs">Utility Grade -</text>
<text x="77" y="945" textLength="115" lengthAdjust="spacingAndGlyphs">Structural Core</text>
</g>


<!-- center / right labels -->
<g font-size="18" font-weight="bold" fill="#151515" stroke="#151515" stroke-width="0.2">
<text x="250" y="571" textLength="79" lengthAdjust="spacingAndGlyphs">Premium /</text>
<text x="250" y="621" textLength="78" lengthAdjust="spacingAndGlyphs">Standard /</text>
<text x="267.5" y="640.6" textLength="43.5" lengthAdjust="spacingAndGlyphs">Utility</text>
<text x="639" y="323" textLength="94" lengthAdjust="spacingAndGlyphs">Face Veneer</text>
<text x="322" y="488.6" textLength="91" lengthAdjust="spacingAndGlyphs">Core Layers</text>
<text x="658" y="476.8" textLength="68" lengthAdjust="spacingAndGlyphs">Moisture</text>
<text x="658" y="494.6" textLength="71.8" lengthAdjust="spacingAndGlyphs">Resistant</text>
<text x="658" y="512.3" textLength="39" lengthAdjust="spacingAndGlyphs">Bond</text>
<text x="350" y="654" textLength="71" lengthAdjust="spacingAndGlyphs">90° Grain</text>
<text x="343.7" y="672.8" textLength="84.3" lengthAdjust="spacingAndGlyphs">Alternation</text>
<text x="628.7" y="645.6" textLength="83.3" lengthAdjust="spacingAndGlyphs">High Shear</text>
<text x="628.7" y="663.4" textLength="65.3" lengthAdjust="spacingAndGlyphs">Strength</text>
<text x="628.7" y="681" textLength="70" lengthAdjust="spacingAndGlyphs">Adhesive</text>
<text x="586" y="865.8" textLength="94.8" lengthAdjust="spacingAndGlyphs">Back Veneer</text>
<text x="860" y="452.7" textLength="71" lengthAdjust="spacingAndGlyphs">High-End</text>
<text x="860.8" y="471" textLength="69.2" lengthAdjust="spacingAndGlyphs">Furniture</text>
<text x="866.6" y="661" textLength="57.8" lengthAdjust="spacingAndGlyphs">Painted</text>
<text x="858.75" y="679.4" textLength="73.75" lengthAdjust="spacingAndGlyphs">Cabinetry</text>
<text x="846" y="873" textLength="99.2" lengthAdjust="spacingAndGlyphs">Construction</text>
<text x="864.6" y="892" textLength="62.1" lengthAdjust="spacingAndGlyphs">Framing</text>
</g>
<!-- footer -->
<text x="438" y="1006" font-size="21" fill="#444" textLength="148" lengthAdjust="spacingAndGlyphs">Yicaiyigou.com</text>

<!-- notation box -->
<rect x="803" y="925" width="186.7" height="49.7" fill="#f9f9f9" stroke="#a4a4a4" stroke-width="1.3"/>
<text x="828" y="946.5" font-size="16" font-weight="bold" fill="#111" stroke="#111" stroke-width="0.25" textLength="131" lengthAdjust="spacingAndGlyphs">Face/Back Notation</text><text x="959.5" y="946.5" font-size="16" fill="#111">:</text>
<text x="814" y="965" font-size="16.5" fill="#111" stroke="#111" stroke-width="0.15" textLength="165" lengthAdjust="spacingAndGlyphs">Left = Face, Right = Back</text>

</svg>
</body></html>
